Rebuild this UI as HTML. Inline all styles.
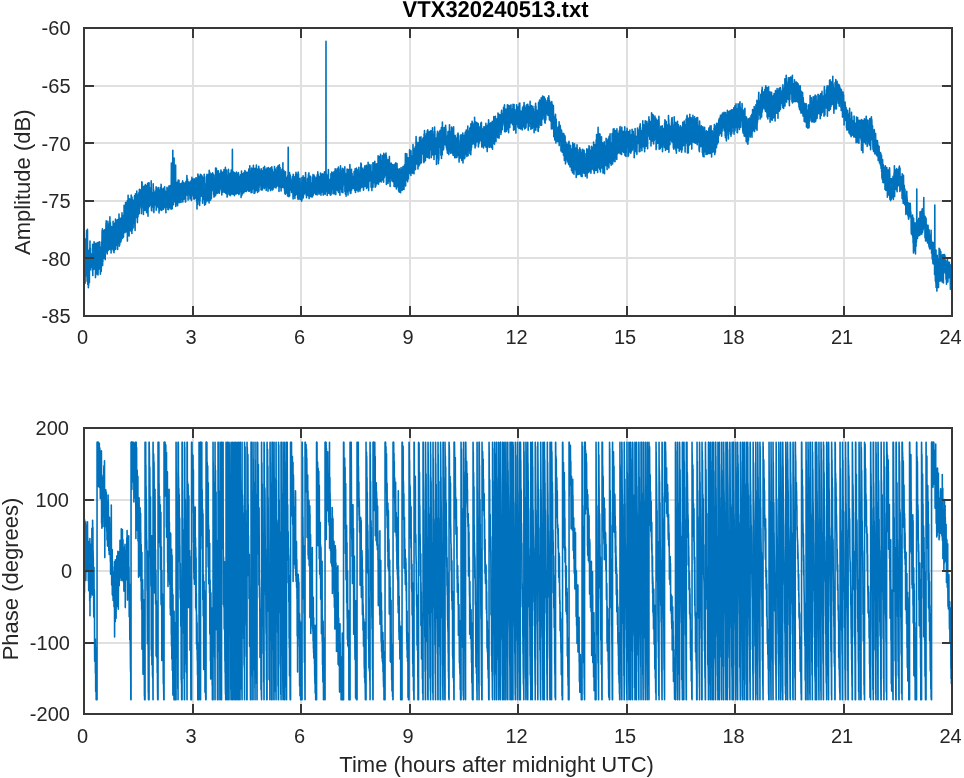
<!DOCTYPE html>
<html><head><meta charset="utf-8"><title>VTX320240513</title>
<style>html,body{margin:0;padding:0;background:#fff;}svg{display:block;}</style>
</head><body>
<svg width="964" height="778" viewBox="0 0 964 778" style="will-change:transform">
<rect width="964" height="778" fill="#fff"/>
<rect x="192.0" y="28.0" width="2" height="288.0" fill="#e0e0e0"/>
<rect x="300.0" y="28.0" width="2" height="288.0" fill="#e0e0e0"/>
<rect x="409.0" y="28.0" width="2" height="288.0" fill="#e0e0e0"/>
<rect x="517.0" y="28.0" width="2" height="288.0" fill="#e0e0e0"/>
<rect x="626.0" y="28.0" width="2" height="288.0" fill="#e0e0e0"/>
<rect x="734.0" y="28.0" width="2" height="288.0" fill="#e0e0e0"/>
<rect x="843.0" y="28.0" width="2" height="288.0" fill="#e0e0e0"/>
<rect x="84.0" y="85.0" width="868.0" height="2" fill="#e0e0e0"/>
<rect x="84.0" y="142.0" width="868.0" height="2" fill="#e0e0e0"/>
<rect x="84.0" y="200.0" width="868.0" height="2" fill="#e0e0e0"/>
<rect x="84.0" y="257.0" width="868.0" height="2" fill="#e0e0e0"/>
<rect x="192.0" y="428.0" width="2" height="286.0" fill="#e0e0e0"/>
<rect x="300.0" y="428.0" width="2" height="286.0" fill="#e0e0e0"/>
<rect x="409.0" y="428.0" width="2" height="286.0" fill="#e0e0e0"/>
<rect x="517.0" y="428.0" width="2" height="286.0" fill="#e0e0e0"/>
<rect x="626.0" y="428.0" width="2" height="286.0" fill="#e0e0e0"/>
<rect x="734.0" y="428.0" width="2" height="286.0" fill="#e0e0e0"/>
<rect x="843.0" y="428.0" width="2" height="286.0" fill="#e0e0e0"/>
<rect x="84.0" y="499.0" width="868.0" height="2" fill="#e0e0e0"/>
<rect x="84.0" y="570.0" width="868.0" height="2" fill="#e0e0e0"/>
<rect x="84.0" y="642.0" width="868.0" height="2" fill="#e0e0e0"/>
<polyline points="84.0,241.3 84.1,246.6 84.2,278.6 84.4,269.5 84.5,251.2 84.6,241.7 84.8,259.9 84.9,238.7 85.0,269.9 85.1,283.2 85.2,245.1 85.4,277.1 85.5,270.4 85.6,246.4 85.8,246.2 85.9,273.7 86.0,268.2 86.1,250.8 86.2,271.6 86.4,239.6 86.5,238.6 86.6,230.6 86.8,236.8 86.9,247.4 87.0,247.6 87.1,281.3 87.2,238.0 87.4,229.4 87.5,230.5 87.6,266.5 87.8,284.5 87.9,262.3 88.0,280.5 88.1,268.4 88.2,277.9 88.4,287.8 88.5,264.1 88.6,286.1 88.8,261.2 88.9,250.3 89.0,253.3 89.1,265.2 89.2,254.9 89.4,282.6 89.5,255.0 89.6,254.6 89.8,248.4 89.9,255.6 90.0,241.0 90.1,270.1 90.2,253.8 90.4,248.1 90.5,269.7 90.6,253.4 90.8,258.6 90.9,259.1 91.0,255.1 91.1,258.7 91.2,265.0 91.4,267.1 91.5,255.7 91.6,254.1 91.8,256.4 91.9,253.7 92.0,261.0 92.1,256.4 92.2,258.7 92.4,255.6 92.5,271.1 92.6,244.2 92.8,275.4 92.9,249.1 93.0,269.4 93.1,264.3 93.2,252.3 93.4,269.5 93.5,249.5 93.6,244.2 93.8,264.6 93.9,258.8 94.0,265.0 94.1,241.7 94.2,249.9 94.4,265.4 94.5,246.6 94.6,268.9 94.8,256.0 94.9,264.4 95.0,260.7 95.1,248.5 95.2,243.9 95.4,247.5 95.5,277.6 95.6,274.3 95.8,256.2 95.9,255.2 96.0,247.6 96.1,271.6 96.2,243.0 96.4,253.4 96.5,250.4 96.6,248.7 96.8,274.0 96.9,249.6 97.0,258.3 97.1,254.6 97.2,260.6 97.4,253.0 97.5,252.4 97.6,250.5 97.8,242.5 97.9,257.1 98.0,274.9 98.1,271.1 98.2,242.2 98.4,266.9 98.5,243.4 98.6,266.1 98.8,268.9 98.9,249.4 99.0,254.1 99.1,251.7 99.2,251.5 99.4,258.8 99.5,241.8 99.6,253.1 99.8,263.4 99.9,246.7 100.0,255.6 100.1,255.8 100.2,262.9 100.4,274.2 100.5,261.8 100.6,248.9 100.8,255.5 100.9,249.3 101.0,263.4 101.1,261.5 101.2,271.4 101.4,265.1 101.5,242.0 101.6,246.1 101.8,263.3 101.9,254.9 102.0,241.9 102.1,230.7 102.2,263.1 102.4,228.9 102.5,234.2 102.6,265.5 102.8,254.6 102.9,261.8 103.0,240.4 103.1,235.4 103.2,247.9 103.4,248.0 103.5,237.0 103.6,230.6 103.8,237.4 103.9,258.1 104.0,255.3 104.1,247.8 104.2,252.5 104.4,249.1 104.5,240.1 104.6,229.8 104.8,250.7 104.9,249.8 105.0,249.3 105.1,256.7 105.2,259.6 105.4,237.1 105.5,246.3 105.6,245.7 105.8,228.6 105.9,234.1 106.0,223.2 106.1,251.9 106.2,220.9 106.4,245.2 106.5,231.3 106.6,225.7 106.8,232.0 106.9,248.8 107.0,240.6 107.1,234.4 107.2,254.0 107.4,243.9 107.5,228.0 107.6,233.5 107.8,243.8 107.9,221.3 108.0,242.4 108.1,250.6 108.2,237.7 108.4,233.1 108.5,227.6 108.6,236.2 108.8,247.8 108.9,233.8 109.0,240.7 109.1,224.0 109.2,226.5 109.4,225.2 109.5,249.4 109.6,223.6 109.8,231.1 109.9,216.8 110.0,240.7 110.1,243.9 110.2,235.8 110.4,222.4 110.5,232.6 110.6,228.0 110.8,240.7 110.9,233.8 111.0,229.6 111.1,252.9 111.2,239.3 111.4,238.1 111.5,237.6 111.6,226.5 111.8,240.8 111.9,236.0 112.0,249.0 112.1,249.0 112.2,245.9 112.4,245.9 112.5,236.3 112.6,231.8 112.8,234.3 112.9,236.5 113.0,247.6 113.1,221.2 113.2,241.7 113.4,250.9 113.5,228.5 113.6,228.2 113.8,247.6 113.9,242.0 114.0,252.7 114.1,240.1 114.2,250.7 114.4,245.8 114.5,240.9 114.6,223.2 114.8,223.8 114.9,245.4 115.0,233.7 115.1,240.0 115.2,232.9 115.4,231.2 115.5,219.0 115.6,249.3 115.8,226.7 115.9,229.9 116.0,220.2 116.1,241.2 116.2,243.8 116.4,234.7 116.5,233.1 116.6,238.2 116.8,223.5 116.9,239.7 117.0,239.9 117.1,231.6 117.2,245.8 117.4,235.8 117.5,219.6 117.6,249.4 117.8,234.9 117.9,242.2 118.0,220.0 118.1,242.0 118.2,220.1 118.4,221.0 118.5,222.9 118.6,233.7 118.8,232.7 118.9,229.1 119.0,214.0 119.1,236.7 119.2,241.4 119.4,246.1 119.5,234.5 119.6,245.2 119.8,243.5 119.9,221.6 120.0,218.2 120.1,223.6 120.2,235.5 120.4,219.6 120.5,219.1 120.6,241.9 120.8,234.1 120.9,241.9 121.0,221.8 121.1,218.7 121.2,218.1 121.4,240.0 121.5,220.5 121.6,237.4 121.8,220.7 121.9,236.8 122.0,212.9 122.1,222.4 122.2,220.1 122.4,238.0 122.5,238.1 122.6,223.0 122.8,220.1 122.9,233.9 123.0,222.6 123.1,237.5 123.2,229.3 123.4,223.0 123.5,236.9 123.6,215.3 123.8,223.3 123.9,214.9 124.0,219.7 124.1,205.2 124.2,213.6 124.4,213.7 124.5,207.4 124.6,215.2 124.8,229.8 124.9,215.8 125.0,232.7 125.1,222.1 125.2,222.3 125.4,208.5 125.5,229.7 125.6,202.5 125.8,207.4 125.9,210.5 126.0,208.7 126.1,231.8 126.2,213.2 126.4,203.5 126.5,222.2 126.6,221.8 126.8,216.5 126.9,225.7 127.0,202.4 127.1,218.5 127.2,200.9 127.4,241.1 127.5,223.4 127.6,209.3 127.8,235.1 127.9,216.2 128.0,216.7 128.1,195.3 128.2,214.7 128.4,220.1 128.5,207.4 128.6,226.7 128.8,208.3 128.9,225.4 129.0,203.9 129.1,236.1 129.2,225.5 129.4,201.3 129.5,213.8 129.6,198.9 129.8,220.2 129.9,209.9 130.0,225.4 130.1,229.9 130.2,201.3 130.4,226.6 130.5,210.0 130.6,211.8 130.8,219.2 130.9,231.1 131.0,219.2 131.1,202.4 131.2,195.1 131.4,196.9 131.5,210.5 131.6,201.2 131.8,198.9 131.9,233.5 132.0,197.1 132.1,205.7 132.2,230.2 132.4,215.7 132.5,223.5 132.6,207.9 132.8,215.3 132.9,200.0 133.0,210.7 133.1,228.1 133.2,223.4 133.4,206.1 133.5,211.2 133.6,221.3 133.8,202.2 133.9,212.2 134.0,219.3 134.1,217.1 134.2,209.4 134.4,215.7 134.5,195.7 134.6,223.2 134.8,199.6 134.9,227.8 135.0,213.8 135.1,230.4 135.2,206.6 135.4,214.0 135.5,193.8 135.6,199.7 135.8,194.3 135.9,217.5 136.0,197.0 136.1,206.2 136.2,196.6 136.4,195.3 136.5,216.7 136.6,200.1 136.8,191.0 136.9,199.1 137.0,193.6 137.1,214.8 137.2,215.7 137.4,222.6 137.5,213.5 137.6,195.5 137.8,217.4 137.9,195.2 138.0,216.4 138.1,196.9 138.2,215.0 138.4,202.4 138.5,201.0 138.6,199.1 138.8,198.5 138.9,192.5 139.0,205.7 139.1,199.1 139.2,213.8 139.4,189.2 139.5,194.7 139.6,200.4 139.8,206.0 139.9,206.0 140.0,195.1 140.1,203.7 140.2,203.3 140.4,198.8 140.5,192.0 140.6,193.7 140.8,206.2 140.9,189.7 141.0,208.3 141.1,198.8 141.2,195.0 141.4,213.6 141.5,210.0 141.6,207.1 141.8,181.7 141.9,196.6 142.0,207.1 142.1,182.2 142.2,193.4 142.4,196.0 142.5,195.3 142.6,198.5 142.8,194.8 142.9,207.4 143.0,191.1 143.1,200.9 143.2,197.5 143.4,214.4 143.5,207.7 143.6,186.6 143.8,189.9 143.9,190.5 144.0,192.1 144.1,207.0 144.2,195.2 144.4,186.1 144.5,204.4 144.6,190.8 144.8,193.2 144.9,196.3 145.0,210.4 145.1,190.0 145.2,197.6 145.4,184.6 145.5,186.1 145.6,192.5 145.8,199.5 145.9,191.5 146.0,201.5 146.1,189.5 146.2,190.6 146.4,206.3 146.5,200.6 146.6,212.6 146.8,187.6 146.9,185.6 147.0,206.2 147.1,188.6 147.2,210.5 147.4,198.9 147.5,194.3 147.6,183.6 147.8,197.3 147.9,207.7 148.0,216.2 148.1,194.7 148.2,182.9 148.4,208.2 148.5,192.3 148.6,198.5 148.8,188.9 148.9,200.4 149.0,185.1 149.1,182.9 149.2,206.5 149.4,205.9 149.5,190.4 149.6,201.1 149.8,204.0 149.9,192.0 150.0,194.3 150.1,191.9 150.2,188.0 150.4,199.8 150.5,200.6 150.6,202.9 150.8,194.7 150.9,205.2 151.0,196.8 151.1,199.7 151.2,180.9 151.4,208.4 151.5,210.7 151.6,192.4 151.8,197.3 151.9,197.9 152.0,194.8 152.1,192.5 152.2,201.4 152.4,202.0 152.5,197.7 152.6,207.0 152.8,202.6 152.9,197.5 153.0,195.6 153.1,206.8 153.2,183.7 153.4,201.8 153.5,211.5 153.6,189.2 153.8,200.1 153.9,212.6 154.0,191.3 154.1,208.3 154.2,199.4 154.4,202.4 154.5,201.5 154.6,202.3 154.8,192.5 154.9,203.5 155.0,201.2 155.1,197.7 155.2,204.9 155.4,205.0 155.5,195.2 155.6,192.7 155.8,193.4 155.9,190.4 156.0,199.9 156.1,186.7 156.2,210.2 156.4,204.8 156.5,199.7 156.6,188.4 156.8,187.8 156.9,205.0 157.0,201.0 157.1,200.2 157.2,194.7 157.4,189.2 157.5,206.8 157.6,194.4 157.8,193.3 157.9,195.1 158.0,198.7 158.1,196.6 158.2,190.1 158.4,207.9 158.5,189.3 158.6,187.5 158.8,205.7 158.9,199.1 159.0,210.4 159.1,212.9 159.2,196.5 159.4,190.1 159.5,191.7 159.6,202.9 159.8,196.2 159.9,200.0 160.0,192.9 160.1,200.5 160.2,210.0 160.4,202.3 160.5,190.7 160.6,187.5 160.8,202.1 160.9,203.0 161.0,204.1 161.1,184.4 161.2,186.9 161.4,199.5 161.5,201.3 161.6,204.9 161.8,210.5 161.9,205.9 162.0,204.6 162.1,208.5 162.2,195.1 162.4,194.1 162.5,192.8 162.6,203.7 162.8,189.2 162.9,196.3 163.0,195.8 163.1,188.4 163.2,207.8 163.4,209.3 163.5,190.8 163.6,190.5 163.8,205.2 163.9,195.5 164.0,201.0 164.1,199.2 164.2,204.7 164.4,191.9 164.5,200.2 164.6,186.8 164.8,194.2 164.9,207.4 165.0,190.1 165.1,204.4 165.2,196.3 165.4,201.0 165.5,208.1 165.6,209.3 165.8,198.5 165.9,212.7 166.0,193.8 166.1,191.9 166.2,201.5 166.4,199.5 166.5,200.9 166.6,194.7 166.8,200.0 166.9,201.2 167.0,187.2 167.1,190.7 167.2,187.7 167.4,207.3 167.5,203.0 167.6,195.1 167.8,199.3 167.9,209.5 168.0,190.0 168.1,191.5 168.2,194.3 168.4,198.2 168.5,192.2 168.6,209.6 168.8,194.7 168.9,186.1 169.0,190.6 169.1,199.2 169.2,204.5 169.4,201.9 169.5,207.7 169.6,196.0 169.8,202.6 169.9,204.8 170.0,196.8 170.1,185.5 170.2,189.9 170.4,196.2 170.5,188.3 170.6,194.1 170.8,207.5 170.9,208.6 171.0,199.8 171.1,209.2 171.2,196.7 171.4,163.0 171.5,201.0 171.6,197.0 171.8,203.1 171.9,190.6 172.0,204.1 172.1,196.3 172.2,208.8 172.4,188.3 172.5,196.7 172.6,205.2 172.8,150.2 172.9,202.6 173.0,204.3 173.1,202.5 173.2,199.5 173.4,189.3 173.5,204.8 173.6,188.4 173.8,194.1 173.9,187.3 174.0,198.5 174.1,158.0 174.2,194.8 174.4,186.1 174.5,200.8 174.6,201.7 174.8,190.6 174.9,193.4 175.0,187.3 175.1,191.8 175.2,184.6 175.4,191.8 175.5,182.5 175.6,165.0 175.8,206.4 175.9,184.6 176.0,187.0 176.1,191.1 176.2,202.1 176.4,184.4 176.5,203.7 176.6,201.0 176.8,201.1 176.9,202.9 177.0,198.3 177.1,182.4 177.2,204.0 177.4,194.1 177.5,185.7 177.6,205.8 177.8,185.2 177.9,186.3 178.0,197.0 178.1,199.7 178.2,180.1 178.4,188.1 178.5,191.5 178.6,196.3 178.8,194.6 178.9,191.6 179.0,180.3 179.1,202.8 179.2,195.8 179.4,197.2 179.5,196.8 179.6,202.2 179.8,193.0 179.9,186.8 180.0,197.1 180.1,183.7 180.2,196.9 180.4,198.8 180.5,195.9 180.6,199.6 180.8,183.8 180.9,198.5 181.0,202.4 181.1,200.1 181.2,185.8 181.4,183.4 181.5,191.7 181.6,186.8 181.8,195.3 181.9,184.1 182.0,194.5 182.1,187.1 182.2,193.5 182.4,198.8 182.5,188.1 182.6,180.8 182.8,201.9 182.9,183.0 183.0,187.4 183.1,196.0 183.2,182.3 183.4,199.6 183.5,191.0 183.6,197.3 183.8,187.1 183.9,185.2 184.0,199.1 184.1,198.6 184.2,194.8 184.4,187.5 184.5,184.0 184.6,183.1 184.8,186.6 184.9,196.0 185.0,187.8 185.1,184.4 185.2,186.3 185.4,195.8 185.5,202.0 185.6,201.6 185.8,192.5 185.9,194.6 186.0,181.2 186.1,185.8 186.2,193.6 186.4,181.8 186.5,195.0 186.6,182.9 186.8,191.4 186.9,175.6 187.0,194.6 187.1,183.4 187.2,192.5 187.4,195.2 187.5,179.1 187.6,185.7 187.8,181.3 187.9,184.5 188.0,182.8 188.1,200.1 188.2,183.5 188.4,193.7 188.5,182.8 188.6,182.0 188.8,189.0 188.9,191.4 189.0,190.7 189.1,187.6 189.2,185.2 189.4,190.8 189.5,190.7 189.6,190.7 189.8,195.8 189.9,182.0 190.0,198.9 190.1,196.5 190.2,195.5 190.4,192.9 190.5,181.9 190.6,195.9 190.8,183.8 190.9,185.1 191.0,198.0 191.1,187.8 191.2,180.2 191.4,192.6 191.5,200.4 191.6,196.9 191.8,194.7 191.9,177.3 192.0,184.2 192.1,182.3 192.2,185.4 192.4,192.7 192.5,195.5 192.6,185.7 192.8,187.0 192.9,181.5 193.0,179.0 193.1,191.6 193.2,188.0 193.4,190.7 193.5,188.5 193.6,189.1 193.8,199.0 193.9,187.6 194.0,192.9 194.1,199.2 194.2,178.9 194.4,196.9 194.5,188.7 194.6,197.5 194.8,194.6 194.9,198.5 195.0,185.4 195.1,192.8 195.2,180.0 195.4,198.0 195.5,185.2 195.6,184.2 195.8,193.5 195.9,177.9 196.0,189.8 196.1,192.4 196.2,177.9 196.4,192.4 196.5,181.5 196.6,200.9 196.8,180.2 196.9,190.5 197.0,209.0 197.1,191.3 197.2,178.5 197.4,188.0 197.5,193.7 197.6,195.1 197.8,204.2 197.9,174.1 198.0,174.4 198.1,193.1 198.2,185.7 198.4,198.4 198.5,179.8 198.6,178.3 198.8,193.8 198.9,188.2 199.0,177.0 199.1,200.8 199.2,176.2 199.4,192.7 199.5,186.8 199.6,205.5 199.8,189.4 199.9,181.1 200.0,201.2 200.1,189.9 200.2,181.8 200.4,174.3 200.5,190.5 200.6,178.3 200.8,188.6 200.9,196.4 201.0,194.9 201.1,191.0 201.2,180.2 201.4,175.1 201.5,195.7 201.6,187.2 201.8,188.8 201.9,175.9 202.0,178.0 202.1,178.5 202.2,192.1 202.4,176.9 202.5,179.9 202.6,203.3 202.8,191.8 202.9,199.9 203.0,188.6 203.1,192.5 203.2,184.9 203.4,186.0 203.5,177.6 203.6,191.0 203.8,199.8 203.9,192.6 204.0,189.0 204.1,192.1 204.2,174.2 204.4,177.0 204.5,184.3 204.6,205.3 204.8,198.3 204.9,196.9 205.0,192.6 205.1,203.5 205.2,188.7 205.4,202.4 205.5,204.2 205.6,194.7 205.8,186.7 205.9,198.3 206.0,202.3 206.1,183.6 206.2,195.6 206.4,176.7 206.5,191.8 206.6,179.7 206.8,197.9 206.9,174.4 207.0,195.5 207.1,189.4 207.2,198.5 207.4,194.0 207.5,181.4 207.6,200.9 207.8,194.0 207.9,176.9 208.0,194.6 208.1,199.8 208.2,182.4 208.4,190.0 208.5,174.4 208.6,184.3 208.8,187.8 208.9,182.9 209.0,180.4 209.1,203.0 209.2,170.4 209.4,182.1 209.5,182.6 209.6,183.1 209.8,172.2 209.9,183.0 210.0,179.7 210.1,180.7 210.2,174.9 210.4,194.1 210.5,200.3 210.6,173.8 210.8,176.3 210.9,195.9 211.0,179.9 211.1,187.3 211.2,180.4 211.4,198.6 211.5,174.0 211.6,182.1 211.8,191.1 211.9,190.9 212.0,187.1 212.1,187.0 212.2,174.0 212.4,176.3 212.5,189.7 212.6,172.8 212.8,183.8 212.9,177.0 213.0,175.7 213.1,180.7 213.2,174.0 213.4,175.5 213.5,182.7 213.6,194.7 213.8,192.8 213.9,192.9 214.0,197.1 214.1,188.2 214.2,178.9 214.4,182.9 214.5,178.6 214.6,194.8 214.8,185.5 214.9,187.9 215.0,196.1 215.1,174.8 215.2,175.7 215.4,191.4 215.5,193.6 215.6,168.0 215.8,195.0 215.9,176.3 216.0,177.4 216.1,189.0 216.2,193.4 216.4,168.2 216.5,183.2 216.6,192.6 216.8,186.6 216.9,183.6 217.0,188.5 217.1,189.7 217.2,170.7 217.4,193.2 217.5,174.3 217.6,183.0 217.8,192.9 217.9,177.1 218.0,180.4 218.1,185.2 218.2,181.0 218.4,170.8 218.5,182.2 218.6,176.7 218.8,175.9 218.9,174.0 219.0,174.0 219.1,192.7 219.2,190.3 219.4,193.2 219.5,180.4 219.6,174.1 219.8,190.9 219.9,175.6 220.0,180.6 220.1,188.0 220.2,173.1 220.4,181.1 220.5,188.6 220.6,187.2 220.8,179.9 220.9,170.0 221.0,175.3 221.1,185.0 221.2,171.1 221.4,174.4 221.5,176.8 221.6,174.9 221.8,194.9 221.9,188.7 222.0,185.6 222.1,174.0 222.2,185.2 222.4,176.5 222.5,176.9 222.6,176.6 222.8,182.1 222.9,172.0 223.0,187.7 223.1,192.3 223.2,185.7 223.4,189.8 223.5,190.7 223.6,187.5 223.8,180.7 223.9,173.9 224.0,169.5 224.1,177.2 224.2,175.9 224.4,170.7 224.5,174.8 224.6,178.6 224.8,192.5 224.9,173.1 225.0,185.3 225.1,171.6 225.2,188.9 225.4,167.3 225.5,181.5 225.6,181.3 225.8,193.5 225.9,183.0 226.0,175.1 226.1,190.6 226.2,171.7 226.4,192.2 226.5,186.1 226.6,170.0 226.8,190.6 226.9,193.4 227.0,175.7 227.1,197.1 227.2,177.2 227.4,196.1 227.5,181.5 227.6,179.0 227.8,181.4 227.9,189.0 228.0,190.8 228.1,192.8 228.2,192.0 228.4,171.6 228.5,169.2 228.6,178.4 228.8,179.6 228.9,178.5 229.0,185.5 229.1,175.3 229.2,194.6 229.4,179.7 229.5,176.3 229.6,182.0 229.8,181.2 229.9,184.8 230.0,173.7 230.1,183.5 230.2,195.7 230.4,172.9 230.5,194.9 230.6,176.8 230.8,178.6 230.9,192.5 231.0,183.3 231.1,194.6 231.2,170.0 231.4,185.9 231.5,175.0 231.6,186.7 231.8,191.2 231.9,174.1 232.0,175.2 232.1,193.4 232.2,192.6 232.4,149.4 232.5,185.4 232.6,174.0 232.8,182.2 232.9,194.4 233.0,183.4 233.1,171.6 233.2,192.4 233.4,186.9 233.5,174.6 233.6,178.6 233.8,176.1 233.9,192.8 234.0,183.5 234.1,191.9 234.2,184.8 234.4,195.7 234.5,172.6 234.6,179.3 234.8,191.0 234.9,185.9 235.0,194.1 235.1,180.5 235.2,173.4 235.4,181.6 235.5,176.8 235.6,178.1 235.8,175.5 235.9,177.1 236.0,179.3 236.1,185.2 236.2,193.9 236.4,173.8 236.5,172.0 236.6,180.8 236.8,182.6 236.9,173.9 237.0,190.4 237.1,181.4 237.2,190.2 237.4,186.1 237.5,174.7 237.6,193.2 237.8,183.0 237.9,191.5 238.0,188.5 238.1,178.4 238.2,181.8 238.4,172.5 238.5,173.7 238.6,181.4 238.8,194.6 238.9,188.6 239.0,189.0 239.1,178.1 239.2,194.0 239.4,183.0 239.5,184.4 239.6,192.1 239.8,176.8 239.9,176.6 240.0,184.3 240.1,182.0 240.2,185.4 240.4,174.7 240.5,177.5 240.6,177.9 240.8,182.8 240.9,188.1 241.0,184.5 241.1,197.5 241.2,180.1 241.4,185.4 241.5,171.1 241.6,184.3 241.8,194.8 241.9,191.7 242.0,173.8 242.1,195.0 242.2,181.2 242.4,193.5 242.5,176.4 242.6,173.7 242.8,191.0 242.9,181.0 243.0,174.5 243.1,174.7 243.2,181.2 243.4,176.9 243.5,173.2 243.6,185.2 243.8,193.0 243.9,184.6 244.0,183.9 244.1,172.6 244.2,172.2 244.4,190.5 244.5,191.4 244.6,184.6 244.8,173.3 244.9,170.5 245.0,180.3 245.1,180.5 245.2,180.5 245.4,189.0 245.5,188.9 245.6,181.1 245.8,191.5 245.9,172.0 246.0,174.7 246.1,173.0 246.2,175.2 246.4,191.5 246.5,174.1 246.6,189.4 246.8,172.6 246.9,177.3 247.0,180.0 247.1,181.0 247.2,190.0 247.4,183.1 247.5,177.0 247.6,172.4 247.8,183.4 247.9,187.2 248.0,181.5 248.1,175.1 248.2,174.2 248.4,185.9 248.5,191.1 248.6,190.5 248.8,169.1 248.9,170.8 249.0,174.7 249.1,172.3 249.2,182.8 249.4,191.3 249.5,184.2 249.6,178.1 249.8,165.8 249.9,185.7 250.0,187.2 250.1,184.6 250.2,189.4 250.4,190.1 250.5,180.4 250.6,173.4 250.8,173.2 250.9,187.8 251.0,183.9 251.1,192.8 251.2,187.9 251.4,172.2 251.5,170.3 251.6,168.0 251.8,169.8 251.9,174.7 252.0,192.4 252.1,178.4 252.2,168.6 252.4,189.4 252.5,176.7 252.6,181.7 252.8,182.2 252.9,168.6 253.0,182.5 253.1,175.3 253.2,173.0 253.4,165.2 253.5,179.9 253.6,172.2 253.8,170.6 253.9,183.1 254.0,185.8 254.1,193.5 254.2,191.7 254.4,182.1 254.5,188.6 254.6,173.1 254.8,182.0 254.9,193.0 255.0,168.2 255.1,187.9 255.2,172.2 255.4,168.5 255.5,179.7 255.6,191.0 255.8,175.1 255.9,170.1 256.0,176.8 256.1,170.3 256.2,182.0 256.4,165.1 256.5,172.0 256.6,190.5 256.8,172.6 256.9,186.5 257.0,177.8 257.1,168.7 257.2,175.9 257.4,174.8 257.5,189.1 257.6,192.5 257.8,186.2 257.9,179.6 258.0,187.3 258.1,170.7 258.2,172.5 258.4,169.4 258.5,180.3 258.6,186.5 258.8,166.4 258.9,191.1 259.0,178.8 259.1,187.4 259.2,184.2 259.4,169.1 259.5,185.6 259.6,171.5 259.8,184.1 259.9,180.7 260.0,175.1 260.1,172.7 260.2,176.6 260.4,183.5 260.5,184.2 260.6,179.1 260.8,186.0 260.9,170.7 261.0,189.7 261.1,174.9 261.2,168.8 261.4,182.7 261.5,180.7 261.6,174.9 261.8,176.8 261.9,185.5 262.0,190.2 262.1,170.8 262.2,180.1 262.4,189.4 262.5,178.4 262.6,187.5 262.8,177.5 262.9,185.5 263.0,172.1 263.1,181.5 263.2,182.2 263.4,167.9 263.5,167.7 263.6,179.5 263.8,168.8 263.9,185.5 264.0,180.5 264.1,168.5 264.2,188.6 264.4,187.6 264.5,188.4 264.6,166.4 264.8,168.9 264.9,171.7 265.0,171.4 265.1,182.1 265.2,187.2 265.4,184.7 265.5,169.6 265.6,187.2 265.8,177.3 265.9,176.9 266.0,183.8 266.1,181.5 266.2,190.5 266.4,169.1 266.5,173.2 266.6,171.5 266.8,172.5 266.9,180.9 267.0,168.1 267.1,185.1 267.2,183.3 267.4,183.3 267.5,187.0 267.6,180.8 267.8,182.9 267.9,170.4 268.0,191.2 268.1,187.0 268.2,178.4 268.4,167.5 268.5,180.3 268.6,177.7 268.8,170.6 268.9,179.6 269.0,184.4 269.1,188.4 269.2,174.8 269.4,168.5 269.5,172.3 269.6,182.4 269.8,181.1 269.9,172.3 270.0,185.2 270.1,175.9 270.2,181.6 270.4,183.9 270.5,190.6 270.6,177.8 270.8,167.8 270.9,181.7 271.0,170.9 271.1,180.3 271.2,188.4 271.4,179.0 271.5,186.7 271.6,173.1 271.8,166.9 271.9,180.7 272.0,184.6 272.1,170.7 272.2,190.1 272.4,169.3 272.5,187.4 272.6,184.8 272.8,173.1 272.9,182.9 273.0,189.5 273.1,173.9 273.2,177.6 273.4,172.0 273.5,178.8 273.6,188.0 273.8,171.7 273.9,187.2 274.0,182.5 274.1,176.0 274.2,182.4 274.4,182.7 274.5,166.6 274.6,175.2 274.8,174.1 274.9,187.1 275.0,179.9 275.1,176.2 275.2,168.9 275.4,184.4 275.5,170.4 275.6,176.7 275.8,184.3 275.9,181.5 276.0,188.0 276.1,184.6 276.2,185.5 276.4,178.5 276.5,178.7 276.6,186.5 276.8,171.9 276.9,170.6 277.0,167.6 277.1,167.2 277.2,182.3 277.4,172.6 277.5,185.4 277.6,169.8 277.8,175.3 277.9,184.0 278.0,182.6 278.1,165.9 278.2,180.4 278.4,186.3 278.5,172.2 278.6,186.8 278.8,180.9 278.9,173.4 279.0,191.5 279.1,186.0 279.2,186.3 279.4,164.8 279.5,184.4 279.6,178.1 279.8,170.3 279.9,186.6 280.0,171.9 280.1,167.5 280.2,180.4 280.4,182.1 280.5,187.2 280.6,171.7 280.8,183.9 280.9,180.8 281.0,186.3 281.1,191.0 281.2,184.5 281.4,171.3 281.5,179.0 281.6,173.0 281.8,175.1 281.9,169.2 282.0,177.1 282.1,169.8 282.2,185.5 282.4,175.4 282.5,177.6 282.6,187.5 282.8,184.5 282.9,162.8 283.0,185.7 283.1,178.2 283.2,185.4 283.4,180.5 283.5,182.7 283.6,187.5 283.8,184.9 283.9,170.5 284.0,188.0 284.1,173.5 284.2,176.0 284.4,180.9 284.5,180.6 284.6,191.2 284.8,190.1 284.9,193.8 285.0,175.1 285.1,188.2 285.2,177.4 285.4,194.2 285.5,171.8 285.6,182.1 285.8,180.2 285.9,186.9 286.0,181.0 286.1,191.5 286.2,177.1 286.4,184.9 286.5,193.0 286.6,186.7 286.8,191.9 286.9,191.3 287.0,180.1 287.1,182.4 287.2,186.4 287.4,183.5 287.5,180.2 287.6,196.0 287.8,175.5 287.9,181.3 288.0,178.0 288.1,186.6 288.2,147.3 288.4,185.5 288.5,191.8 288.6,174.9 288.8,196.6 288.9,194.6 289.0,191.0 289.1,180.9 289.2,174.9 289.4,189.5 289.5,172.5 289.6,196.0 289.8,177.8 289.9,183.8 290.0,188.3 290.1,177.7 290.2,174.9 290.4,182.9 290.5,177.9 290.6,190.0 290.8,186.1 290.9,189.7 291.0,189.1 291.1,183.3 291.2,184.9 291.4,188.9 291.5,181.2 291.6,192.5 291.8,186.3 291.9,185.2 292.0,180.3 292.1,179.7 292.2,188.0 292.4,176.5 292.5,181.8 292.6,181.2 292.8,177.3 292.9,186.7 293.0,195.6 293.1,198.9 293.2,174.3 293.4,187.0 293.5,180.8 293.6,196.0 293.8,186.4 293.9,190.1 294.0,176.5 294.1,191.2 294.2,180.2 294.4,183.8 294.5,183.7 294.6,189.1 294.8,185.7 294.9,198.4 295.0,183.4 295.1,180.1 295.2,187.3 295.4,194.9 295.5,195.2 295.6,174.5 295.8,176.8 295.9,174.5 296.0,172.2 296.1,191.2 296.2,192.3 296.4,194.3 296.5,193.5 296.6,180.9 296.8,181.8 296.9,181.7 297.0,186.7 297.1,174.4 297.2,188.3 297.4,182.7 297.5,182.5 297.6,197.1 297.8,198.0 297.9,183.0 298.0,177.8 298.1,199.5 298.2,172.1 298.4,196.4 298.5,173.8 298.6,185.7 298.8,181.0 298.9,181.5 299.0,185.4 299.1,184.9 299.2,193.1 299.4,191.5 299.5,197.9 299.6,187.7 299.8,186.7 299.9,193.5 300.0,199.4 300.1,178.4 300.2,195.6 300.4,195.8 300.5,186.5 300.6,187.5 300.8,182.5 300.9,190.4 301.0,188.5 301.1,184.4 301.2,192.8 301.4,193.9 301.5,201.2 301.6,185.4 301.8,191.1 301.9,177.5 302.0,199.9 302.1,184.6 302.2,179.8 302.4,193.2 302.5,182.5 302.6,188.7 302.8,182.9 302.9,191.6 303.0,181.7 303.1,175.8 303.2,198.0 303.4,196.0 303.5,184.7 303.6,188.7 303.8,191.1 303.9,190.9 304.0,190.0 304.1,177.5 304.2,180.6 304.4,189.8 304.5,193.9 304.6,190.9 304.8,178.6 304.9,179.4 305.0,191.1 305.1,191.4 305.2,189.3 305.4,182.4 305.5,179.5 305.6,172.5 305.8,179.5 305.9,191.6 306.0,178.2 306.1,182.9 306.2,195.4 306.4,194.9 306.5,197.7 306.6,185.9 306.8,189.9 306.9,184.4 307.0,182.7 307.1,188.5 307.2,184.8 307.4,182.6 307.5,187.1 307.6,195.2 307.8,178.2 307.9,184.8 308.0,191.5 308.1,195.6 308.2,182.7 308.4,177.1 308.5,174.4 308.6,180.3 308.8,181.4 308.9,172.9 309.0,180.6 309.1,198.6 309.2,180.2 309.4,180.6 309.5,179.2 309.6,185.5 309.8,190.0 309.9,176.4 310.0,187.6 310.1,196.5 310.2,182.5 310.4,176.2 310.5,184.4 310.6,194.8 310.8,185.3 310.9,196.4 311.0,193.4 311.1,185.9 311.2,190.5 311.4,186.1 311.5,183.3 311.6,185.3 311.8,183.6 311.9,187.5 312.0,197.2 312.1,188.9 312.2,195.1 312.4,177.1 312.5,179.7 312.6,196.2 312.8,182.3 312.9,187.3 313.0,174.5 313.1,195.2 313.2,195.2 313.4,189.6 313.5,178.6 313.6,180.5 313.8,182.3 313.9,193.0 314.0,175.1 314.1,176.1 314.2,189.4 314.4,190.8 314.5,185.2 314.6,184.7 314.8,180.2 314.9,176.9 315.0,178.6 315.1,180.9 315.2,193.3 315.4,187.1 315.5,185.9 315.6,194.4 315.8,181.6 315.9,185.1 316.0,191.3 316.1,189.8 316.2,180.2 316.4,178.0 316.5,181.4 316.6,182.7 316.8,177.4 316.9,181.3 317.0,176.7 317.1,195.0 317.2,174.7 317.4,185.6 317.5,188.2 317.6,177.3 317.8,171.9 317.9,187.3 318.0,182.9 318.1,183.5 318.2,174.6 318.4,192.4 318.5,178.1 318.6,189.5 318.8,191.9 318.9,179.3 319.0,194.2 319.1,178.8 319.2,185.6 319.4,181.3 319.5,184.2 319.6,181.2 319.8,176.2 319.9,193.5 320.0,181.1 320.1,184.0 320.2,182.0 320.4,185.4 320.5,173.0 320.6,191.4 320.8,176.2 320.9,185.9 321.0,195.3 321.1,180.2 321.2,176.6 321.4,189.9 321.5,188.3 321.6,174.3 321.8,177.4 321.9,192.1 322.0,188.6 322.1,185.1 322.2,190.9 322.4,176.7 322.5,173.8 322.6,177.8 322.8,176.9 322.9,186.8 323.0,174.1 323.1,184.5 323.2,195.1 323.4,178.2 323.5,186.5 323.6,185.8 323.8,192.2 323.9,191.8 324.0,193.3 324.1,182.8 324.2,193.9 324.4,174.9 324.5,171.9 324.6,188.5 324.8,186.1 324.9,179.5 325.0,184.3 325.1,192.5 325.2,194.3 325.4,186.3 325.5,190.1 325.6,184.7 325.8,180.7 325.9,180.5 326.0,41.2 326.1,185.5 326.2,178.0 326.4,174.2 326.5,191.4 326.6,186.9 326.8,183.8 326.9,187.7 327.0,177.2 327.1,178.1 327.2,195.4 327.4,175.3 327.5,178.2 327.6,193.6 327.8,175.1 327.9,175.0 328.0,176.6 328.1,176.2 328.2,178.4 328.4,169.6 328.5,173.5 328.6,185.3 328.8,184.3 328.9,187.2 329.0,185.9 329.1,179.5 329.2,193.5 329.4,182.7 329.5,190.3 329.6,192.7 329.8,182.6 329.9,188.6 330.0,184.7 330.1,191.8 330.2,186.2 330.4,195.2 330.5,183.1 330.6,178.5 330.8,186.6 330.9,173.8 331.0,194.8 331.1,194.2 331.2,190.8 331.4,183.3 331.5,178.4 331.6,188.9 331.8,172.0 331.9,184.2 332.0,174.3 332.1,175.1 332.2,189.1 332.4,172.6 332.5,175.9 332.6,182.5 332.8,172.9 332.9,187.7 333.0,193.6 333.1,174.2 333.2,189.6 333.4,176.1 333.5,183.0 333.6,182.2 333.8,181.7 333.9,179.9 334.0,188.6 334.1,171.5 334.2,194.0 334.4,188.7 334.5,171.4 334.6,171.4 334.8,179.4 334.9,173.4 335.0,172.2 335.1,183.5 335.2,168.7 335.4,179.8 335.5,173.6 335.6,186.4 335.8,194.6 335.9,176.5 336.0,177.1 336.1,178.4 336.2,180.8 336.4,174.6 336.5,184.5 336.6,170.2 336.8,189.0 336.9,190.0 337.0,174.7 337.1,168.8 337.2,189.6 337.4,172.6 337.5,177.7 337.6,177.1 337.8,182.9 337.9,191.1 338.0,174.2 338.1,189.1 338.2,179.5 338.4,167.0 338.5,188.5 338.6,192.4 338.8,179.5 338.9,177.0 339.0,190.9 339.1,183.4 339.2,174.7 339.4,189.8 339.5,192.8 339.6,189.1 339.8,173.4 339.9,195.2 340.0,189.0 340.1,169.1 340.2,189.6 340.4,181.2 340.5,165.8 340.6,172.0 340.8,173.8 340.9,186.6 341.0,170.9 341.1,173.2 341.2,171.4 341.4,183.7 341.5,174.2 341.6,174.1 341.8,190.4 341.9,192.2 342.0,174.7 342.1,189.8 342.2,177.7 342.4,168.3 342.5,184.6 342.6,185.4 342.8,181.4 342.9,192.7 343.0,178.3 343.1,186.4 343.2,171.6 343.4,184.1 343.5,184.2 343.6,174.9 343.8,169.1 343.9,178.6 344.0,172.5 344.1,182.0 344.2,171.1 344.4,172.0 344.5,177.6 344.6,183.4 344.8,166.8 344.9,191.4 345.0,172.4 345.1,180.2 345.2,177.5 345.4,194.1 345.5,191.0 345.6,173.7 345.8,187.2 345.9,185.3 346.0,175.9 346.1,196.3 346.2,189.4 346.4,175.9 346.5,192.3 346.6,191.1 346.8,186.5 346.9,180.9 347.0,177.1 347.1,169.0 347.2,183.3 347.4,186.7 347.5,187.9 347.6,178.1 347.8,191.0 347.9,173.1 348.0,195.1 348.1,187.2 348.2,178.5 348.4,182.4 348.5,169.6 348.6,184.1 348.8,190.7 348.9,184.9 349.0,187.4 349.1,184.1 349.2,175.6 349.4,173.6 349.5,184.9 349.6,174.6 349.8,173.1 349.9,164.5 350.0,173.2 350.1,185.2 350.2,191.7 350.4,193.4 350.5,187.5 350.6,187.9 350.8,189.6 350.9,193.2 351.0,185.3 351.1,179.4 351.2,184.4 351.4,186.9 351.5,169.3 351.6,190.2 351.8,181.2 351.9,179.9 352.0,179.7 352.1,173.6 352.2,187.9 352.4,181.7 352.5,176.3 352.6,178.6 352.8,182.6 352.9,177.1 353.0,183.2 353.1,177.9 353.2,188.5 353.4,187.1 353.5,187.6 353.6,182.3 353.8,182.7 353.9,177.2 354.0,176.7 354.1,171.6 354.2,188.7 354.4,181.0 354.5,177.3 354.6,179.5 354.8,190.4 354.9,185.0 355.0,188.1 355.1,168.8 355.2,176.3 355.4,172.2 355.5,192.4 355.6,184.3 355.8,181.8 355.9,182.9 356.0,185.8 356.1,190.5 356.2,178.6 356.4,188.9 356.5,168.1 356.6,170.6 356.8,190.0 356.9,189.6 357.0,175.0 357.1,178.4 357.2,169.9 357.4,172.1 357.5,175.0 357.6,171.3 357.8,186.6 357.9,180.0 358.0,179.2 358.1,191.7 358.2,170.6 358.4,169.9 358.5,175.2 358.6,189.7 358.8,169.6 358.9,167.2 359.0,181.7 359.1,185.1 359.2,175.5 359.4,177.1 359.5,175.2 359.6,185.5 359.8,179.4 359.9,190.7 360.0,191.1 360.1,173.1 360.2,180.6 360.4,184.7 360.5,188.8 360.6,170.3 360.8,168.6 360.9,163.0 361.0,187.6 361.1,186.2 361.2,163.6 361.4,168.2 361.5,180.5 361.6,179.0 361.8,173.0 361.9,179.1 362.0,173.6 362.1,186.3 362.2,187.0 362.4,168.4 362.5,180.5 362.6,184.0 362.8,176.1 362.9,180.9 363.0,173.2 363.1,173.1 363.2,179.1 363.4,185.0 363.5,190.2 363.6,188.9 363.8,169.3 363.9,182.1 364.0,180.0 364.1,186.3 364.2,184.1 364.4,167.2 364.5,180.3 364.6,170.7 364.8,175.4 364.9,165.7 365.0,186.5 365.1,178.2 365.2,182.9 365.4,174.5 365.5,175.2 365.6,169.5 365.8,169.5 365.9,176.6 366.0,184.0 366.1,170.6 366.2,183.4 366.4,165.4 366.5,188.5 366.6,184.3 366.8,185.6 366.9,180.2 367.0,187.6 367.1,186.8 367.2,173.4 367.4,184.7 367.5,166.2 367.6,170.1 367.8,186.5 367.9,180.2 368.0,179.6 368.1,162.3 368.2,178.8 368.4,168.5 368.5,178.2 368.6,190.6 368.8,178.9 368.9,179.3 369.0,170.6 369.1,181.8 369.2,164.5 369.4,166.3 369.5,171.9 369.6,180.9 369.8,169.6 369.9,169.2 370.0,180.0 370.1,172.9 370.2,180.5 370.4,167.8 370.5,169.9 370.6,178.6 370.8,167.5 370.9,170.9 371.0,164.7 371.1,187.3 371.2,176.2 371.4,182.2 371.5,186.3 371.6,185.9 371.8,178.4 371.9,190.6 372.0,175.0 372.1,172.2 372.2,172.4 372.4,173.8 372.5,179.2 372.6,171.4 372.8,186.5 372.9,162.9 373.0,187.2 373.1,177.3 373.2,169.4 373.4,167.6 373.5,168.7 373.6,165.3 373.8,162.9 373.9,166.9 374.0,182.6 374.1,165.7 374.2,164.0 374.4,174.6 374.5,171.8 374.6,168.8 374.8,161.3 374.9,173.0 375.0,173.3 375.1,185.1 375.2,187.3 375.4,168.8 375.5,186.6 375.6,178.2 375.8,164.2 375.9,186.1 376.0,172.1 376.1,171.4 376.2,177.2 376.4,164.9 376.5,173.3 376.6,167.7 376.8,163.9 376.9,166.8 377.0,183.8 377.1,174.3 377.2,168.4 377.4,169.1 377.5,169.2 377.6,164.4 377.8,180.7 377.9,167.3 378.0,168.8 378.1,155.8 378.2,179.8 378.4,166.7 378.5,184.2 378.6,161.7 378.8,164.7 378.9,174.8 379.0,171.5 379.1,173.3 379.2,171.2 379.4,179.9 379.5,175.7 379.6,156.5 379.8,181.8 379.9,160.6 380.0,161.5 380.1,172.1 380.2,175.8 380.4,163.4 380.5,157.2 380.6,154.4 380.8,178.9 380.9,161.5 381.0,172.8 381.1,174.0 381.2,178.8 381.4,181.9 381.5,161.9 381.6,171.5 381.8,161.9 381.9,161.9 382.0,160.6 382.1,160.5 382.2,180.0 382.4,155.6 382.5,172.4 382.6,172.7 382.8,168.6 382.9,159.9 383.0,162.4 383.1,179.1 383.2,176.3 383.4,157.3 383.5,163.5 383.6,182.2 383.8,153.4 383.9,165.8 384.0,174.3 384.1,156.2 384.2,166.1 384.4,177.5 384.5,169.4 384.6,176.1 384.8,172.9 384.9,157.0 385.0,155.5 385.1,170.5 385.2,160.2 385.4,154.6 385.5,154.2 385.6,174.8 385.8,171.7 385.9,175.0 386.0,153.0 386.1,167.5 386.2,155.5 386.4,184.4 386.5,171.3 386.6,157.7 386.8,178.8 386.9,163.3 387.0,180.8 387.1,166.4 387.2,176.7 387.4,169.7 387.5,165.8 387.6,166.1 387.8,181.9 387.9,179.3 388.0,183.4 388.1,159.7 388.2,172.7 388.4,172.7 388.5,163.1 388.6,169.1 388.8,181.5 388.9,172.2 389.0,174.1 389.1,170.0 389.2,176.2 389.4,156.5 389.5,165.9 389.6,172.3 389.8,175.8 389.9,165.0 390.0,166.6 390.1,186.5 390.2,165.4 390.4,168.9 390.5,171.0 390.6,167.1 390.8,175.5 390.9,163.6 391.0,178.1 391.1,168.8 391.2,163.1 391.4,172.4 391.5,178.3 391.6,169.8 391.8,165.5 391.9,181.0 392.0,173.8 392.1,167.7 392.2,180.4 392.4,172.3 392.5,175.4 392.6,164.5 392.8,171.8 392.9,167.0 393.0,181.8 393.1,169.0 393.2,174.0 393.4,169.0 393.5,182.1 393.6,165.3 393.8,175.0 393.9,171.4 394.0,177.7 394.1,186.4 394.2,186.4 394.4,177.0 394.5,164.4 394.6,182.5 394.8,180.7 394.9,183.9 395.0,182.4 395.1,167.7 395.2,186.5 395.4,172.0 395.5,185.0 395.6,167.4 395.8,162.8 395.9,168.7 396.0,166.2 396.1,174.5 396.2,169.5 396.4,189.0 396.5,184.3 396.6,186.6 396.8,178.4 396.9,173.2 397.0,163.6 397.1,168.3 397.2,171.6 397.4,171.1 397.5,174.4 397.6,186.8 397.8,183.8 397.9,178.9 398.0,173.3 398.1,169.2 398.2,175.3 398.4,169.9 398.5,186.1 398.6,190.9 398.8,177.2 398.9,170.0 399.0,186.6 399.1,176.4 399.2,192.1 399.4,168.7 399.5,182.8 399.6,185.5 399.8,170.1 399.9,188.0 400.0,173.2 400.1,187.6 400.2,185.4 400.4,182.3 400.5,178.1 400.6,192.7 400.8,174.4 400.9,184.9 401.0,175.1 401.1,167.6 401.2,168.7 401.4,173.6 401.5,184.1 401.6,190.2 401.8,175.7 401.9,185.5 402.0,179.1 402.1,188.4 402.2,190.3 402.4,175.3 402.5,189.8 402.6,180.7 402.8,171.1 402.9,167.4 403.0,166.6 403.1,185.4 403.2,176.1 403.4,167.3 403.5,179.4 403.6,178.6 403.8,182.7 403.9,175.3 404.0,189.5 404.1,177.7 404.2,172.0 404.4,181.2 404.5,164.8 404.6,165.6 404.8,181.4 404.9,181.6 405.0,174.9 405.1,165.1 405.2,173.7 405.4,153.5 405.5,178.8 405.6,185.9 405.8,155.8 405.9,165.5 406.0,180.4 406.1,176.0 406.2,161.8 406.4,160.5 406.5,170.7 406.6,168.7 406.8,153.7 406.9,169.1 407.0,167.8 407.1,162.5 407.2,157.4 407.4,170.3 407.5,161.0 407.6,181.7 407.8,172.6 407.9,172.2 408.0,172.3 408.1,157.7 408.2,173.2 408.4,178.9 408.5,167.0 408.6,174.8 408.8,164.7 408.9,159.3 409.0,161.7 409.1,173.6 409.2,165.3 409.4,165.3 409.5,173.3 409.6,149.7 409.8,150.8 409.9,169.3 410.0,167.8 410.1,172.5 410.2,161.6 410.4,170.2 410.5,155.4 410.6,154.9 410.8,173.1 410.9,175.5 411.0,150.9 411.1,165.8 411.2,171.6 411.4,168.7 411.5,160.0 411.6,159.6 411.8,156.1 411.9,158.5 412.0,163.9 412.1,157.2 412.2,166.4 412.4,164.5 412.5,173.3 412.6,161.1 412.8,157.4 412.9,165.6 413.0,144.5 413.1,151.2 413.2,162.2 413.4,162.1 413.5,151.8 413.6,168.6 413.8,153.9 413.9,172.8 414.0,173.8 414.1,158.6 414.2,149.0 414.4,160.8 414.5,169.4 414.6,159.0 414.8,165.5 414.9,152.3 415.0,158.5 415.1,155.8 415.2,146.9 415.4,146.8 415.5,169.6 415.6,156.2 415.8,161.7 415.9,164.3 416.0,142.3 416.1,136.5 416.2,150.2 416.4,141.3 416.5,149.5 416.6,157.1 416.8,150.1 416.9,143.6 417.0,159.1 417.1,148.4 417.2,164.2 417.4,143.4 417.5,146.0 417.6,144.8 417.8,144.4 417.9,146.3 418.0,168.9 418.1,142.5 418.2,165.9 418.4,150.8 418.5,144.4 418.6,147.1 418.8,153.3 418.9,156.9 419.0,165.9 419.1,151.2 419.2,160.2 419.4,159.3 419.5,137.4 419.6,152.8 419.8,164.3 419.9,142.6 420.0,141.6 420.1,156.9 420.2,155.6 420.4,141.6 420.5,147.4 420.6,138.2 420.8,144.1 420.9,151.5 421.0,136.9 421.1,146.3 421.2,163.0 421.4,157.8 421.5,140.2 421.6,147.0 421.8,141.9 421.9,145.2 422.0,140.0 422.1,147.9 422.2,143.0 422.4,154.0 422.5,147.5 422.6,142.8 422.8,138.8 422.9,138.6 423.0,153.5 423.1,140.2 423.2,137.9 423.4,148.3 423.5,149.9 423.6,162.1 423.8,140.9 423.9,162.7 424.0,146.6 424.1,134.1 424.2,153.6 424.4,137.5 424.5,130.5 424.6,138.7 424.8,161.2 424.9,137.2 425.0,135.8 425.1,144.2 425.2,160.0 425.4,160.6 425.5,157.1 425.6,141.2 425.8,152.0 425.9,157.0 426.0,150.5 426.1,157.0 426.2,143.3 426.4,133.6 426.5,148.4 426.6,156.9 426.8,134.1 426.9,138.3 427.0,140.9 427.1,136.9 427.2,130.7 427.4,152.0 427.5,150.6 427.6,157.4 427.8,129.9 427.9,132.6 428.0,143.9 428.1,151.2 428.2,137.4 428.4,131.9 428.5,133.9 428.6,138.4 428.8,136.8 428.9,156.8 429.0,143.7 429.1,141.4 429.2,158.5 429.4,143.9 429.5,132.9 429.6,131.6 429.8,141.3 429.9,136.1 430.0,150.0 430.1,146.2 430.2,132.9 430.4,131.8 430.5,132.7 430.6,145.9 430.8,145.6 430.9,130.6 431.0,134.1 431.1,145.9 431.2,157.8 431.4,154.9 431.5,152.6 431.6,133.3 431.8,146.2 431.9,136.7 432.0,155.1 432.1,141.0 432.2,141.1 432.4,148.3 432.5,127.8 432.6,137.2 432.8,131.6 432.9,147.9 433.0,137.0 433.1,143.9 433.2,154.7 433.4,146.5 433.5,149.5 433.6,152.0 433.8,135.0 433.9,149.4 434.0,159.4 434.1,151.6 434.2,150.2 434.4,133.9 434.5,140.8 434.6,127.0 434.8,148.8 434.9,131.6 435.0,154.4 435.1,143.4 435.2,139.9 435.4,150.5 435.5,143.9 435.6,137.9 435.8,148.1 435.9,146.8 436.0,144.4 436.1,151.1 436.2,150.4 436.4,142.4 436.5,164.5 436.6,148.4 436.8,150.7 436.9,141.5 437.0,143.8 437.1,140.3 437.2,133.8 437.4,150.4 437.5,131.2 437.6,157.9 437.8,151.3 437.9,131.9 438.0,132.0 438.1,138.6 438.2,138.2 438.4,163.7 438.5,151.4 438.6,145.6 438.8,160.2 438.9,151.7 439.0,154.3 439.1,133.5 439.2,146.2 439.4,136.9 439.5,133.6 439.6,147.2 439.8,131.0 439.9,143.4 440.0,133.5 440.1,133.5 440.2,130.3 440.4,138.0 440.5,141.4 440.6,139.4 440.8,146.2 440.9,155.2 441.0,148.7 441.1,144.4 441.2,150.9 441.4,127.6 441.5,158.5 441.6,130.9 441.8,139.0 441.9,151.4 442.0,155.1 442.1,128.7 442.2,154.9 442.4,122.1 442.5,151.0 442.6,137.3 442.8,133.1 442.9,142.7 443.0,149.4 443.1,140.8 443.2,136.0 443.4,130.8 443.5,149.6 443.6,148.6 443.8,143.9 443.9,136.0 444.0,141.1 444.1,127.6 444.2,134.6 444.4,144.3 444.5,134.9 444.6,133.7 444.8,128.9 444.9,135.2 445.0,136.4 445.1,129.1 445.2,129.9 445.4,144.9 445.5,142.6 445.6,125.3 445.8,128.5 445.9,129.3 446.0,138.7 446.1,139.5 446.2,144.0 446.4,147.8 446.5,138.8 446.6,145.1 446.8,137.6 446.9,149.9 447.0,139.5 447.1,140.3 447.2,137.4 447.4,153.1 447.5,150.7 447.6,135.6 447.8,143.8 447.9,134.5 448.0,131.5 448.1,133.4 448.2,137.2 448.4,150.3 448.5,133.6 448.6,136.3 448.8,154.6 448.9,135.1 449.0,146.1 449.1,145.8 449.2,130.7 449.4,130.9 449.5,124.7 449.6,150.8 449.8,150.3 449.9,134.5 450.0,141.7 450.1,134.2 450.2,143.4 450.4,134.2 450.5,144.3 450.6,153.2 450.8,141.2 450.9,151.1 451.0,131.3 451.1,138.4 451.2,152.5 451.4,131.9 451.5,127.0 451.6,134.4 451.8,139.3 451.9,149.5 452.0,127.7 452.1,139.7 452.2,146.4 452.4,139.4 452.5,153.8 452.6,131.2 452.8,132.9 452.9,137.1 453.0,151.8 453.1,143.6 453.2,155.4 453.4,133.5 453.5,148.8 453.6,126.9 453.8,143.3 453.9,153.5 454.0,134.9 454.1,135.3 454.2,139.8 454.4,155.5 454.5,153.2 454.6,153.4 454.8,157.8 454.9,136.9 455.0,150.2 455.1,146.6 455.2,135.5 455.4,136.8 455.5,148.9 455.6,142.8 455.8,146.0 455.9,140.3 456.0,140.4 456.1,157.7 456.2,147.6 456.4,138.2 456.5,144.4 456.6,141.7 456.8,145.8 456.9,153.1 457.0,157.2 457.1,148.0 457.2,139.3 457.4,147.8 457.5,134.2 457.6,152.2 457.8,143.2 457.9,143.8 458.0,133.1 458.1,138.6 458.2,134.0 458.4,155.5 458.5,140.4 458.6,155.6 458.8,153.0 458.9,155.6 459.0,155.0 459.1,162.1 459.2,153.5 459.4,144.1 459.5,145.6 459.6,150.4 459.8,145.4 459.9,144.1 460.0,144.8 460.1,155.0 460.2,136.8 460.4,135.2 460.5,158.0 460.6,151.5 460.8,148.8 460.9,146.0 461.0,144.0 461.1,140.3 461.2,134.9 461.4,145.5 461.5,140.0 461.6,158.3 461.8,160.5 461.9,150.0 462.0,142.0 462.1,150.6 462.2,137.6 462.4,154.1 462.5,150.7 462.6,157.2 462.8,133.1 462.9,148.5 463.0,163.0 463.1,151.4 463.2,152.8 463.4,142.5 463.5,156.0 463.6,154.8 463.8,145.3 463.9,140.3 464.0,147.5 464.1,141.2 464.2,135.2 464.4,138.4 464.5,158.7 464.6,148.0 464.8,140.9 464.9,157.8 465.0,154.0 465.1,146.4 465.2,132.3 465.4,152.4 465.5,153.7 465.6,141.1 465.8,132.8 465.9,154.2 466.0,140.2 466.1,142.9 466.2,130.0 466.4,153.0 466.5,133.9 466.6,142.3 466.8,134.1 466.9,156.5 467.0,148.1 467.1,139.8 467.2,133.2 467.4,152.0 467.5,151.1 467.6,130.4 467.8,126.1 467.9,145.2 468.0,149.8 468.1,155.6 468.2,135.6 468.4,135.0 468.5,144.0 468.6,150.7 468.8,142.5 468.9,132.5 469.0,131.1 469.1,135.4 469.2,143.3 469.4,143.8 469.5,145.1 469.6,139.4 469.8,128.1 469.9,153.6 470.0,128.7 470.1,135.0 470.2,145.2 470.4,127.2 470.5,136.8 470.6,136.5 470.8,154.7 470.9,123.9 471.0,136.2 471.1,150.7 471.2,134.9 471.4,138.6 471.5,148.0 471.6,144.4 471.8,128.4 471.9,129.1 472.0,136.0 472.1,121.3 472.2,144.1 472.4,133.4 472.5,144.1 472.6,122.9 472.8,142.0 472.9,134.8 473.0,124.6 473.1,137.1 473.2,137.2 473.4,138.9 473.5,128.9 473.6,131.0 473.8,143.7 473.9,136.3 474.0,128.7 474.1,136.5 474.2,136.8 474.4,122.6 474.5,134.2 474.6,117.3 474.8,145.2 474.9,138.9 475.0,138.4 475.1,147.9 475.2,122.5 475.4,142.1 475.5,127.6 475.6,135.2 475.8,146.0 475.9,122.0 476.0,122.5 476.1,131.3 476.2,139.8 476.4,133.7 476.5,137.8 476.6,129.5 476.8,141.9 476.9,126.6 477.0,129.2 477.1,122.9 477.2,133.5 477.4,138.6 477.5,125.7 477.6,126.1 477.8,123.8 477.9,138.8 478.0,138.3 478.1,127.5 478.2,123.6 478.4,146.9 478.5,134.3 478.6,145.1 478.8,139.2 478.9,141.9 479.0,127.8 479.1,143.1 479.2,141.3 479.4,134.5 479.5,140.9 479.6,137.4 479.8,132.6 479.9,138.0 480.0,126.3 480.1,139.1 480.2,132.8 480.4,134.3 480.5,132.1 480.6,129.0 480.8,123.0 480.9,135.2 481.0,136.2 481.1,138.9 481.2,141.5 481.4,122.2 481.5,130.2 481.6,127.0 481.8,147.0 481.9,129.6 482.0,134.5 482.1,134.9 482.2,132.5 482.4,138.8 482.5,143.7 482.6,129.1 482.8,132.6 482.9,146.4 483.0,131.1 483.1,132.9 483.2,132.2 483.4,132.4 483.5,148.0 483.6,141.9 483.8,131.0 483.9,126.7 484.0,145.5 484.1,126.7 484.2,137.6 484.4,144.9 484.5,133.8 484.6,139.6 484.8,145.7 484.9,144.0 485.0,131.2 485.1,145.0 485.2,131.5 485.4,127.0 485.5,137.2 485.6,141.5 485.8,126.9 485.9,123.4 486.0,147.3 486.1,144.2 486.2,144.9 486.4,145.4 486.5,132.2 486.6,142.1 486.8,129.5 486.9,126.0 487.0,128.0 487.1,140.7 487.2,151.6 487.4,143.9 487.5,135.1 487.6,125.2 487.8,135.6 487.9,131.6 488.0,131.1 488.1,145.6 488.2,123.6 488.4,131.1 488.5,126.5 488.6,119.8 488.8,128.3 488.9,145.5 489.0,138.4 489.1,133.2 489.2,147.5 489.4,145.8 489.5,123.6 489.6,125.1 489.8,146.0 489.9,140.5 490.0,146.9 490.1,142.3 490.2,139.1 490.4,129.8 490.5,123.7 490.6,128.9 490.8,122.9 490.9,129.9 491.0,126.7 491.1,143.1 491.2,125.1 491.4,142.7 491.5,147.5 491.6,142.6 491.8,140.9 491.9,134.6 492.0,138.4 492.1,127.8 492.2,121.4 492.4,128.7 492.5,149.2 492.6,130.6 492.8,129.1 492.9,134.4 493.0,139.7 493.1,125.4 493.2,126.4 493.4,127.9 493.5,143.4 493.6,131.4 493.8,116.5 493.9,136.6 494.0,126.4 494.1,124.1 494.2,140.8 494.4,121.3 494.5,144.2 494.6,134.2 494.8,139.3 494.9,134.5 495.0,119.5 495.1,139.9 495.2,128.7 495.4,116.4 495.5,119.4 495.6,119.4 495.8,121.8 495.9,134.4 496.0,141.6 496.1,127.8 496.2,121.7 496.4,119.3 496.5,136.6 496.6,123.4 496.8,133.2 496.9,131.0 497.0,127.7 497.1,118.8 497.2,119.5 497.4,130.4 497.5,127.4 497.6,126.6 497.8,137.7 497.9,127.4 498.0,113.1 498.1,122.0 498.2,125.2 498.4,137.0 498.5,132.4 498.6,126.1 498.8,125.2 498.9,114.3 499.0,117.3 499.1,138.1 499.2,123.9 499.4,117.8 499.5,131.8 499.6,123.3 499.8,120.7 499.9,131.1 500.0,114.9 500.1,129.0 500.2,115.2 500.4,127.8 500.5,127.0 500.6,117.6 500.8,124.1 500.9,134.4 501.0,120.0 501.1,124.7 501.2,132.7 501.4,111.7 501.5,115.2 501.6,110.4 501.8,128.5 501.9,113.5 502.0,126.3 502.1,128.6 502.2,129.8 502.4,122.3 502.5,121.9 502.6,115.0 502.8,118.7 502.9,113.9 503.0,119.4 503.1,119.1 503.2,118.2 503.4,120.7 503.5,109.5 503.6,107.3 503.8,122.0 503.9,115.4 504.0,123.5 504.1,123.7 504.2,125.6 504.4,119.1 504.5,104.7 504.6,131.5 504.8,125.0 504.9,109.4 505.0,111.1 505.1,131.9 505.2,122.9 505.4,124.3 505.5,113.8 505.6,113.0 505.8,119.4 505.9,109.1 506.0,131.2 506.1,129.1 506.2,117.6 506.4,120.6 506.5,116.5 506.6,131.1 506.8,112.0 506.9,118.3 507.0,117.7 507.1,115.4 507.2,123.5 507.4,104.8 507.5,128.3 507.6,108.4 507.8,118.2 507.9,129.1 508.0,120.1 508.1,123.9 508.2,109.4 508.4,105.3 508.5,128.4 508.6,132.8 508.8,120.3 508.9,126.3 509.0,126.6 509.1,123.3 509.2,122.7 509.4,112.3 509.5,112.8 509.6,125.8 509.8,127.5 509.9,105.9 510.0,110.5 510.1,114.0 510.2,116.6 510.4,106.7 510.5,111.4 510.6,117.6 510.8,114.4 510.9,112.0 511.0,104.9 511.1,123.0 511.2,121.3 511.4,116.4 511.5,114.5 511.6,123.0 511.8,109.1 511.9,118.1 512.0,117.8 512.1,114.0 512.2,112.2 512.4,121.8 512.5,123.9 512.6,124.6 512.8,108.2 512.9,114.0 513.0,104.4 513.1,106.2 513.2,109.0 513.4,118.9 513.5,108.1 513.6,130.2 513.8,105.4 513.9,128.0 514.0,119.1 514.1,104.5 514.2,124.2 514.4,109.5 514.5,124.5 514.6,119.5 514.8,115.2 514.9,119.4 515.0,129.4 515.1,120.6 515.2,118.4 515.4,126.7 515.5,129.7 515.6,111.9 515.8,116.0 515.9,133.1 516.0,118.8 516.1,109.4 516.2,117.7 516.4,123.3 516.5,124.2 516.6,104.7 516.8,106.5 516.9,108.9 517.0,113.6 517.1,115.0 517.2,122.4 517.4,109.4 517.5,117.0 517.6,122.2 517.8,117.8 517.9,127.1 518.0,116.5 518.1,115.2 518.2,125.8 518.4,106.6 518.5,108.8 518.6,113.7 518.8,109.0 518.9,116.0 519.0,128.4 519.1,103.7 519.2,111.9 519.4,108.0 519.5,121.9 519.6,118.7 519.8,103.0 519.9,128.1 520.0,112.1 520.1,112.3 520.2,118.3 520.4,115.4 520.5,111.3 520.6,128.9 520.8,122.9 520.9,123.8 521.0,111.0 521.1,124.5 521.2,113.9 521.4,124.2 521.5,123.9 521.6,123.4 521.8,111.4 521.9,120.5 522.0,113.4 522.1,127.2 522.2,129.9 522.4,111.6 522.5,107.8 522.6,108.0 522.8,113.5 522.9,113.2 523.0,107.2 523.1,118.5 523.2,106.4 523.4,112.8 523.5,122.9 523.6,125.9 523.8,121.1 523.9,127.2 524.0,106.5 524.1,102.6 524.2,112.2 524.4,124.5 524.5,110.6 524.6,128.9 524.8,113.0 524.9,119.9 525.0,123.8 525.1,107.6 525.2,116.7 525.4,122.4 525.5,128.3 525.6,123.0 525.8,125.7 525.9,117.4 526.0,127.4 526.1,124.3 526.2,105.2 526.4,115.4 526.5,113.8 526.6,113.4 526.8,113.1 526.9,122.5 527.0,119.6 527.1,104.6 527.2,105.7 527.4,110.7 527.5,110.0 527.6,122.9 527.8,104.4 527.9,105.4 528.0,118.1 528.1,107.5 528.2,130.2 528.4,111.5 528.5,124.9 528.6,106.3 528.8,108.2 528.9,112.4 529.0,107.5 529.1,126.6 529.2,119.6 529.4,110.4 529.5,115.5 529.6,122.1 529.8,122.9 529.9,107.4 530.0,117.1 530.1,101.4 530.2,123.1 530.4,115.6 530.5,105.2 530.6,107.7 530.8,116.7 530.9,129.2 531.0,106.2 531.1,120.2 531.2,124.5 531.4,123.1 531.5,105.7 531.6,125.4 531.8,120.6 531.9,112.3 532.0,120.8 532.1,110.4 532.2,128.5 532.4,116.7 532.5,126.9 532.6,115.9 532.8,121.6 532.9,106.4 533.0,116.1 533.1,117.6 533.2,119.0 533.4,108.8 533.5,127.0 533.6,119.5 533.8,115.9 533.9,112.6 534.0,111.8 534.1,132.7 534.2,127.8 534.4,128.3 534.5,114.4 534.6,127.5 534.8,117.2 534.9,126.0 535.0,126.6 535.1,129.7 535.2,106.3 535.4,106.0 535.5,124.6 535.6,103.3 535.8,130.2 535.9,121.2 536.0,106.4 536.1,126.2 536.2,113.9 536.4,118.4 536.5,117.3 536.6,127.0 536.8,123.2 536.9,122.2 537.0,113.3 537.1,114.7 537.2,110.3 537.4,117.5 537.5,120.2 537.6,124.2 537.8,122.1 537.9,117.4 538.0,131.1 538.1,120.3 538.2,131.5 538.4,117.5 538.5,102.6 538.6,108.9 538.8,120.9 538.9,127.8 539.0,121.9 539.1,115.6 539.2,120.5 539.4,109.9 539.5,100.8 539.6,100.1 539.8,118.1 539.9,113.4 540.0,119.6 540.1,122.2 540.2,101.9 540.4,109.1 540.5,105.1 540.6,125.2 540.8,107.3 540.9,103.9 541.0,109.4 541.1,116.6 541.2,97.8 541.4,109.9 541.5,121.9 541.6,125.2 541.8,111.7 541.9,113.8 542.0,99.0 542.1,99.4 542.2,109.3 542.4,102.4 542.5,119.0 542.6,96.1 542.8,118.9 542.9,110.2 543.0,110.2 543.1,102.5 543.2,114.1 543.4,98.0 543.5,103.3 543.6,114.9 543.8,96.6 543.9,110.5 544.0,96.7 544.1,109.7 544.2,107.2 544.4,97.2 544.5,120.5 544.6,112.5 544.8,122.5 544.9,118.5 545.0,105.1 545.1,123.3 545.2,98.8 545.4,102.5 545.5,102.0 545.6,104.7 545.8,119.9 545.9,116.0 546.0,104.4 546.1,109.3 546.2,104.6 546.4,112.0 546.5,107.8 546.6,110.6 546.8,109.5 546.9,101.9 547.0,101.4 547.1,100.6 547.2,102.0 547.4,112.8 547.5,114.2 547.6,110.9 547.8,102.5 547.9,97.9 548.0,115.4 548.1,108.6 548.2,112.4 548.4,111.9 548.5,103.9 548.6,108.6 548.8,95.7 548.9,104.0 549.0,98.0 549.1,107.1 549.2,103.4 549.4,119.9 549.5,100.6 549.6,102.4 549.8,104.4 549.9,114.8 550.0,115.8 550.1,115.0 550.2,112.5 550.4,119.3 550.5,103.5 550.6,121.2 550.8,120.8 550.9,109.1 551.0,103.9 551.1,102.3 551.2,105.5 551.4,128.9 551.5,117.1 551.6,108.6 551.8,101.5 551.9,109.8 552.0,105.5 552.1,114.7 552.2,111.8 552.4,111.7 552.5,104.3 552.6,114.2 552.8,117.9 552.9,118.5 553.0,128.9 553.1,125.4 553.2,113.2 553.4,105.8 553.5,116.2 553.6,115.3 553.8,136.7 553.9,117.3 554.0,128.2 554.1,132.4 554.2,132.8 554.4,120.4 554.5,123.2 554.6,128.4 554.8,139.9 554.9,116.5 555.0,123.5 555.1,125.9 555.2,121.6 555.4,117.5 555.5,114.3 555.6,123.7 555.8,129.5 555.9,142.9 556.0,121.5 556.1,130.7 556.2,119.1 556.4,129.6 556.5,135.0 556.6,132.9 556.8,130.7 556.9,137.3 557.0,136.6 557.1,136.7 557.2,136.3 557.4,130.3 557.5,141.6 557.6,134.6 557.8,134.7 557.9,133.3 558.0,127.4 558.1,137.6 558.2,131.3 558.4,141.7 558.5,126.6 558.6,133.6 558.8,134.6 558.9,135.7 559.0,129.0 559.1,121.7 559.2,145.6 559.4,124.4 559.5,127.3 559.6,139.3 559.8,127.0 559.9,129.3 560.0,134.9 560.1,138.9 560.2,125.5 560.4,128.2 560.5,130.7 560.6,130.0 560.8,137.1 560.9,145.6 561.0,150.9 561.1,135.3 561.2,143.9 561.4,130.0 561.5,147.5 561.6,130.5 561.8,146.1 561.9,143.9 562.0,136.5 562.1,135.9 562.2,152.3 562.4,143.7 562.5,147.3 562.6,135.2 562.8,146.9 562.9,144.0 563.0,133.3 563.1,144.4 563.2,148.3 563.4,144.2 563.5,155.3 563.6,151.5 563.8,151.0 563.9,133.8 564.0,147.5 564.1,148.8 564.2,149.6 564.4,160.4 564.5,147.2 564.6,144.5 564.8,142.5 564.9,135.7 565.0,152.5 565.1,136.7 565.2,150.1 565.4,142.5 565.5,163.9 565.6,155.5 565.8,162.4 565.9,142.1 566.0,157.2 566.1,154.0 566.2,156.4 566.4,159.7 566.5,148.5 566.6,159.5 566.8,149.8 566.9,147.9 567.0,144.4 567.1,155.9 567.2,147.0 567.4,159.1 567.5,155.1 567.6,154.9 567.8,161.8 567.9,155.2 568.0,145.2 568.1,155.6 568.2,163.1 568.4,142.6 568.5,161.2 568.6,145.8 568.8,164.6 568.9,144.4 569.0,141.4 569.1,149.0 569.2,158.4 569.4,145.3 569.5,149.6 569.6,152.3 569.8,163.2 569.9,164.0 570.0,166.9 570.1,163.1 570.2,157.8 570.4,151.4 570.5,151.8 570.6,145.3 570.8,166.4 570.9,152.2 571.0,159.3 571.1,151.3 571.2,165.0 571.4,158.3 571.5,170.4 571.6,163.0 571.8,158.9 571.9,165.5 572.0,154.2 572.1,148.9 572.2,150.8 572.4,156.3 572.5,172.7 572.6,156.4 572.8,142.9 572.9,151.5 573.0,173.0 573.1,156.0 573.2,160.0 573.4,146.7 573.5,152.0 573.6,170.1 573.8,144.8 573.9,165.2 574.0,174.2 574.1,165.1 574.2,152.2 574.4,165.0 574.5,143.7 574.6,146.8 574.8,159.9 574.9,150.8 575.0,167.5 575.1,147.7 575.2,153.4 575.4,148.0 575.5,166.1 575.6,170.1 575.8,169.5 575.9,166.7 576.0,171.6 576.1,148.0 576.2,177.4 576.4,147.9 576.5,165.1 576.6,169.8 576.8,162.6 576.9,161.9 577.0,144.8 577.1,148.3 577.2,164.9 577.4,171.2 577.5,174.5 577.6,172.1 577.8,174.8 577.9,156.2 578.0,149.5 578.1,153.9 578.2,169.3 578.4,159.2 578.5,152.3 578.6,162.0 578.8,174.0 578.9,167.7 579.0,152.3 579.1,174.2 579.2,156.5 579.4,162.1 579.5,172.1 579.6,173.9 579.8,147.9 579.9,151.7 580.0,167.2 580.1,154.3 580.2,159.6 580.4,155.9 580.5,162.1 580.6,169.6 580.8,168.8 580.9,149.9 581.0,176.1 581.1,164.5 581.2,169.6 581.4,176.3 581.5,162.8 581.6,155.0 581.8,173.7 581.9,156.6 582.0,162.9 582.1,176.7 582.2,155.7 582.4,173.0 582.5,152.1 582.6,164.2 582.8,149.4 582.9,166.4 583.0,162.5 583.1,164.2 583.2,152.8 583.4,154.1 583.5,159.8 583.6,169.3 583.8,171.6 583.9,172.6 584.0,173.3 584.1,150.4 584.2,161.9 584.4,154.6 584.5,172.6 584.6,155.9 584.8,171.8 584.9,168.2 585.0,153.5 585.1,164.0 585.2,158.6 585.4,176.2 585.5,170.4 585.6,165.4 585.8,160.9 585.9,161.7 586.0,163.1 586.1,163.7 586.2,168.5 586.4,167.5 586.5,170.4 586.6,163.5 586.8,148.8 586.9,169.7 587.0,159.1 587.1,177.9 587.2,160.7 587.4,156.7 587.5,171.1 587.6,157.2 587.8,152.9 587.9,170.8 588.0,157.0 588.1,172.8 588.2,149.4 588.4,149.1 588.5,170.1 588.6,172.2 588.8,155.6 588.9,170.4 589.0,145.8 589.1,160.3 589.2,169.0 589.4,151.1 589.5,146.8 589.6,171.5 589.8,171.5 589.9,156.1 590.0,150.0 590.1,154.4 590.2,162.3 590.4,155.9 590.5,162.8 590.6,170.7 590.8,158.0 590.9,173.2 591.0,170.9 591.1,164.3 591.2,152.9 591.4,163.3 591.5,169.4 591.6,146.4 591.8,161.1 591.9,152.3 592.0,169.1 592.1,148.6 592.2,162.2 592.4,167.6 592.5,152.2 592.6,149.8 592.8,157.1 592.9,167.1 593.0,164.9 593.1,166.2 593.2,147.1 593.4,154.2 593.5,170.5 593.6,142.0 593.8,150.6 593.9,169.9 594.0,148.2 594.1,167.9 594.2,173.4 594.4,144.5 594.5,145.9 594.6,161.3 594.8,168.1 594.9,150.3 595.0,150.9 595.1,144.7 595.2,169.4 595.4,170.4 595.5,146.5 595.6,149.1 595.8,147.4 595.9,147.5 596.0,154.7 596.1,163.2 596.2,139.8 596.4,170.2 596.5,163.3 596.6,134.6 596.8,135.9 596.9,163.0 597.0,156.5 597.1,149.5 597.2,159.5 597.4,159.6 597.5,162.3 597.6,172.5 597.8,152.9 597.9,153.5 598.0,139.2 598.1,127.4 598.2,168.1 598.4,144.5 598.5,151.4 598.6,163.4 598.8,143.2 598.9,145.6 599.0,159.0 599.1,158.7 599.2,154.3 599.4,150.9 599.5,156.5 599.6,133.9 599.8,169.4 599.9,145.2 600.0,134.0 600.1,148.0 600.2,146.1 600.4,139.9 600.5,171.9 600.6,157.3 600.8,153.5 600.9,157.4 601.0,155.8 601.1,147.9 601.2,161.9 601.4,141.6 601.5,136.8 601.6,167.9 601.8,158.7 601.9,144.3 602.0,153.3 602.1,162.6 602.2,147.7 602.4,151.9 602.5,142.7 602.6,148.3 602.8,156.5 602.9,165.5 603.0,172.9 603.1,151.9 603.2,146.3 603.4,149.3 603.5,143.2 603.6,159.3 603.8,166.1 603.9,154.6 604.0,159.7 604.1,155.0 604.2,141.7 604.4,168.0 604.5,173.8 604.6,148.4 604.8,153.7 604.9,160.2 605.0,146.3 605.1,163.5 605.2,153.1 605.4,149.4 605.5,145.6 605.6,148.1 605.8,157.9 605.9,165.4 606.0,148.1 606.1,138.3 606.2,143.3 606.4,158.1 606.5,150.9 606.6,148.2 606.8,146.2 606.9,142.8 607.0,141.2 607.1,169.6 607.2,140.1 607.4,166.4 607.5,160.1 607.6,144.1 607.8,159.0 607.9,149.6 608.0,146.1 608.1,147.5 608.2,157.5 608.4,138.2 608.5,161.9 608.6,143.0 608.8,158.4 608.9,168.0 609.0,153.2 609.1,136.4 609.2,143.7 609.4,155.2 609.5,139.2 609.6,160.3 609.8,160.6 609.9,162.5 610.0,158.1 610.1,133.9 610.2,149.3 610.4,152.5 610.5,159.5 610.6,142.9 610.8,163.7 610.9,152.9 611.0,160.5 611.1,151.7 611.2,165.2 611.4,151.3 611.5,151.5 611.6,158.4 611.8,145.2 611.9,149.1 612.0,158.1 612.1,133.6 612.2,147.2 612.4,136.0 612.5,146.6 612.6,163.9 612.8,161.2 612.9,152.5 613.0,134.5 613.1,141.4 613.2,129.1 613.4,160.7 613.5,150.7 613.6,156.3 613.8,139.9 613.9,160.9 614.0,131.6 614.1,128.8 614.2,146.0 614.4,146.2 614.5,157.1 614.6,147.8 614.8,137.2 614.9,156.2 615.0,161.8 615.1,139.6 615.2,159.0 615.4,152.2 615.5,130.6 615.6,136.6 615.8,148.5 615.9,134.2 616.0,148.7 616.1,141.5 616.2,149.2 616.4,152.9 616.5,150.3 616.6,138.5 616.8,159.5 616.9,128.7 617.0,133.0 617.1,132.6 617.2,152.4 617.4,132.7 617.5,153.2 617.6,153.6 617.8,152.2 617.9,140.1 618.0,138.7 618.1,150.1 618.2,134.1 618.4,139.7 618.5,135.4 618.6,140.3 618.8,152.8 618.9,139.8 619.0,141.0 619.1,149.3 619.2,130.8 619.4,134.5 619.5,150.0 619.6,141.1 619.8,136.2 619.9,127.4 620.0,140.5 620.1,126.6 620.2,153.8 620.4,138.6 620.5,141.9 620.6,153.7 620.8,131.1 620.9,150.8 621.0,139.4 621.1,130.4 621.2,149.0 621.4,139.0 621.5,154.2 621.6,154.5 621.8,127.2 621.9,130.5 622.0,142.7 622.1,147.3 622.2,142.2 622.4,151.3 622.5,143.7 622.6,142.5 622.8,138.5 622.9,148.8 623.0,143.1 623.1,131.4 623.2,134.4 623.4,144.0 623.5,150.9 623.6,152.4 623.8,138.8 623.9,145.6 624.0,140.9 624.1,131.2 624.2,136.4 624.4,151.7 624.5,139.9 624.6,147.4 624.8,126.8 624.9,149.9 625.0,155.4 625.1,154.9 625.2,149.0 625.4,153.7 625.5,140.8 625.6,146.2 625.8,151.7 625.9,147.3 626.0,156.4 626.1,145.1 626.2,152.7 626.4,131.6 626.5,143.9 626.6,139.4 626.8,130.6 626.9,135.7 627.0,146.1 627.1,128.4 627.2,146.9 627.4,138.2 627.5,140.2 627.6,138.3 627.8,131.5 627.9,136.9 628.0,156.6 628.1,133.7 628.2,141.7 628.4,136.4 628.5,149.0 628.6,155.2 628.8,133.8 628.9,138.6 629.0,132.2 629.1,143.0 629.2,131.4 629.4,151.9 629.5,152.0 629.6,143.7 629.8,142.3 629.9,130.0 630.0,139.4 630.1,148.8 630.2,146.0 630.4,136.1 630.5,144.5 630.6,142.4 630.8,153.3 630.9,147.3 631.0,137.6 631.1,136.4 631.2,134.8 631.4,150.1 631.5,151.4 631.6,135.6 631.8,140.4 631.9,137.7 632.0,146.8 632.1,129.2 632.2,144.3 632.4,139.9 632.5,149.9 632.6,134.2 632.8,142.2 632.9,146.0 633.0,138.5 633.1,138.5 633.2,131.3 633.4,136.9 633.5,135.0 633.6,135.7 633.8,146.9 633.9,143.5 634.0,138.9 634.1,138.0 634.2,157.8 634.4,144.6 634.5,153.4 634.6,141.9 634.8,145.5 634.9,146.9 635.0,142.1 635.1,128.5 635.2,151.7 635.4,142.2 635.5,146.5 635.6,142.9 635.8,147.0 635.9,136.2 636.0,137.8 636.1,148.5 636.2,145.6 636.4,149.2 636.5,140.1 636.6,145.3 636.8,152.5 636.9,154.4 637.0,147.0 637.1,136.0 637.2,142.9 637.4,136.5 637.5,128.0 637.6,130.7 637.8,143.5 637.9,140.4 638.0,136.4 638.1,139.0 638.2,139.8 638.4,139.1 638.5,141.6 638.6,130.4 638.8,139.2 638.9,141.3 639.0,132.8 639.1,136.0 639.2,151.7 639.4,141.6 639.5,136.9 639.6,126.8 639.8,132.8 639.9,125.7 640.0,151.4 640.1,138.9 640.2,123.9 640.4,143.7 640.5,139.7 640.6,137.1 640.8,142.1 640.9,147.6 641.0,130.6 641.1,130.8 641.2,140.1 641.4,136.8 641.5,147.9 641.6,145.2 641.8,146.1 641.9,150.8 642.0,140.5 642.1,134.7 642.2,133.4 642.4,127.5 642.5,129.1 642.6,146.6 642.8,120.8 642.9,142.8 643.0,140.5 643.1,130.5 643.2,125.2 643.4,135.1 643.5,146.4 643.6,130.0 643.8,124.8 643.9,134.6 644.0,141.7 644.1,139.1 644.2,148.0 644.4,135.0 644.5,131.9 644.6,151.7 644.8,140.3 644.9,129.3 645.0,148.5 645.1,130.8 645.2,120.7 645.4,137.5 645.5,129.4 645.6,134.2 645.8,128.1 645.9,136.6 646.0,134.4 646.1,132.9 646.2,134.1 646.4,134.3 646.5,146.3 646.6,132.5 646.8,121.3 646.9,134.5 647.0,121.8 647.1,131.5 647.2,141.2 647.4,123.8 647.5,126.1 647.6,148.7 647.8,125.7 647.9,124.2 648.0,135.6 648.1,131.6 648.2,127.7 648.4,134.2 648.5,126.8 648.6,125.9 648.8,133.1 648.9,116.9 649.0,135.2 649.1,125.7 649.2,119.6 649.4,136.8 649.5,125.0 649.6,125.7 649.8,139.5 649.9,133.7 650.0,121.2 650.1,126.0 650.2,126.2 650.4,128.8 650.5,138.4 650.6,132.9 650.8,122.0 650.9,123.4 651.0,146.0 651.1,130.4 651.2,122.0 651.4,130.3 651.5,121.2 651.6,112.8 651.8,115.4 651.9,113.8 652.0,130.9 652.1,141.3 652.2,125.7 652.4,139.6 652.5,129.3 652.6,129.0 652.8,139.5 652.9,117.7 653.0,121.4 653.1,114.8 653.2,115.5 653.4,124.5 653.5,131.5 653.6,144.0 653.8,122.0 653.9,124.6 654.0,132.2 654.1,137.5 654.2,140.6 654.4,136.8 654.5,129.5 654.6,133.1 654.8,139.3 654.9,116.1 655.0,137.2 655.1,119.6 655.2,133.2 655.4,131.4 655.5,135.7 655.6,127.0 655.8,122.6 655.9,118.4 656.0,125.5 656.1,149.6 656.2,143.8 656.4,148.1 656.5,137.3 656.6,128.7 656.8,138.4 656.9,131.5 657.0,122.4 657.1,120.0 657.2,123.2 657.4,120.3 657.5,132.6 657.6,132.2 657.8,143.2 657.9,129.1 658.0,127.1 658.1,142.6 658.2,123.0 658.4,131.2 658.5,136.9 658.6,141.3 658.8,120.0 658.9,116.3 659.0,120.6 659.1,123.0 659.2,149.3 659.4,132.9 659.5,145.0 659.6,131.9 659.8,137.0 659.9,130.0 660.0,135.7 660.1,134.1 660.2,148.8 660.4,145.3 660.5,132.8 660.6,143.7 660.8,126.4 660.9,139.9 661.0,144.9 661.1,144.1 661.2,128.0 661.4,142.3 661.5,126.6 661.6,145.3 661.8,137.4 661.9,147.1 662.0,147.3 662.1,135.9 662.2,125.7 662.4,143.5 662.5,151.8 662.6,148.1 662.8,128.5 662.9,132.7 663.0,144.7 663.1,135.8 663.2,135.7 663.4,139.3 663.5,132.8 663.6,131.5 663.8,143.2 663.9,142.9 664.0,128.0 664.1,133.9 664.2,141.1 664.4,147.4 664.5,137.4 664.6,123.4 664.8,141.9 664.9,119.7 665.0,135.5 665.1,127.7 665.2,126.8 665.4,131.0 665.5,150.4 665.6,120.8 665.8,142.9 665.9,148.6 666.0,148.2 666.1,147.9 666.2,121.5 666.4,149.3 666.5,144.7 666.6,124.6 666.8,138.8 666.9,134.9 667.0,129.4 667.1,146.7 667.2,139.8 667.4,136.0 667.5,141.3 667.6,149.3 667.8,142.3 667.9,125.2 668.0,134.6 668.1,146.2 668.2,124.4 668.4,130.1 668.5,115.5 668.6,123.0 668.8,119.7 668.9,152.2 669.0,130.4 669.1,123.9 669.2,135.2 669.4,134.3 669.5,125.9 669.6,143.6 669.8,143.9 669.9,144.8 670.0,126.8 670.1,126.2 670.2,139.9 670.4,134.8 670.5,128.5 670.6,140.3 670.8,130.0 670.9,137.3 671.0,137.8 671.1,129.8 671.2,128.9 671.4,125.3 671.5,122.0 671.6,122.3 671.8,118.4 671.9,141.9 672.0,138.2 672.1,117.5 672.2,122.5 672.4,123.7 672.5,140.9 672.6,127.4 672.8,125.3 672.9,136.7 673.0,140.6 673.1,139.6 673.2,142.8 673.4,147.9 673.5,130.7 673.6,141.8 673.8,149.3 673.9,145.4 674.0,148.6 674.1,145.4 674.2,116.9 674.4,136.6 674.5,127.5 674.6,125.3 674.8,124.0 674.9,136.2 675.0,139.1 675.1,147.6 675.2,146.8 675.4,132.8 675.5,147.1 675.6,140.0 675.8,122.2 675.9,150.2 676.0,131.3 676.1,129.7 676.2,150.3 676.4,153.1 676.5,141.5 676.6,132.2 676.8,125.0 676.9,123.4 677.0,138.5 677.1,147.4 677.2,136.0 677.4,146.1 677.5,121.2 677.6,137.2 677.8,129.8 677.9,131.0 678.0,148.0 678.1,142.8 678.2,145.5 678.4,133.7 678.5,124.9 678.6,130.4 678.8,138.1 678.9,129.5 679.0,139.5 679.1,139.6 679.2,151.3 679.4,145.4 679.5,136.8 679.6,137.2 679.8,127.0 679.9,146.4 680.0,140.7 680.1,149.4 680.2,130.0 680.4,149.6 680.5,125.7 680.6,132.2 680.8,142.6 680.9,127.3 681.0,139.1 681.1,139.1 681.2,128.1 681.4,130.3 681.5,144.0 681.6,152.2 681.8,146.9 681.9,142.8 682.0,143.5 682.1,150.0 682.2,143.2 682.4,138.6 682.5,126.2 682.6,129.0 682.8,122.4 682.9,126.9 683.0,137.7 683.1,146.0 683.2,128.9 683.4,136.4 683.5,122.3 683.6,125.9 683.8,136.3 683.9,122.3 684.0,144.9 684.1,134.3 684.2,121.0 684.4,138.7 684.5,137.1 684.6,129.6 684.8,139.0 684.9,141.5 685.0,126.6 685.1,152.1 685.2,131.2 685.4,140.2 685.5,128.9 685.6,124.6 685.8,125.8 685.9,143.1 686.0,139.4 686.1,119.1 686.2,125.9 686.4,131.0 686.5,125.2 686.6,131.6 686.8,127.6 686.9,116.2 687.0,140.7 687.1,115.3 687.2,146.1 687.4,117.3 687.5,153.0 687.6,120.9 687.8,123.4 687.9,143.6 688.0,128.5 688.1,137.3 688.2,152.9 688.4,147.5 688.5,118.6 688.6,122.5 688.8,129.2 688.9,133.0 689.0,122.3 689.1,118.1 689.2,145.3 689.4,139.2 689.5,127.8 689.6,131.3 689.8,114.4 689.9,141.1 690.0,120.0 690.1,136.1 690.2,144.1 690.4,125.3 690.5,135.3 690.6,123.1 690.8,127.9 690.9,132.7 691.0,135.5 691.1,117.6 691.2,118.2 691.4,142.3 691.5,137.3 691.6,137.0 691.8,149.1 691.9,129.6 692.0,120.6 692.1,135.9 692.2,119.0 692.4,139.2 692.5,127.1 692.6,133.3 692.8,135.2 692.9,115.3 693.0,123.8 693.1,138.1 693.2,141.1 693.4,134.3 693.5,142.3 693.6,138.5 693.8,124.9 693.9,119.6 694.0,120.1 694.1,121.9 694.2,131.9 694.4,142.6 694.5,141.8 694.6,116.8 694.8,139.0 694.9,138.3 695.0,141.8 695.1,125.3 695.2,131.2 695.4,124.6 695.5,123.9 695.6,143.2 695.8,138.8 695.9,118.9 696.0,123.4 696.1,121.8 696.2,131.1 696.4,120.3 696.5,137.6 696.6,125.8 696.8,117.8 696.9,129.4 697.0,128.9 697.1,138.3 697.2,144.8 697.4,126.5 697.5,136.2 697.6,117.6 697.8,128.4 697.9,127.7 698.0,130.7 698.1,135.5 698.2,142.3 698.4,140.7 698.5,134.6 698.6,133.2 698.8,125.9 698.9,131.9 699.0,138.5 699.1,150.2 699.2,130.2 699.4,151.8 699.5,128.3 699.6,121.1 699.8,127.6 699.9,143.4 700.0,136.1 700.1,143.0 700.2,132.0 700.4,135.2 700.5,127.4 700.6,132.1 700.8,145.2 700.9,146.6 701.0,135.4 701.1,146.3 701.2,144.6 701.4,125.9 701.5,136.6 701.6,140.1 701.8,138.3 701.9,130.2 702.0,137.2 702.1,134.9 702.2,136.6 702.4,152.7 702.5,143.7 702.6,148.9 702.8,154.5 702.9,126.7 703.0,156.3 703.1,152.9 703.2,140.0 703.4,147.5 703.5,129.0 703.6,132.3 703.8,151.8 703.9,153.2 704.0,156.9 704.1,135.6 704.2,136.1 704.4,141.8 704.5,152.0 704.6,127.3 704.8,132.6 704.9,149.9 705.0,149.4 705.1,140.5 705.2,138.8 705.4,148.6 705.5,145.3 705.6,143.8 705.8,139.6 705.9,134.0 706.0,154.5 706.1,148.0 706.2,152.4 706.4,130.9 706.5,137.8 706.6,149.5 706.8,140.6 706.9,141.6 707.0,131.3 707.1,146.9 707.2,154.3 707.4,136.2 707.5,138.9 707.6,142.4 707.8,140.4 707.9,146.1 708.0,131.6 708.1,133.6 708.2,142.8 708.4,147.5 708.5,153.5 708.6,143.4 708.8,144.6 708.9,128.1 709.0,138.1 709.1,141.7 709.2,145.9 709.4,153.4 709.5,149.6 709.6,135.6 709.8,138.4 709.9,136.0 710.0,126.0 710.1,151.4 710.2,153.4 710.4,153.0 710.5,139.9 710.6,130.0 710.8,150.9 710.9,135.9 711.0,139.5 711.1,125.7 711.2,152.4 711.4,135.9 711.5,149.6 711.6,157.0 711.8,147.1 711.9,149.6 712.0,135.9 712.1,152.4 712.2,130.7 712.4,143.7 712.5,145.8 712.6,144.3 712.8,132.3 712.9,137.6 713.0,139.8 713.1,151.9 713.2,132.2 713.4,132.8 713.5,150.6 713.6,137.3 713.8,151.6 713.9,139.7 714.0,128.3 714.1,134.5 714.2,148.5 714.4,124.6 714.5,134.4 714.6,131.7 714.8,154.6 714.9,128.1 715.0,145.9 715.1,130.6 715.2,132.7 715.4,152.3 715.5,126.0 715.6,140.4 715.8,138.5 715.9,136.7 716.0,140.4 716.1,128.6 716.2,140.4 716.4,146.6 716.5,147.6 716.6,123.4 716.8,140.1 716.9,124.1 717.0,134.6 717.1,141.4 717.2,125.0 717.4,141.0 717.5,144.0 717.6,135.6 717.8,126.9 717.9,124.9 718.0,127.5 718.1,123.3 718.2,142.5 718.4,124.6 718.5,132.1 718.6,126.1 718.8,119.8 718.9,123.5 719.0,131.3 719.1,135.6 719.2,127.6 719.4,118.2 719.5,121.3 719.6,131.2 719.8,125.4 719.9,131.4 720.0,122.4 720.1,125.6 720.2,130.3 720.4,116.5 720.5,115.2 720.6,133.6 720.8,124.9 720.9,125.9 721.0,129.4 721.1,121.6 721.2,131.7 721.4,117.0 721.5,117.7 721.6,136.3 721.8,132.3 721.9,125.8 722.0,114.5 722.1,131.5 722.2,126.6 722.4,115.5 722.5,113.0 722.6,117.6 722.8,121.3 722.9,127.6 723.0,125.4 723.1,127.7 723.2,127.5 723.4,120.2 723.5,127.4 723.6,121.2 723.8,117.6 723.9,114.9 724.0,112.2 724.1,130.2 724.2,130.6 724.4,120.1 724.5,122.5 724.6,127.3 724.8,118.7 724.9,126.1 725.0,131.5 725.1,114.1 725.2,135.9 725.4,129.1 725.5,137.8 725.6,112.5 725.8,122.6 725.9,129.0 726.0,118.2 726.1,114.5 726.2,132.6 726.4,141.0 726.5,117.1 726.6,135.9 726.8,125.9 726.9,120.1 727.0,121.9 727.1,131.1 727.2,130.7 727.4,110.3 727.5,124.8 727.6,117.8 727.8,121.0 727.9,123.2 728.0,122.7 728.1,113.5 728.2,124.7 728.4,139.0 728.5,130.8 728.6,119.8 728.8,117.0 728.9,131.5 729.0,111.6 729.1,121.7 729.2,124.5 729.4,113.0 729.5,122.7 729.6,130.4 729.8,115.5 729.9,122.1 730.0,110.9 730.1,121.0 730.2,119.3 730.4,134.3 730.5,113.0 730.6,125.5 730.8,127.5 730.9,125.6 731.0,136.3 731.1,126.5 731.2,125.6 731.4,109.9 731.5,111.6 731.6,122.4 731.8,133.8 731.9,111.3 732.0,123.1 732.1,131.4 732.2,118.9 732.4,109.7 732.5,123.6 732.6,116.2 732.8,119.2 732.9,112.9 733.0,127.2 733.1,110.3 733.2,125.1 733.4,120.4 733.5,112.3 733.6,119.6 733.8,107.7 733.9,132.6 734.0,127.3 734.1,134.2 734.2,107.8 734.4,113.7 734.5,131.5 734.6,112.4 734.8,119.1 734.9,105.9 735.0,130.6 735.1,114.3 735.2,123.0 735.4,106.1 735.5,121.0 735.6,126.7 735.8,109.4 735.9,114.5 736.0,103.9 736.1,115.1 736.2,109.9 736.4,127.6 736.5,112.6 736.6,113.7 736.8,113.2 736.9,117.0 737.0,114.3 737.1,132.6 737.2,113.9 737.4,108.6 737.5,132.8 737.6,125.6 737.8,110.6 737.9,124.0 738.0,110.2 738.1,103.7 738.2,126.4 738.4,126.9 738.5,115.3 738.6,122.5 738.8,115.9 738.9,104.7 739.0,113.9 739.1,120.6 739.2,127.0 739.4,111.1 739.5,129.5 739.6,112.9 739.8,105.1 739.9,102.3 740.0,101.9 740.1,118.8 740.2,106.8 740.4,110.7 740.5,115.9 740.6,117.1 740.8,127.2 740.9,121.2 741.0,109.1 741.1,109.9 741.2,118.0 741.4,116.6 741.5,112.1 741.6,111.3 741.8,119.3 741.9,115.5 742.0,106.1 742.1,103.5 742.2,120.6 742.4,112.2 742.5,113.1 742.6,120.1 742.8,131.2 742.9,119.3 743.0,128.2 743.1,133.1 743.2,125.9 743.4,131.7 743.5,110.7 743.6,132.7 743.8,123.1 743.9,111.0 744.0,109.7 744.1,110.1 744.2,136.1 744.4,114.1 744.5,112.1 744.6,109.6 744.8,112.9 744.9,108.2 745.0,134.4 745.1,120.0 745.2,117.5 745.4,136.5 745.5,124.2 745.6,123.4 745.8,122.0 745.9,125.0 746.0,134.2 746.1,116.8 746.2,141.6 746.4,123.4 746.5,117.2 746.6,125.0 746.8,129.1 746.9,137.3 747.0,123.0 747.1,133.8 747.2,122.0 747.4,143.2 747.5,123.9 747.6,126.6 747.8,138.6 747.9,144.3 748.0,136.6 748.1,132.9 748.2,118.7 748.4,138.2 748.5,140.5 748.6,125.4 748.8,122.7 748.9,128.5 749.0,120.7 749.1,118.9 749.2,134.5 749.4,131.9 749.5,124.4 749.6,132.2 749.8,118.1 749.9,130.1 750.0,120.3 750.1,121.1 750.2,137.1 750.4,121.7 750.5,133.6 750.6,123.0 750.8,132.6 750.9,133.3 751.0,115.8 751.1,128.2 751.2,135.0 751.4,133.0 751.5,116.6 751.6,134.4 751.8,114.4 751.9,134.6 752.0,137.3 752.1,119.9 752.2,131.5 752.4,119.5 752.5,131.9 752.6,109.5 752.8,116.7 752.9,129.9 753.0,121.5 753.1,109.7 753.2,128.7 753.4,130.5 753.5,119.5 753.6,113.8 753.8,125.4 753.9,112.2 754.0,122.6 754.1,128.6 754.2,106.5 754.4,128.4 754.5,115.7 754.6,131.6 754.8,113.4 754.9,115.1 755.0,122.1 755.1,127.1 755.2,117.9 755.4,117.7 755.5,112.9 755.6,108.0 755.8,127.7 755.9,104.7 756.0,128.7 756.1,122.7 756.2,122.0 756.4,113.9 756.5,116.4 756.6,111.4 756.8,126.2 756.9,100.2 757.0,130.3 757.1,123.8 757.2,115.5 757.4,123.1 757.5,101.2 757.6,109.9 757.8,112.7 757.9,116.8 758.0,119.8 758.1,115.9 758.2,105.6 758.4,101.0 758.5,109.6 758.6,96.5 758.8,92.2 758.9,97.3 759.0,100.7 759.1,101.7 759.2,101.5 759.4,109.3 759.5,105.3 759.6,109.5 759.8,115.4 759.9,104.0 760.0,106.6 760.1,119.1 760.2,105.4 760.4,102.4 760.5,109.9 760.6,118.0 760.8,94.2 760.9,102.1 761.0,105.0 761.1,108.7 761.2,96.5 761.4,109.3 761.5,115.5 761.6,116.9 761.8,90.0 761.9,107.9 762.0,100.4 762.1,112.3 762.2,87.4 762.4,100.5 762.5,110.1 762.6,100.4 762.8,99.6 762.9,107.0 763.0,102.5 763.1,101.5 763.2,92.3 763.4,102.2 763.5,98.5 763.6,103.1 763.8,91.9 763.9,97.8 764.0,96.6 764.1,106.1 764.2,108.8 764.4,95.3 764.5,99.7 764.6,104.3 764.8,89.5 764.9,101.9 765.0,101.2 765.1,93.0 765.2,96.7 765.4,111.2 765.5,87.6 765.6,109.2 765.8,85.8 765.9,108.0 766.0,109.2 766.1,92.9 766.2,102.1 766.4,109.4 766.5,112.3 766.6,105.9 766.8,89.1 766.9,92.2 767.0,87.5 767.1,117.0 767.2,110.7 767.4,116.1 767.5,96.7 767.6,96.4 767.8,98.0 767.9,118.9 768.0,109.9 768.1,113.2 768.2,100.2 768.4,115.5 768.5,101.7 768.6,86.9 768.8,107.4 768.9,97.7 769.0,99.1 769.1,104.5 769.2,116.3 769.4,95.4 769.5,101.9 769.6,107.4 769.8,97.5 769.9,98.7 770.0,91.7 770.1,122.3 770.2,110.1 770.4,98.2 770.5,102.3 770.6,103.9 770.8,105.9 770.9,107.7 771.0,119.7 771.1,111.4 771.2,95.0 771.4,106.6 771.5,96.2 771.6,92.4 771.8,108.5 771.9,114.3 772.0,115.1 772.1,106.3 772.2,120.2 772.4,108.8 772.5,117.1 772.6,108.7 772.8,96.0 772.9,109.3 773.0,115.5 773.1,111.9 773.2,106.7 773.4,96.6 773.5,118.0 773.6,108.9 773.8,95.4 773.9,112.5 774.0,114.6 774.1,93.6 774.2,104.3 774.4,100.6 774.5,109.0 774.6,109.6 774.8,101.9 774.9,98.1 775.0,100.3 775.1,120.9 775.2,107.7 775.4,107.9 775.5,90.5 775.6,104.4 775.8,96.3 775.9,94.4 776.0,93.6 776.1,101.0 776.2,101.0 776.4,91.6 776.5,102.3 776.6,113.3 776.8,101.0 776.9,98.0 777.0,95.4 777.1,88.5 777.2,112.1 777.4,106.7 777.5,98.4 777.6,90.3 777.8,111.8 777.9,92.4 778.0,118.3 778.1,101.5 778.2,94.5 778.4,104.4 778.5,108.2 778.6,100.0 778.8,105.5 778.9,103.6 779.0,88.6 779.1,92.6 779.2,91.9 779.4,108.0 779.5,111.1 779.6,91.6 779.8,108.3 779.9,105.3 780.0,87.9 780.1,108.0 780.2,88.6 780.4,91.3 780.5,109.3 780.6,87.9 780.8,105.7 780.9,90.7 781.0,103.1 781.1,101.1 781.2,100.4 781.4,100.6 781.5,93.9 781.6,102.9 781.8,91.8 781.9,102.8 782.0,103.1 782.1,101.8 782.2,91.5 782.4,103.2 782.5,90.7 782.6,90.3 782.8,107.4 782.9,84.7 783.0,86.6 783.1,87.2 783.2,92.7 783.4,106.2 783.5,105.0 783.6,108.4 783.8,100.6 783.9,94.0 784.0,102.4 784.1,88.5 784.2,98.0 784.4,92.1 784.5,93.4 784.6,97.8 784.8,92.3 784.9,78.8 785.0,106.0 785.1,91.6 785.2,99.7 785.4,81.6 785.5,85.0 785.6,90.3 785.8,92.8 785.9,88.8 786.0,98.8 786.1,94.6 786.2,75.4 786.4,80.6 786.5,102.1 786.6,101.9 786.8,87.0 786.9,96.0 787.0,95.1 787.1,93.4 787.2,99.3 787.4,85.9 787.5,84.6 787.6,88.1 787.8,97.8 787.9,94.8 788.0,87.5 788.1,81.7 788.2,93.7 788.4,77.8 788.5,90.2 788.6,99.6 788.8,86.9 788.9,94.5 789.0,97.6 789.1,86.4 789.2,99.5 789.4,105.7 789.5,80.1 789.6,77.8 789.8,79.5 789.9,99.6 790.0,88.2 790.1,90.9 790.2,93.3 790.4,87.2 790.5,84.9 790.6,77.1 790.8,92.5 790.9,92.0 791.0,82.5 791.1,78.7 791.2,93.8 791.4,93.3 791.5,92.0 791.6,78.1 791.8,86.5 791.9,98.4 792.0,101.8 792.1,76.8 792.2,99.5 792.4,75.3 792.5,103.0 792.6,93.3 792.8,85.8 792.9,85.7 793.0,86.9 793.1,100.1 793.2,92.7 793.4,92.2 793.5,83.9 793.6,101.8 793.8,89.6 793.9,87.3 794.0,96.0 794.1,87.4 794.2,84.1 794.4,88.3 794.5,79.8 794.6,90.3 794.8,93.5 794.9,100.7 795.0,86.2 795.1,101.7 795.2,98.8 795.4,85.8 795.5,95.8 795.6,100.2 795.8,82.3 795.9,90.3 796.0,82.6 796.1,92.3 796.2,82.1 796.4,88.8 796.5,98.5 796.6,101.4 796.8,100.3 796.9,82.5 797.0,94.1 797.1,101.4 797.2,92.2 797.4,94.6 797.5,83.2 797.6,84.6 797.8,95.9 797.9,98.0 798.0,96.3 798.1,83.8 798.2,102.8 798.4,86.9 798.5,101.5 798.6,85.2 798.8,94.1 798.9,100.3 799.0,107.3 799.1,95.0 799.2,95.2 799.4,108.0 799.5,103.7 799.6,109.4 799.8,108.4 799.9,105.3 800.0,108.9 800.1,98.8 800.2,85.8 800.4,99.2 800.5,111.0 800.6,97.3 800.8,101.4 800.9,112.6 801.0,110.7 801.1,113.2 801.2,109.6 801.4,107.0 801.5,91.3 801.6,94.1 801.8,104.2 801.9,96.0 802.0,103.1 802.1,106.8 802.2,109.5 802.4,113.0 802.5,112.7 802.6,92.6 802.8,105.5 802.9,105.8 803.0,115.9 803.1,105.2 803.2,97.6 803.4,105.8 803.5,103.8 803.6,109.0 803.8,105.9 803.9,116.8 804.0,108.9 804.1,113.6 804.2,121.4 804.4,103.3 804.5,109.8 804.6,111.3 804.8,115.1 804.9,108.1 805.0,121.5 805.1,121.9 805.2,107.9 805.4,111.6 805.5,112.5 805.6,120.0 805.8,119.4 805.9,114.9 806.0,103.6 806.1,107.7 806.2,114.9 806.4,121.0 806.5,127.1 806.6,110.3 806.8,105.1 806.9,123.0 807.0,122.7 807.1,111.8 807.2,124.8 807.4,124.8 807.5,119.4 807.6,113.4 807.8,116.5 807.9,128.2 808.0,120.1 808.1,120.9 808.2,111.3 808.4,110.3 808.5,109.6 808.6,126.0 808.8,104.8 808.9,113.8 809.0,127.8 809.1,125.1 809.2,117.6 809.4,118.7 809.5,109.6 809.6,113.3 809.8,116.2 809.9,116.2 810.0,120.9 810.1,95.6 810.2,99.9 810.4,105.6 810.5,108.3 810.6,111.2 810.8,117.6 810.9,101.8 811.0,104.1 811.1,114.5 811.2,113.3 811.4,97.7 811.5,108.6 811.6,117.9 811.8,119.9 811.9,122.0 812.0,101.2 812.1,110.4 812.2,109.5 812.4,121.8 812.5,106.7 812.6,103.8 812.8,117.4 812.9,105.0 813.0,102.9 813.1,108.2 813.2,96.8 813.4,116.8 813.5,106.6 813.6,122.0 813.8,116.8 813.9,102.6 814.0,107.2 814.1,97.0 814.2,112.9 814.4,107.9 814.5,116.8 814.6,122.1 814.8,115.7 814.9,108.8 815.0,114.1 815.1,95.0 815.2,113.8 815.4,98.1 815.5,105.5 815.6,121.4 815.8,115.7 815.9,120.1 816.0,95.8 816.1,96.0 816.2,103.6 816.4,111.7 816.5,116.8 816.6,109.3 816.8,102.1 816.9,111.7 817.0,109.0 817.1,118.3 817.2,113.8 817.4,111.6 817.5,112.6 817.6,112.5 817.8,100.4 817.9,110.4 818.0,94.2 818.1,107.8 818.2,109.4 818.4,109.1 818.5,110.4 818.6,107.4 818.8,113.8 818.9,95.3 819.0,113.2 819.1,98.3 819.2,110.6 819.4,95.9 819.5,104.0 819.6,106.8 819.8,97.1 819.9,100.3 820.0,110.0 820.1,100.0 820.2,118.7 820.4,107.1 820.5,113.1 820.6,93.9 820.8,106.3 820.9,112.0 821.0,111.1 821.1,93.9 821.2,115.6 821.4,98.0 821.5,96.5 821.6,110.6 821.8,110.7 821.9,95.9 822.0,91.4 822.1,98.9 822.2,112.7 822.4,99.9 822.5,105.2 822.6,110.2 822.8,97.8 822.9,110.9 823.0,100.5 823.1,109.4 823.2,100.6 823.4,96.0 823.5,105.8 823.6,107.0 823.8,108.4 823.9,96.2 824.0,116.2 824.1,111.5 824.2,93.1 824.4,86.6 824.5,99.7 824.6,104.5 824.8,98.6 824.9,115.0 825.0,100.0 825.1,104.4 825.2,94.2 825.4,101.9 825.5,98.5 825.6,106.7 825.8,95.3 825.9,101.1 826.0,95.2 826.1,107.9 826.2,103.8 826.4,89.9 826.5,102.6 826.6,100.2 826.8,97.3 826.9,87.3 827.0,89.5 827.1,89.3 827.2,85.9 827.4,116.3 827.5,106.7 827.6,111.0 827.8,108.3 827.9,107.6 828.0,87.9 828.1,87.4 828.2,90.7 828.4,103.4 828.5,99.2 828.6,86.1 828.8,95.1 828.9,104.9 829.0,99.8 829.1,95.0 829.2,110.7 829.4,100.0 829.5,103.7 829.6,80.3 829.8,101.7 829.9,94.7 830.0,93.7 830.1,79.8 830.2,100.9 830.4,109.3 830.5,99.8 830.6,99.6 830.8,86.0 830.9,91.7 831.0,106.5 831.1,90.1 831.2,92.9 831.4,90.2 831.5,99.8 831.6,82.1 831.8,103.4 831.9,101.8 832.0,95.9 832.1,81.2 832.2,104.6 832.4,96.0 832.5,86.5 832.6,97.5 832.8,76.3 832.9,102.1 833.0,90.2 833.1,83.8 833.2,86.7 833.4,97.6 833.5,91.3 833.6,92.5 833.8,105.9 833.9,113.2 834.0,103.4 834.1,92.3 834.2,101.9 834.4,96.3 834.5,93.6 834.6,88.0 834.8,89.2 834.9,108.9 835.0,88.3 835.1,82.5 835.2,95.7 835.4,99.5 835.5,86.7 835.6,105.8 835.8,79.6 835.9,87.0 836.0,107.6 836.1,100.8 836.2,91.6 836.4,109.0 836.5,87.4 836.6,99.7 836.8,85.4 836.9,91.1 837.0,92.4 837.1,81.2 837.2,89.6 837.4,90.5 837.5,94.9 837.6,96.5 837.8,96.0 837.9,94.3 838.0,97.5 838.1,101.1 838.2,103.1 838.4,97.5 838.5,86.1 838.6,84.4 838.8,88.1 838.9,84.6 839.0,88.4 839.1,97.2 839.2,106.2 839.4,85.6 839.5,100.5 839.6,94.9 839.8,103.2 839.9,87.4 840.0,93.9 840.1,102.7 840.2,99.3 840.4,103.0 840.5,92.7 840.6,88.7 840.8,100.2 840.9,107.4 841.0,102.2 841.1,96.8 841.2,110.5 841.4,89.5 841.5,92.9 841.6,99.7 841.8,91.5 841.9,94.1 842.0,106.3 842.1,99.4 842.2,106.6 842.4,104.9 842.5,117.1 842.6,112.8 842.8,100.2 842.9,95.4 843.0,95.1 843.1,92.0 843.2,104.8 843.4,116.1 843.5,94.6 843.6,95.0 843.8,105.8 843.9,110.0 844.0,116.6 844.1,124.9 844.2,113.3 844.4,102.1 844.5,108.6 844.6,109.5 844.8,111.6 844.9,114.0 845.0,114.8 845.1,102.1 845.2,115.6 845.4,105.2 845.5,113.7 845.6,119.6 845.8,120.5 845.9,113.1 846.0,120.7 846.1,107.5 846.2,109.2 846.4,116.4 846.5,127.7 846.6,124.5 846.8,129.9 846.9,109.8 847.0,120.7 847.1,119.5 847.2,123.5 847.4,129.9 847.5,110.6 847.6,117.0 847.8,121.2 847.9,127.1 848.0,124.3 848.1,114.1 848.2,116.5 848.4,122.4 848.5,121.3 848.6,114.6 848.8,130.0 848.9,128.6 849.0,132.9 849.1,118.8 849.2,116.8 849.4,112.7 849.5,116.2 849.6,108.4 849.8,130.7 849.9,127.9 850.0,129.7 850.1,119.7 850.2,134.8 850.4,119.5 850.5,128.0 850.6,120.6 850.8,132.9 850.9,118.9 851.0,127.3 851.1,136.7 851.2,135.5 851.4,122.6 851.5,112.2 851.6,134.8 851.8,119.8 851.9,116.2 852.0,135.1 852.1,126.7 852.2,120.3 852.4,123.3 852.5,121.1 852.6,130.6 852.8,120.9 852.9,124.7 853.0,122.8 853.1,120.8 853.2,135.4 853.4,122.4 853.5,128.7 853.6,120.7 853.8,136.9 853.9,122.9 854.0,125.8 854.1,116.0 854.2,122.5 854.4,125.5 854.5,133.2 854.6,126.1 854.8,125.3 854.9,133.9 855.0,126.1 855.1,137.1 855.2,127.8 855.4,136.3 855.5,123.4 855.6,124.3 855.8,130.0 855.9,137.3 856.0,122.7 856.1,142.7 856.2,136.7 856.4,139.5 856.5,117.0 856.6,136.3 856.8,133.4 856.9,122.1 857.0,127.1 857.1,142.0 857.2,120.3 857.4,132.3 857.5,138.6 857.6,117.6 857.8,121.5 857.9,131.7 858.0,142.8 858.1,140.9 858.2,123.3 858.4,122.8 858.5,136.4 858.6,138.6 858.8,141.8 858.9,143.2 859.0,134.0 859.1,120.2 859.2,127.2 859.4,122.1 859.5,136.6 859.6,137.3 859.8,128.9 859.9,123.1 860.0,120.5 860.1,137.6 860.2,127.8 860.4,136.0 860.5,131.0 860.6,135.3 860.8,126.8 860.9,131.1 861.0,136.1 861.1,140.2 861.2,130.3 861.4,119.5 861.5,150.2 861.6,133.1 861.8,140.6 861.9,131.2 862.0,125.8 862.1,137.7 862.2,131.2 862.4,132.8 862.5,143.0 862.6,130.8 862.8,120.4 862.9,152.7 863.0,132.6 863.1,121.5 863.2,131.5 863.4,136.9 863.5,123.9 863.6,125.8 863.8,126.7 863.9,123.7 864.0,141.0 864.1,127.7 864.2,142.2 864.4,118.9 864.5,138.4 864.6,122.2 864.8,119.2 864.9,139.6 865.0,119.3 865.1,138.1 865.2,133.6 865.4,140.2 865.5,143.9 865.6,136.0 865.8,134.8 865.9,128.6 866.0,131.5 866.1,139.4 866.2,116.3 866.4,137.2 866.5,127.2 866.6,119.8 866.8,122.8 866.9,125.0 867.0,121.6 867.1,120.9 867.2,146.4 867.4,132.6 867.5,145.6 867.6,143.2 867.8,120.0 867.9,129.4 868.0,127.2 868.1,120.2 868.2,141.6 868.4,128.5 868.5,138.4 868.6,142.9 868.8,141.5 868.9,135.5 869.0,125.7 869.1,129.2 869.2,140.2 869.4,131.3 869.5,136.1 869.6,145.1 869.8,118.6 869.9,119.8 870.0,126.4 870.1,145.8 870.2,122.7 870.4,144.8 870.5,127.0 870.6,149.7 870.8,143.5 870.9,132.9 871.0,139.6 871.1,125.4 871.2,123.1 871.4,116.7 871.5,126.3 871.6,134.9 871.8,119.5 871.9,123.1 872.0,135.6 872.1,137.9 872.2,127.2 872.4,139.9 872.5,125.6 872.6,139.9 872.8,130.6 872.9,145.9 873.0,148.2 873.1,149.6 873.2,138.2 873.4,148.6 873.5,143.7 873.6,151.6 873.8,141.1 873.9,147.8 874.0,131.5 874.1,132.3 874.2,129.5 874.4,131.1 874.5,134.6 874.6,144.7 874.8,145.5 874.9,154.0 875.0,133.2 875.1,147.9 875.2,146.7 875.4,145.6 875.5,135.2 875.6,133.5 875.8,146.1 875.9,150.5 876.0,144.2 876.1,146.6 876.2,147.4 876.4,140.4 876.5,155.1 876.6,141.2 876.8,144.3 876.9,141.4 877.0,153.6 877.1,156.0 877.2,150.0 877.4,140.5 877.5,142.2 877.6,142.1 877.8,151.9 877.9,152.0 878.0,145.1 878.1,145.2 878.2,160.5 878.4,159.4 878.5,146.8 878.6,154.7 878.8,159.2 878.9,154.3 879.0,157.8 879.1,146.3 879.2,154.5 879.4,152.1 879.5,162.9 879.6,157.2 879.8,159.1 879.9,157.0 880.0,159.8 880.1,162.1 880.2,162.3 880.4,152.6 880.5,165.3 880.6,153.3 880.8,153.2 880.9,158.8 881.0,166.4 881.1,168.5 881.2,165.5 881.4,158.2 881.5,155.2 881.6,171.7 881.8,161.0 881.9,178.0 882.0,168.8 882.1,167.1 882.2,173.3 882.4,179.7 882.5,168.9 882.6,159.6 882.8,170.2 882.9,182.5 883.0,181.4 883.1,181.7 883.2,164.6 883.4,165.6 883.5,182.7 883.6,166.8 883.8,180.5 883.9,176.1 884.0,167.0 884.1,182.7 884.2,176.2 884.4,170.2 884.5,174.8 884.6,178.9 884.8,172.9 884.9,170.1 885.0,189.5 885.1,177.5 885.2,171.0 885.4,165.7 885.5,183.7 885.6,184.0 885.8,186.0 885.9,190.4 886.0,183.5 886.1,171.5 886.2,175.9 886.4,182.8 886.5,175.6 886.6,177.2 886.8,167.6 886.9,176.3 887.0,184.7 887.1,187.3 887.2,169.7 887.4,197.2 887.5,170.0 887.6,189.9 887.8,179.8 887.9,182.4 888.0,173.3 888.1,183.5 888.2,188.6 888.4,191.9 888.5,170.0 888.6,195.0 888.8,189.0 888.9,187.0 889.0,186.4 889.1,189.3 889.2,192.6 889.4,188.5 889.5,167.8 889.6,169.2 889.8,175.7 889.9,199.2 890.0,184.8 890.1,191.5 890.2,183.4 890.4,186.6 890.5,194.2 890.6,200.6 890.8,193.7 890.9,195.7 891.0,178.9 891.1,195.8 891.2,199.6 891.4,185.3 891.5,180.3 891.6,178.9 891.8,178.6 891.9,184.9 892.0,197.0 892.1,192.7 892.2,192.9 892.4,182.3 892.5,184.5 892.6,197.8 892.8,183.9 892.9,185.1 893.0,177.3 893.1,176.3 893.2,195.5 893.4,199.5 893.5,176.8 893.6,181.9 893.8,184.0 893.9,187.2 894.0,191.4 894.1,172.9 894.2,191.4 894.4,165.7 894.5,180.3 894.6,196.4 894.8,184.3 894.9,187.7 895.0,181.8 895.1,175.0 895.2,180.9 895.4,184.5 895.5,170.0 895.6,179.9 895.8,188.7 895.9,178.3 896.0,182.8 896.1,184.2 896.2,189.6 896.4,185.4 896.5,185.0 896.6,168.6 896.8,189.2 896.9,179.6 897.0,170.8 897.1,191.8 897.2,182.5 897.4,178.1 897.5,184.1 897.6,174.7 897.8,175.5 897.9,177.6 898.0,186.1 898.1,171.7 898.2,169.5 898.4,175.5 898.5,173.8 898.6,169.7 898.8,178.1 898.9,185.1 899.0,167.6 899.1,170.2 899.2,176.7 899.4,166.0 899.5,175.2 899.6,179.2 899.8,173.4 899.9,191.5 900.0,168.0 900.1,189.9 900.2,182.6 900.4,190.0 900.5,182.1 900.6,188.7 900.8,184.0 900.9,189.0 901.0,176.7 901.1,180.1 901.2,181.4 901.4,183.7 901.5,188.5 901.6,176.9 901.8,185.0 901.9,184.0 902.0,190.5 902.1,198.6 902.2,173.8 902.4,174.9 902.5,194.4 902.6,184.6 902.8,188.5 902.9,194.4 903.0,194.1 903.1,200.5 903.2,203.2 903.4,179.0 903.5,175.4 903.6,185.4 903.8,187.5 903.9,198.6 904.0,195.5 904.1,197.0 904.2,185.3 904.4,198.7 904.5,189.9 904.6,204.4 904.8,198.3 904.9,197.1 905.0,189.1 905.1,200.4 905.2,204.6 905.4,205.4 905.5,205.5 905.6,195.7 905.8,208.4 905.9,214.4 906.0,206.4 906.1,200.5 906.2,195.6 906.4,203.3 906.5,198.2 906.6,198.8 906.8,191.4 906.9,213.4 907.0,196.8 907.1,212.9 907.2,199.4 907.4,208.6 907.5,203.3 907.6,211.7 907.8,203.8 907.9,215.7 908.0,202.5 908.1,207.4 908.2,212.5 908.4,215.9 908.5,218.9 908.6,215.8 908.8,219.1 908.9,203.6 909.0,207.8 909.1,213.2 909.2,206.9 909.4,209.3 909.5,216.7 909.6,212.4 909.8,203.2 909.9,215.2 910.0,205.6 910.1,205.5 910.2,203.4 910.4,206.7 910.5,214.4 910.6,211.1 910.8,212.3 910.9,214.8 911.0,218.3 911.1,217.1 911.2,229.6 911.4,234.0 911.5,226.8 911.6,219.3 911.8,234.2 911.9,217.8 912.0,231.2 912.1,219.5 912.2,235.1 912.4,217.0 912.5,219.3 912.6,215.1 912.8,230.1 912.9,237.7 913.0,227.3 913.1,242.9 913.2,227.4 913.4,245.2 913.5,253.0 913.6,218.2 913.8,229.8 913.9,225.2 914.0,242.2 914.1,249.0 914.2,246.2 914.4,244.1 914.5,234.0 914.6,242.6 914.8,223.9 914.9,251.1 915.0,222.7 915.1,245.9 915.2,242.3 915.4,243.4 915.5,253.9 915.6,234.7 915.8,227.3 915.9,229.4 916.0,226.5 916.1,246.2 916.2,225.3 916.4,242.4 916.5,238.0 916.6,236.8 916.8,189.0 916.9,238.2 917.0,220.1 917.1,236.1 917.2,235.0 917.4,235.2 917.5,238.5 917.6,220.7 917.8,234.8 917.9,220.2 918.0,236.4 918.1,235.9 918.2,234.3 918.4,234.9 918.5,225.9 918.6,225.0 918.8,218.4 918.9,234.5 919.0,223.5 919.1,230.7 919.2,224.7 919.4,231.0 919.5,234.8 919.6,235.5 919.8,234.3 919.9,235.0 920.0,211.8 920.1,219.3 920.2,226.5 920.4,228.2 920.5,220.0 920.6,220.9 920.8,227.6 920.9,221.5 921.0,222.5 921.1,234.0 921.2,224.9 921.4,211.0 921.5,228.3 921.6,227.5 921.8,234.3 921.9,219.3 922.0,230.5 922.1,212.9 922.2,208.9 922.4,214.1 922.5,231.4 922.6,232.3 922.8,216.3 922.9,224.1 923.0,230.0 923.1,229.6 923.2,225.3 923.4,224.4 923.5,214.4 923.6,214.6 923.8,197.5 923.9,217.1 924.0,213.6 924.1,228.5 924.2,220.8 924.4,223.4 924.5,220.4 924.6,218.2 924.8,223.1 924.9,221.5 925.0,237.8 925.1,216.2 925.2,231.0 925.4,234.2 925.5,220.3 925.6,241.0 925.8,222.1 925.9,238.1 926.0,218.1 926.1,220.1 926.2,233.5 926.4,238.2 926.5,230.1 926.6,231.5 926.8,235.3 926.9,239.2 927.0,225.4 927.1,240.4 927.2,241.4 927.4,234.7 927.5,243.0 927.6,225.4 927.8,234.1 927.9,225.8 928.0,225.3 928.1,226.9 928.2,232.1 928.4,236.1 928.5,230.2 928.6,234.9 928.8,241.9 928.9,246.3 929.0,238.3 929.1,229.8 929.2,233.8 929.4,247.9 929.5,242.2 929.6,246.3 929.8,235.0 929.9,249.1 930.0,245.3 930.1,243.0 930.2,247.8 930.4,239.8 930.5,244.3 930.6,247.4 930.8,248.3 930.9,234.3 931.0,236.9 931.1,230.4 931.2,246.9 931.4,247.2 931.5,240.9 931.6,253.3 931.8,250.7 931.9,247.9 932.0,242.9 932.1,242.0 932.2,259.1 932.4,256.4 932.5,251.5 932.6,246.4 932.8,261.0 932.9,261.7 933.0,263.7 933.1,250.1 933.2,254.4 933.4,242.5 933.5,249.1 933.6,262.9 933.8,258.0 933.9,259.8 934.0,264.3 934.1,258.0 934.2,255.8 934.4,246.2 934.5,256.2 934.6,274.5 934.8,205.0 934.9,259.7 935.0,270.4 935.1,257.7 935.2,269.9 935.4,281.1 935.5,274.7 935.6,274.2 935.8,264.6 935.9,283.3 936.0,250.1 936.1,287.5 936.2,286.4 936.4,272.0 936.5,265.3 936.6,261.5 936.8,281.4 936.9,291.1 937.0,281.6 937.1,288.1 937.2,255.2 937.4,268.0 937.5,260.2 937.6,279.0 937.8,268.7 937.9,264.3 938.0,262.4 938.1,272.8 938.2,282.1 938.4,259.0 938.5,287.5 938.6,270.2 938.8,258.6 938.9,274.4 939.0,274.2 939.1,248.3 939.2,264.7 939.4,251.8 939.5,271.3 939.6,279.3 939.8,264.6 939.9,249.4 940.0,281.2 940.1,280.0 940.2,277.0 940.4,259.2 940.5,265.0 940.6,272.7 940.8,251.6 940.9,268.9 941.0,280.5 941.1,263.2 941.2,274.1 941.4,267.4 941.5,264.3 941.6,269.4 941.8,261.9 941.9,274.4 942.0,266.1 942.1,281.9 942.2,280.1 942.4,254.8 942.5,267.7 942.6,267.4 942.8,263.8 942.9,262.9 943.0,273.8 943.1,255.0 943.2,267.4 943.4,282.9 943.5,254.5 943.6,256.0 943.8,263.1 943.9,254.7 944.0,270.9 944.1,255.3 944.2,256.3 944.4,262.5 944.5,254.6 944.6,260.7 944.8,266.3 944.9,258.0 945.0,255.8 945.1,272.9 945.2,266.8 945.4,267.5 945.5,263.2 945.6,260.6 945.8,266.6 945.9,271.8 946.0,279.3 946.1,278.9 946.2,266.9 946.4,280.0 946.5,284.2 946.6,276.1 946.8,274.0 946.9,265.1 947.0,262.3 947.1,275.3 947.2,266.1 947.4,258.6 947.5,270.7 947.6,267.7 947.8,269.5 947.9,282.0 948.0,269.3 948.1,278.2 948.2,270.1 948.4,277.0 948.5,268.1 948.6,271.2 948.8,263.5 948.9,262.1 949.0,269.5 949.1,267.3 949.2,277.8 949.4,262.6 949.5,268.2 949.6,264.3 949.8,277.4 949.9,272.7 950.0,265.8 950.1,274.6 950.2,269.7 950.4,289.2 950.5,267.5 950.6,265.0 950.8,274.3 950.9,281.4 951.0,275.0 951.1,265.2 951.2,287.5 951.4,265.1 951.5,266.0 951.6,287.0 951.8,269.9 951.9,277.0 952.0,266.3" fill="none" stroke="#0072bd" stroke-width="1.6" stroke-linejoin="round"/>
<polyline points="84.00,552.5 84.10,592.7 84.20,558.1 84.30,600.1 84.40,522.2 84.50,592.6 84.60,519.8 84.70,538.3 84.80,534.9 84.90,539.6 85.00,563.8 85.10,554.8 85.20,524.3 85.30,578.0 85.40,561.1 85.50,537.5 85.60,570.1 85.70,522.0 85.80,580.5 85.90,571.9 86.00,555.6 86.10,572.5 86.20,562.6 86.30,557.6 86.40,561.2 86.50,550.9 86.60,550.1 86.70,551.1 86.80,553.6 86.90,556.4 87.00,551.0 87.10,550.1 87.20,541.8 87.30,524.8 87.40,570.4 87.50,521.8 87.60,540.2 87.70,537.5 87.80,568.0 87.90,552.2 88.00,551.1 88.10,563.0 88.20,543.3 88.30,581.1 88.40,574.9 88.50,541.3 88.60,549.9 88.70,590.7 88.80,549.8 88.90,555.7 89.00,541.7 89.10,560.3 89.20,559.3 89.30,579.7 89.40,562.4 89.50,568.2 89.60,549.6 89.70,601.0 89.80,561.1 89.90,538.6 90.00,615.8 90.10,547.3 90.20,552.3 90.30,558.4 90.40,554.2 90.50,575.1 90.60,544.1 90.70,556.0 90.80,597.2 90.90,548.2 91.00,584.5 91.10,581.7 91.20,554.3 91.30,570.2 91.40,558.7 91.50,556.8 91.60,564.6 91.70,554.0 91.80,593.1 91.90,528.2 92.00,544.6 92.10,574.9 92.20,566.1 92.30,532.6 92.40,579.8 92.50,594.9 92.60,520.2 92.70,535.0 92.80,553.7 92.90,527.6 93.00,551.8 93.10,550.6 93.20,556.9 93.30,557.4 93.40,595.4 93.50,578.8 93.60,576.9 93.70,608.9 93.80,617.0 93.90,596.9 94.00,567.4 94.10,605.1 94.20,589.3 94.30,590.2 94.40,592.5 94.50,607.8 94.60,650.7 94.70,661.3 94.80,648.2 94.90,638.5 95.00,639.6 95.10,649.4 95.20,651.1 95.30,639.3 95.40,672.9 95.50,647.2 95.60,650.6 95.70,691.6 95.80,663.0 95.90,668.9 96.00,662.8 96.10,666.6 96.20,699.7 96.30,648.5 96.40,680.8 96.50,669.7 96.60,673.6 96.70,699.7 96.80,695.1 96.90,699.7 97.00,663.9 97.05,699.7 97.05,442.3 97.10,465.3 97.20,442.3 97.30,442.3 97.40,446.9 97.50,463.1 97.60,449.9 97.70,442.3 97.80,463.6 97.90,445.2 98.00,442.3 98.10,442.3 98.20,456.7 98.30,442.3 98.40,442.3 98.50,486.4 98.60,473.3 98.70,478.0 98.80,467.7 98.90,443.5 99.00,448.5 99.10,451.6 99.20,467.7 99.30,443.3 99.40,487.4 99.50,485.6 99.60,451.8 99.70,469.0 99.80,447.9 99.90,452.4 100.00,451.9 100.10,481.9 100.20,479.0 100.30,498.5 100.40,471.9 100.50,473.4 100.60,483.7 100.70,479.7 100.80,473.2 100.90,462.3 101.00,488.1 101.10,489.5 101.20,481.8 101.30,471.6 101.40,450.9 101.50,466.8 101.60,523.3 101.70,512.4 101.80,498.2 101.90,528.3 102.00,475.2 102.10,502.6 102.20,510.2 102.30,492.6 102.40,485.3 102.50,497.3 102.60,492.4 102.70,477.4 102.80,511.2 102.90,494.7 103.00,526.6 103.10,516.5 103.20,480.1 103.30,510.3 103.40,515.4 103.50,486.1 103.60,508.1 103.70,485.8 103.80,470.0 103.90,465.9 104.00,507.1 104.10,498.7 104.20,514.6 104.30,477.2 104.40,497.3 104.50,460.7 104.60,516.0 104.70,509.9 104.80,557.6 104.90,522.4 105.00,522.1 105.10,504.2 105.20,496.3 105.30,526.3 105.40,515.7 105.50,504.2 105.60,515.9 105.70,504.0 105.80,489.7 105.90,526.4 106.00,511.5 106.10,497.9 106.20,516.1 106.30,492.2 106.40,523.7 106.50,500.4 106.60,515.1 106.70,509.8 106.80,531.2 106.90,502.6 107.00,540.0 107.10,504.0 107.20,521.7 107.30,518.1 107.40,501.2 107.50,546.1 107.60,511.0 107.70,518.1 107.80,533.0 107.90,511.7 108.00,525.9 108.10,495.1 108.20,534.6 108.30,501.0 108.40,504.3 108.50,521.8 108.60,539.4 108.70,529.2 108.80,550.6 108.90,541.3 109.00,540.3 109.10,525.0 109.20,554.5 109.30,524.6 109.40,539.9 109.50,517.2 109.60,523.7 109.70,543.9 109.80,530.4 109.90,531.4 110.00,544.2 110.10,541.4 110.20,540.9 110.30,556.6 110.40,561.9 110.50,540.0 110.60,574.1 110.70,538.7 110.80,534.5 110.90,556.5 111.00,544.0 111.10,565.2 111.20,543.5 111.30,505.0 111.40,549.2 111.50,559.8 111.60,561.0 111.70,584.9 111.80,575.5 111.90,569.9 112.00,576.8 112.10,566.9 112.20,549.5 112.30,594.5 112.40,583.7 112.50,572.5 112.60,595.7 112.70,593.1 112.80,571.7 112.90,571.8 113.00,577.6 113.10,600.5 113.20,576.3 113.30,572.7 113.40,594.7 113.50,587.5 113.60,594.0 113.70,594.5 113.80,600.2 113.90,585.9 114.00,606.8 114.10,566.8 114.20,585.3 114.30,600.9 114.40,561.7 114.50,596.4 114.60,636.9 114.70,583.0 114.80,590.6 114.90,603.6 115.00,603.0 115.10,612.9 115.20,621.6 115.30,619.1 115.40,559.8 115.50,609.8 115.60,596.3 115.70,568.4 115.80,608.3 115.90,597.3 116.00,602.4 116.10,618.3 116.20,585.1 116.30,582.4 116.40,595.2 116.50,594.0 116.60,579.5 116.70,577.4 116.80,556.0 116.90,575.3 117.00,572.8 117.10,595.5 117.20,606.4 117.30,562.8 117.40,596.4 117.50,571.1 117.60,579.9 117.70,593.9 117.80,575.9 117.90,551.2 118.00,556.1 118.10,585.2 118.20,581.2 118.30,609.3 118.40,595.1 118.50,583.9 118.60,574.1 118.70,566.2 118.80,579.8 118.90,552.0 119.00,585.7 119.10,558.9 119.20,585.8 119.30,574.5 119.40,565.0 119.50,554.7 119.60,577.9 119.70,572.3 119.80,568.8 119.90,560.0 120.00,540.2 120.10,552.3 120.20,568.6 120.30,568.3 120.40,543.3 120.50,541.4 120.60,546.7 120.70,563.3 120.80,577.9 120.90,575.5 121.00,561.4 121.10,580.4 121.20,566.2 121.30,528.7 121.40,557.5 121.50,549.7 121.60,579.2 121.70,540.5 121.80,569.1 121.90,561.8 122.00,559.7 122.10,561.9 122.20,571.5 122.30,552.9 122.40,529.6 122.50,568.3 122.60,549.2 122.70,580.3 122.80,557.6 122.90,572.7 123.00,539.7 123.10,569.5 123.20,552.3 123.30,561.0 123.40,581.7 123.50,561.6 123.60,562.5 123.70,549.6 123.80,565.4 123.90,591.1 124.00,578.7 124.10,570.8 124.20,551.6 124.30,568.5 124.40,547.9 124.50,567.1 124.60,556.5 124.70,546.7 124.80,560.1 124.90,589.8 125.00,544.4 125.10,566.3 125.20,550.0 125.30,607.6 125.40,563.6 125.50,564.3 125.60,571.0 125.70,565.7 125.80,580.1 125.90,578.9 126.00,556.6 126.10,567.9 126.20,552.6 126.30,558.2 126.40,576.0 126.50,564.4 126.60,570.0 126.70,556.4 126.80,538.1 126.90,564.2 127.00,573.1 127.10,530.6 127.20,569.6 127.30,576.9 127.40,571.4 127.50,600.1 127.60,541.2 127.70,548.0 127.80,548.4 127.90,557.0 128.00,568.9 128.10,574.5 128.20,578.6 128.30,554.4 128.40,551.5 128.50,553.9 128.60,583.3 128.70,535.7 128.80,579.1 128.90,566.7 129.00,567.6 129.10,581.3 129.20,616.7 129.30,606.7 129.40,602.7 129.50,584.1 129.60,613.7 129.70,608.1 129.80,639.7 129.90,632.8 130.00,613.9 130.10,610.5 130.20,640.8 130.30,644.0 130.40,657.6 130.50,668.7 130.60,671.7 130.70,663.7 130.80,697.4 130.90,699.7 131.00,690.2 131.05,699.7 131.05,442.3 131.10,452.9 131.20,442.3 131.30,462.1 131.40,442.3 131.50,453.9 131.60,456.7 131.70,442.3 131.80,459.8 131.90,489.5 132.00,471.5 132.10,456.4 132.20,442.3 132.30,460.4 132.40,474.3 132.50,465.2 132.60,442.3 132.70,451.9 132.80,450.7 132.90,450.6 133.00,442.3 133.10,481.7 133.20,442.3 133.30,452.9 133.40,478.8 133.50,452.8 133.60,442.9 133.70,469.7 133.80,450.4 133.90,501.9 134.00,492.6 134.10,461.4 134.20,468.9 134.30,460.3 134.40,463.8 134.50,458.8 134.60,497.0 134.70,497.7 134.80,456.7 134.90,470.4 135.00,475.9 135.10,481.4 135.20,442.3 135.30,497.7 135.40,469.3 135.50,442.3 135.60,497.3 135.70,498.6 135.80,492.7 135.90,538.4 136.00,456.7 136.10,461.4 136.20,442.3 136.30,489.8 136.40,478.5 136.50,472.6 136.60,447.6 136.70,483.7 136.80,480.8 136.90,512.5 137.00,486.6 137.10,497.0 137.20,470.2 137.30,479.4 137.40,530.6 137.50,530.0 137.60,493.4 137.70,514.9 137.80,497.3 137.90,476.4 138.00,541.0 138.10,498.4 138.20,535.9 138.30,512.6 138.40,516.2 138.50,543.0 138.60,577.2 138.70,527.6 138.80,550.7 138.90,515.5 139.00,518.6 139.10,497.8 139.20,509.5 139.30,576.0 139.40,572.3 139.50,551.3 139.60,532.2 139.70,523.5 139.80,549.2 139.90,523.5 140.00,558.1 140.10,507.8 140.20,551.6 140.30,556.7 140.40,559.0 140.50,548.7 140.60,513.3 140.70,550.2 140.80,533.1 140.90,581.3 141.00,547.5 141.10,547.8 141.20,544.6 141.30,599.4 141.40,601.2 141.50,579.8 141.60,568.4 141.70,609.5 141.80,585.8 141.90,552.3 142.00,649.2 142.10,634.2 142.20,609.5 142.30,594.8 142.40,611.3 142.50,600.1 142.60,579.5 142.70,632.6 142.80,645.6 142.90,589.6 143.00,674.2 143.10,610.0 143.20,601.2 143.30,631.4 143.40,657.3 143.50,641.3 143.60,663.6 143.70,599.6 143.80,639.1 143.90,657.0 144.00,650.7 144.10,651.7 144.20,641.0 144.30,663.3 144.40,695.9 144.50,685.8 144.60,699.7 144.70,699.7 144.80,681.8 144.90,699.7 145.00,699.5 145.05,699.7 145.05,442.3 145.10,442.3 145.20,442.3 145.30,454.0 145.40,477.5 145.50,452.0 145.60,497.4 145.70,442.3 145.80,500.8 145.90,465.0 146.00,528.9 146.10,486.5 146.20,502.8 146.30,524.8 146.40,499.4 146.50,519.9 146.60,537.7 146.70,549.1 146.80,540.2 146.90,555.6 147.00,586.8 147.10,591.1 147.20,583.3 147.30,616.8 147.40,643.7 147.50,576.5 147.60,620.1 147.70,551.3 147.80,612.3 147.90,603.0 148.00,610.5 148.10,636.0 148.20,653.3 148.30,692.4 148.40,685.7 148.50,699.1 148.60,699.7 148.70,699.7 148.80,677.6 148.90,699.7 149.00,653.6 149.05,699.7 149.05,442.3 149.10,466.9 149.20,442.3 149.30,450.2 149.40,453.2 149.50,473.4 149.60,482.5 149.70,480.6 149.80,467.0 149.90,478.0 150.00,498.1 150.10,548.5 150.20,539.3 150.30,520.3 150.40,497.7 150.50,496.8 150.60,557.3 150.70,539.4 150.80,569.8 150.90,586.3 151.00,565.6 151.10,559.0 151.20,574.4 151.30,649.4 151.40,563.1 151.50,655.9 151.60,578.6 151.70,575.4 151.80,535.9 151.90,664.7 152.00,646.1 152.10,635.6 152.20,633.3 152.30,664.1 152.40,628.3 152.50,675.7 152.60,670.2 152.70,678.2 152.80,663.8 152.90,677.1 153.00,699.7 153.05,699.7 153.05,442.3 153.10,442.3 153.20,476.4 153.30,479.3 153.40,479.1 153.50,470.9 153.60,453.7 153.70,459.0 153.80,519.6 153.90,487.5 154.00,462.0 154.10,470.8 154.20,495.5 154.30,525.2 154.40,494.9 154.50,522.6 154.60,557.9 154.70,593.1 154.80,518.2 154.90,504.9 155.00,489.3 155.10,511.6 155.20,539.8 155.30,560.3 155.40,557.2 155.50,549.8 155.60,604.0 155.70,574.4 155.80,593.2 155.90,570.0 156.00,577.2 156.10,656.1 156.20,646.8 156.30,610.4 156.40,600.8 156.50,642.8 156.60,622.6 156.70,631.4 156.80,650.4 156.90,657.9 157.00,637.4 157.10,620.6 157.20,672.7 157.30,647.4 157.40,661.2 157.50,687.0 157.60,692.6 157.70,699.7 157.80,683.9 157.90,677.6 158.00,699.7 158.05,699.7 158.05,442.3 158.10,493.1 158.20,447.9 158.30,457.8 158.40,469.4 158.50,442.3 158.60,489.4 158.70,480.3 158.80,472.4 158.90,442.3 159.00,513.3 159.10,483.5 159.20,542.4 159.30,515.9 159.40,509.8 159.50,541.4 159.60,496.3 159.70,508.6 159.80,540.1 159.90,520.9 160.00,547.3 160.10,540.1 160.20,543.0 160.30,504.8 160.40,569.2 160.50,534.8 160.60,523.2 160.70,555.5 160.80,545.7 160.90,512.3 161.00,599.2 161.10,604.4 161.20,563.0 161.30,581.9 161.40,546.8 161.50,606.1 161.60,593.2 161.70,582.6 161.80,660.4 161.90,570.3 162.00,610.6 162.10,640.2 162.20,636.9 162.30,638.4 162.40,593.7 162.50,656.9 162.60,602.6 162.70,657.5 162.80,634.5 162.90,660.5 163.00,655.8 163.10,633.5 163.20,665.9 163.30,683.6 163.40,646.1 163.50,622.5 163.60,685.9 163.70,691.7 163.80,699.7 163.90,699.7 164.00,699.7 164.05,699.7 164.05,442.3 164.10,442.3 164.20,461.6 164.30,442.3 164.40,444.6 164.50,442.3 164.60,442.3 164.70,457.9 164.80,494.8 164.90,454.7 165.00,447.9 165.10,442.3 165.20,465.9 165.30,487.3 165.40,495.9 165.50,458.2 165.60,482.2 165.70,451.6 165.80,444.9 165.90,482.2 166.00,469.2 166.10,485.5 166.20,472.8 166.30,527.2 166.40,516.2 166.50,452.5 166.60,537.3 166.70,527.5 166.80,487.3 166.90,529.8 167.00,518.1 167.10,532.6 167.20,471.5 167.30,516.1 167.40,472.3 167.50,511.1 167.60,562.4 167.70,517.8 167.80,572.4 167.90,500.5 168.00,586.5 168.10,502.2 168.20,517.8 168.30,494.8 168.40,524.7 168.50,531.3 168.60,550.8 168.70,559.6 168.80,564.6 168.90,556.1 169.00,555.5 169.10,489.2 169.20,542.5 169.30,579.8 169.40,522.3 169.50,557.7 169.60,581.2 169.70,561.5 169.80,584.6 169.90,554.7 170.00,579.6 170.10,545.1 170.20,608.2 170.30,571.7 170.40,614.8 170.50,533.0 170.60,615.3 170.70,533.5 170.80,595.0 170.90,562.9 171.00,614.4 171.10,603.1 171.20,559.5 171.30,634.6 171.40,585.4 171.50,646.3 171.60,549.3 171.70,579.1 171.80,658.9 171.90,621.6 172.00,585.5 172.10,555.4 172.20,620.2 172.30,670.4 172.40,588.9 172.50,646.2 172.60,627.6 172.70,642.5 172.80,670.1 172.90,695.1 173.00,594.7 173.10,635.3 173.20,640.6 173.30,659.7 173.40,635.9 173.50,677.6 173.60,681.9 173.70,690.6 173.80,694.7 173.90,650.0 174.00,699.7 174.10,611.4 174.20,667.8 174.30,679.4 174.40,675.8 174.50,628.7 174.60,699.7 174.70,675.0 174.80,629.6 174.90,650.3 175.00,672.8 175.10,694.5 175.20,622.7 175.30,699.7 175.40,638.2 175.50,699.7 175.60,699.7 175.70,696.1 175.80,699.7 175.90,699.7 176.00,699.7 176.05,699.7 176.05,442.3 176.10,442.3 176.20,475.4 176.30,472.5 176.40,497.7 176.50,510.4 176.60,516.2 176.70,531.4 176.80,548.2 176.90,551.4 177.00,562.7 177.10,582.7 177.20,640.3 177.30,635.9 177.40,657.1 177.50,645.6 177.60,610.5 177.70,657.0 177.80,688.8 177.90,636.2 178.00,681.1 178.05,699.7 178.05,442.3 178.10,469.8 178.20,445.3 178.30,442.3 178.40,445.0 178.50,492.9 178.60,477.1 178.70,507.3 178.80,531.8 178.90,488.6 179.00,561.5 179.10,519.5 179.20,494.6 179.30,511.7 179.40,535.4 179.50,530.3 179.60,542.7 179.70,518.1 179.80,545.1 179.90,546.0 180.00,589.8 180.10,581.8 180.20,598.0 180.30,563.4 180.40,574.5 180.50,599.9 180.60,586.7 180.70,613.1 180.80,626.1 180.90,612.9 181.00,626.8 181.10,579.9 181.20,680.0 181.30,627.4 181.40,683.3 181.50,644.9 181.60,697.7 181.70,699.7 181.80,644.0 181.90,695.7 182.00,655.0 182.05,699.7 182.05,442.3 182.10,469.1 182.20,482.0 182.30,442.3 182.40,497.4 182.50,490.4 182.60,525.2 182.70,518.6 182.80,579.6 182.90,543.3 183.00,547.3 183.10,529.9 183.20,539.0 183.30,577.1 183.40,582.5 183.50,596.4 183.60,549.8 183.70,633.7 183.80,604.2 183.90,632.8 184.00,678.8 184.10,641.8 184.20,636.3 184.30,668.5 184.40,699.7 184.50,681.9 184.55,699.7 184.55,442.3 184.60,442.3 184.70,471.3 184.80,447.3 184.90,522.3 185.00,522.5 185.10,510.6 185.20,512.0 185.30,499.2 185.40,508.2 185.50,562.1 185.60,526.8 185.70,523.2 185.80,552.0 185.90,586.8 186.00,600.6 186.10,625.4 186.20,664.4 186.30,645.2 186.40,672.1 186.50,641.2 186.60,653.4 186.70,657.2 186.80,668.7 186.90,674.9 187.00,699.7 187.05,699.7 187.05,442.3 187.10,454.9 187.20,442.3 187.30,442.3 187.40,508.4 187.50,497.2 187.60,482.1 187.70,507.2 187.80,501.3 187.90,492.7 188.00,519.0 188.10,484.2 188.20,492.7 188.30,497.1 188.40,509.9 188.50,507.8 188.60,607.6 188.70,518.2 188.80,567.7 188.90,495.7 189.00,572.9 189.10,552.7 189.20,604.0 189.30,602.0 189.40,572.8 189.50,573.8 189.60,550.5 189.70,573.6 189.80,568.6 189.90,556.6 190.00,650.3 190.10,580.2 190.20,643.4 190.30,620.8 190.40,637.1 190.50,617.5 190.60,624.5 190.70,637.1 190.80,668.4 190.90,699.7 191.00,666.9 191.10,675.0 191.20,678.7 191.30,671.2 191.40,642.3 191.50,668.8 191.55,699.7 191.55,442.3 191.60,442.3 191.70,459.8 191.80,481.1 191.90,442.3 192.00,442.3 192.10,458.8 192.20,502.6 192.30,475.6 192.40,454.1 192.50,462.7 192.60,488.2 192.70,475.5 192.80,490.0 192.90,497.3 193.00,455.5 193.10,475.5 193.20,489.5 193.30,512.7 193.40,469.8 193.50,542.4 193.60,505.1 193.70,542.7 193.80,572.4 193.90,534.4 194.00,578.9 194.10,537.8 194.20,569.5 194.30,537.6 194.40,553.8 194.50,584.3 194.60,559.5 194.70,572.0 194.80,517.6 194.90,522.6 195.00,542.2 195.10,542.7 195.20,507.1 195.30,564.9 195.40,570.4 195.50,537.7 195.60,565.5 195.70,608.0 195.80,547.7 195.90,586.5 196.00,558.1 196.10,557.9 196.20,611.1 196.30,603.7 196.40,593.4 196.50,644.2 196.60,640.1 196.70,615.0 196.80,622.5 196.90,649.4 197.00,631.5 197.10,622.9 197.20,654.3 197.30,660.5 197.40,647.7 197.50,675.0 197.60,673.2 197.70,664.6 197.80,699.7 197.90,676.8 198.00,659.5 198.10,695.4 198.20,642.8 198.30,667.2 198.40,644.6 198.50,683.9 198.60,669.2 198.70,690.8 198.80,699.7 198.90,680.6 199.00,699.7 199.05,699.7 199.05,442.3 199.10,444.7 199.20,501.9 199.30,492.8 199.40,517.7 199.50,495.2 199.60,552.3 199.70,532.6 199.80,565.0 199.90,556.4 200.00,623.0 200.10,604.9 200.20,623.1 200.30,646.2 200.40,674.1 200.50,661.4 200.55,699.7 200.55,442.3 200.60,480.5 200.70,442.3 200.80,468.9 200.90,445.6 201.00,442.3 201.10,459.2 201.20,480.1 201.30,502.1 201.40,520.3 201.50,505.8 201.60,480.5 201.70,535.6 201.80,442.3 201.90,508.2 202.00,531.1 202.10,489.3 202.20,492.3 202.30,514.6 202.40,549.1 202.50,532.6 202.60,509.5 202.70,524.2 202.80,599.4 202.90,532.8 203.00,513.7 203.10,580.7 203.20,616.0 203.30,591.9 203.40,574.2 203.50,586.5 203.60,591.3 203.70,669.5 203.80,613.8 203.90,619.5 204.00,607.7 204.10,581.6 204.20,635.7 204.30,592.0 204.40,590.3 204.50,604.2 204.60,647.9 204.70,605.2 204.80,654.6 204.90,654.5 205.00,692.2 205.10,683.1 205.20,686.0 205.30,632.6 205.40,663.3 205.50,669.3 205.60,690.7 205.70,697.0 205.80,699.7 205.90,699.7 206.00,665.8 206.05,699.7 206.05,442.3 206.10,452.2 206.20,442.3 206.30,442.3 206.40,466.6 206.50,442.3 206.60,465.6 206.70,442.9 206.80,485.0 206.90,442.3 207.00,468.8 207.10,477.3 207.20,462.4 207.30,503.3 207.40,546.6 207.50,518.6 207.60,478.2 207.70,465.9 207.80,542.8 207.90,499.3 208.00,501.2 208.10,553.9 208.20,567.1 208.30,482.9 208.40,520.7 208.50,543.0 208.60,525.0 208.70,583.7 208.80,536.5 208.90,552.7 209.00,562.0 209.10,529.7 209.20,561.1 209.30,564.4 209.40,580.6 209.50,592.9 209.60,579.6 209.70,543.2 209.80,634.0 209.90,615.5 210.00,607.4 210.10,580.1 210.20,617.0 210.30,588.7 210.40,661.1 210.50,638.0 210.60,597.4 210.70,678.9 210.80,615.7 210.90,592.8 211.00,612.4 211.10,614.4 211.20,658.7 211.30,655.5 211.40,619.0 211.50,639.9 211.60,607.7 211.70,644.6 211.80,654.8 211.90,661.8 212.00,629.0 212.10,644.3 212.20,685.1 212.30,661.8 212.40,699.7 212.50,660.7 212.60,693.4 212.70,654.9 212.80,657.0 212.90,677.5 213.00,699.7 213.05,699.7 213.05,442.3 213.10,470.5 213.20,462.1 213.30,475.6 213.40,485.9 213.50,482.4 213.60,537.9 213.70,564.5 213.80,581.2 213.90,532.1 214.00,550.5 214.10,597.4 214.20,600.0 214.30,579.4 214.40,632.9 214.50,620.0 214.60,630.4 214.70,656.8 214.80,655.5 214.90,660.8 215.00,699.7 215.05,699.7 215.05,442.3 215.10,494.8 215.20,465.3 215.30,507.6 215.40,521.4 215.50,470.3 215.60,521.4 215.70,516.6 215.80,509.7 215.90,545.0 216.00,515.7 216.10,492.0 216.20,569.0 216.30,557.4 216.40,629.6 216.50,596.0 216.60,540.2 216.70,593.0 216.80,611.0 216.90,596.4 217.00,624.3 217.10,589.1 217.20,637.1 217.30,658.5 217.40,658.3 217.50,699.7 217.60,657.2 217.70,663.2 217.80,699.7 217.90,699.7 218.00,699.7 218.05,699.7 218.05,442.3 218.10,453.1 218.20,442.3 218.30,505.7 218.40,516.8 218.50,511.2 218.60,491.1 218.70,558.6 218.80,558.2 218.90,579.9 219.00,551.6 219.10,550.1 219.20,548.6 219.30,572.2 219.40,602.9 219.50,651.6 219.60,638.5 219.70,632.4 219.80,656.1 219.90,699.7 220.00,699.7 220.05,699.7 220.05,442.3 220.10,471.7 220.20,454.5 220.30,488.9 220.40,522.6 220.50,512.8 220.60,536.8 220.70,579.6 220.80,554.8 220.90,596.0 221.00,618.6 221.10,656.2 221.20,646.8 221.30,654.6 221.40,699.7 221.50,699.7 221.55,699.7 221.55,442.3 221.60,457.7 221.70,443.6 221.80,492.7 221.90,442.3 222.00,479.9 222.10,500.8 222.20,488.8 222.30,470.2 222.40,497.1 222.50,520.0 222.60,502.4 222.70,506.4 222.80,516.3 222.90,548.6 223.00,523.1 223.10,442.3 223.20,547.0 223.30,542.7 223.40,604.4 223.50,559.1 223.60,557.3 223.70,581.8 223.80,580.8 223.90,607.2 224.00,568.7 224.10,593.6 224.20,629.1 224.30,614.3 224.40,604.5 224.50,612.1 224.60,561.7 224.70,631.1 224.80,631.8 224.90,661.0 225.00,631.8 225.10,672.3 225.20,645.4 225.30,679.2 225.40,689.1 225.50,694.2 225.60,630.8 225.70,699.7 225.80,666.1 225.90,695.4 226.00,699.7 226.05,699.7 226.05,442.3 226.10,469.3 226.20,497.6 226.30,487.6 226.40,485.2 226.50,481.5 226.60,560.5 226.70,578.3 226.80,597.9 226.90,598.5 227.00,634.9 227.10,589.4 227.20,652.0 227.30,672.5 227.40,699.7 227.50,696.9 227.55,699.7 227.55,442.3 227.60,485.8 227.70,442.3 227.80,479.7 227.90,521.3 228.00,516.3 228.10,499.0 228.20,554.3 228.30,561.3 228.40,643.6 228.50,634.5 228.60,663.3 228.70,639.3 228.80,699.7 228.90,699.7 229.00,699.7 229.05,699.7 229.05,442.3 229.10,461.8 229.20,456.2 229.30,443.8 229.40,464.6 229.50,505.5 229.60,516.6 229.70,580.6 229.80,518.0 229.90,581.2 230.00,583.7 230.10,587.7 230.20,624.1 230.30,618.7 230.40,601.7 230.50,603.8 230.60,603.2 230.70,641.6 230.80,689.2 230.90,677.7 231.00,699.7 231.05,699.7 231.05,442.3 231.10,522.1 231.20,467.0 231.30,508.8 231.40,526.0 231.50,558.1 231.60,501.4 231.70,563.5 231.80,550.8 231.90,596.9 232.00,610.5 232.10,629.2 232.20,614.0 232.30,699.7 232.40,692.8 232.50,699.7 232.55,699.7 232.55,442.3 232.60,452.2 232.70,494.3 232.80,496.8 232.90,529.8 233.00,554.3 233.10,538.7 233.20,541.1 233.30,576.0 233.40,635.2 233.50,637.9 233.60,616.4 233.70,662.1 233.80,649.8 233.90,685.3 234.00,667.1 234.05,699.7 234.05,442.3 234.10,488.4 234.20,475.4 234.30,476.3 234.40,502.3 234.50,564.6 234.60,570.0 234.70,577.5 234.80,612.4 234.90,613.3 235.00,631.5 235.10,645.0 235.20,662.4 235.30,689.4 235.40,667.2 235.50,678.4 235.55,699.7 235.55,442.3 235.60,467.1 235.70,448.1 235.80,467.0 235.90,523.4 236.00,487.4 236.10,510.9 236.20,542.8 236.30,590.8 236.40,590.2 236.50,629.1 236.60,614.1 236.70,657.1 236.80,696.0 236.90,699.7 237.00,699.7 237.05,699.7 237.05,442.3 237.10,485.6 237.20,467.1 237.30,477.2 237.40,509.7 237.50,539.9 237.60,554.3 237.70,578.4 237.80,603.4 237.90,587.8 238.00,631.5 238.10,620.5 238.20,676.6 238.30,699.1 238.40,678.1 238.50,634.3 238.55,699.7 238.55,442.3 238.60,461.4 238.70,500.0 238.80,460.5 238.90,512.8 239.00,539.5 239.10,577.8 239.20,547.3 239.30,594.2 239.40,621.4 239.50,625.1 239.60,607.2 239.70,631.6 239.80,696.9 239.90,699.7 240.00,664.3 240.05,699.7 240.05,442.3 240.10,456.7 240.20,442.3 240.30,474.7 240.40,484.4 240.50,510.7 240.60,521.9 240.70,529.6 240.80,547.4 240.90,521.8 241.00,578.9 241.10,595.8 241.20,570.8 241.30,635.8 241.40,632.9 241.50,637.5 241.60,689.3 241.70,654.2 241.80,680.6 241.90,669.9 242.00,697.3 242.05,699.7 242.05,442.3 242.10,487.5 242.20,502.6 242.30,497.6 242.40,495.0 242.50,503.0 242.60,515.2 242.70,505.2 242.80,559.7 242.90,554.4 243.00,513.0 243.10,561.1 243.20,570.1 243.30,561.7 243.40,621.5 243.50,591.5 243.60,612.9 243.70,638.8 243.80,625.4 243.90,605.0 244.00,643.7 244.10,665.0 244.20,632.3 244.30,667.3 244.40,643.0 244.50,669.6 244.55,699.7 244.55,442.3 244.60,450.4 244.70,479.7 244.80,482.2 244.90,457.6 245.00,526.3 245.10,446.7 245.20,578.1 245.30,515.5 245.40,510.2 245.50,569.3 245.60,612.6 245.70,582.7 245.80,590.6 245.90,568.9 246.00,601.9 246.10,605.6 246.20,625.2 246.30,595.3 246.40,653.6 246.50,656.6 246.60,656.0 246.70,602.8 246.80,699.7 246.90,699.7 247.00,699.7 247.05,699.7 247.05,442.3 247.10,476.5 247.20,461.9 247.30,447.2 247.40,455.8 247.50,484.5 247.60,502.3 247.70,495.9 247.80,515.8 247.90,454.5 248.00,479.3 248.10,518.9 248.20,504.8 248.30,540.5 248.40,535.3 248.50,537.1 248.60,576.0 248.70,552.7 248.80,575.5 248.90,554.2 249.00,598.7 249.10,594.1 249.20,572.0 249.30,554.5 249.40,584.7 249.50,596.2 249.60,646.4 249.70,631.5 249.80,619.9 249.90,631.6 250.00,634.3 250.10,614.8 250.20,615.6 250.30,668.4 250.40,682.2 250.50,699.7 250.60,672.5 250.70,665.7 250.80,656.1 250.90,699.7 251.00,699.7 251.05,699.7 251.05,442.3 251.10,476.2 251.20,442.3 251.30,442.3 251.40,504.7 251.50,500.4 251.60,538.3 251.70,542.0 251.80,491.2 251.90,564.7 252.00,576.0 252.10,583.8 252.20,630.1 252.30,649.2 252.40,673.2 252.50,610.3 252.60,667.5 252.70,676.3 252.80,651.7 252.90,699.7 253.00,699.7 253.05,699.7 253.05,442.3 253.10,475.1 253.20,458.8 253.30,487.7 253.40,536.6 253.50,482.4 253.60,488.1 253.70,524.9 253.80,552.8 253.90,561.4 254.00,600.4 254.10,593.1 254.20,571.6 254.30,603.4 254.40,656.8 254.50,670.0 254.60,656.3 254.70,631.3 254.80,664.2 254.90,688.2 255.00,679.5 255.05,699.7 255.05,442.3 255.10,474.2 255.20,460.0 255.30,489.7 255.40,522.5 255.50,494.1 255.60,551.9 255.70,534.4 255.80,521.0 255.90,589.9 256.00,540.7 256.10,550.6 256.20,577.7 256.30,616.0 256.40,629.0 256.50,641.6 256.60,647.9 256.70,683.7 256.80,666.6 256.90,651.2 257.00,699.7 257.05,699.7 257.05,442.3 257.10,442.3 257.20,480.3 257.30,480.6 257.40,476.2 257.50,472.6 257.60,472.4 257.70,442.5 257.80,474.7 257.90,463.9 258.00,510.9 258.10,493.3 258.20,553.7 258.30,545.0 258.40,464.6 258.50,530.8 258.60,518.7 258.70,519.0 258.80,528.7 258.90,585.0 259.00,552.9 259.10,507.8 259.20,543.3 259.30,584.4 259.40,579.4 259.50,597.8 259.60,587.2 259.70,594.9 259.80,603.2 259.90,626.9 260.00,657.4 260.10,609.0 260.20,620.9 260.30,618.8 260.40,609.8 260.50,648.4 260.60,619.5 260.70,657.8 260.80,635.6 260.90,648.9 261.00,689.7 261.10,652.3 261.20,669.9 261.30,684.6 261.40,695.5 261.50,697.5 261.55,699.7 261.55,442.3 261.60,469.6 261.70,491.8 261.80,473.4 261.90,462.8 262.00,496.5 262.10,485.3 262.20,550.2 262.30,484.0 262.40,528.1 262.50,550.9 262.60,553.5 262.70,556.5 262.80,573.5 262.90,576.7 263.00,626.6 263.10,592.0 263.20,620.7 263.30,653.5 263.40,617.3 263.50,647.2 263.60,620.1 263.70,682.3 263.80,645.8 263.90,674.6 264.00,699.7 264.05,699.7 264.05,442.3 264.10,442.3 264.20,445.1 264.30,443.6 264.40,488.9 264.50,542.1 264.60,503.1 264.70,498.4 264.80,487.9 264.90,490.0 265.00,496.6 265.10,521.1 265.20,539.9 265.30,562.8 265.40,549.0 265.50,580.2 265.60,572.0 265.70,595.1 265.80,578.1 265.90,612.6 266.00,627.6 266.10,633.8 266.20,616.0 266.30,650.5 266.40,617.2 266.50,679.4 266.60,657.3 266.70,680.6 266.80,699.7 266.90,691.8 267.00,688.3 267.05,699.7 267.05,442.3 267.10,442.3 267.20,465.3 267.30,492.7 267.40,492.9 267.50,497.5 267.60,449.3 267.70,530.8 267.80,513.0 267.90,466.3 268.00,553.8 268.10,497.2 268.20,510.6 268.30,533.2 268.40,549.3 268.50,611.2 268.60,581.4 268.70,593.0 268.80,567.0 268.90,577.1 269.00,641.3 269.10,679.8 269.20,649.3 269.30,593.2 269.40,645.1 269.50,655.6 269.60,648.0 269.70,679.7 269.80,674.0 269.90,699.7 270.00,699.7 270.05,699.7 270.05,442.3 270.10,442.3 270.20,462.3 270.30,463.2 270.40,491.2 270.50,482.8 270.60,508.6 270.70,523.3 270.80,518.5 270.90,554.5 271.00,597.3 271.10,602.8 271.20,601.6 271.30,583.9 271.40,634.9 271.50,641.1 271.60,617.4 271.70,625.0 271.80,699.7 271.90,699.7 272.00,699.7 272.05,699.7 272.05,442.3 272.10,451.6 272.20,480.4 272.30,514.7 272.40,442.3 272.50,497.0 272.60,483.9 272.70,511.9 272.80,529.5 272.90,597.1 273.00,561.1 273.10,577.9 273.20,591.3 273.30,625.4 273.40,649.5 273.50,632.2 273.60,631.0 273.70,635.2 273.80,667.6 273.90,699.7 274.00,699.7 274.05,699.7 274.05,442.3 274.10,465.4 274.20,483.3 274.30,508.0 274.40,478.3 274.50,522.0 274.60,516.4 274.70,518.4 274.80,563.0 274.90,564.4 275.00,585.5 275.10,556.1 275.20,613.4 275.30,644.9 275.40,599.4 275.50,691.4 275.60,613.6 275.70,648.7 275.80,662.9 275.90,675.0 276.00,695.7 276.05,699.7 276.05,442.3 276.10,442.3 276.20,520.0 276.30,480.2 276.40,510.7 276.50,538.7 276.60,533.4 276.70,523.4 276.80,520.0 276.90,555.0 277.00,568.6 277.10,522.9 277.20,552.0 277.30,597.9 277.40,607.8 277.50,595.5 277.60,589.2 277.70,631.9 277.80,632.5 277.90,618.6 278.00,686.2 278.10,657.9 278.20,676.8 278.30,699.7 278.40,687.3 278.50,683.8 278.55,699.7 278.55,442.3 278.60,463.0 278.70,478.4 278.80,445.3 278.90,482.0 279.00,516.6 279.10,500.0 279.20,500.3 279.30,531.1 279.40,579.8 279.50,560.9 279.60,583.6 279.70,532.0 279.80,596.0 279.90,547.6 280.00,597.9 280.10,607.2 280.20,613.2 280.30,592.1 280.40,664.3 280.50,659.6 280.60,667.4 280.70,662.3 280.80,694.4 280.90,688.1 281.00,681.5 281.05,699.7 281.05,442.3 281.10,466.2 281.20,442.3 281.30,483.2 281.40,499.1 281.50,493.4 281.60,528.4 281.70,523.3 281.80,560.6 281.90,587.2 282.00,565.2 282.10,568.8 282.20,599.8 282.30,591.4 282.40,633.8 282.50,588.2 282.60,655.9 282.70,650.8 282.80,676.6 282.90,691.8 283.00,699.7 283.05,699.7 283.05,442.3 283.10,442.3 283.20,477.9 283.30,503.4 283.40,477.8 283.50,494.8 283.60,550.2 283.70,533.4 283.80,537.1 283.90,573.9 284.00,623.9 284.10,610.6 284.20,641.7 284.30,668.7 284.40,649.1 284.50,653.8 284.60,699.7 284.70,699.7 284.75,699.7 284.75,442.3 284.80,478.0 284.90,461.8 285.00,500.0 285.10,533.7 285.20,480.0 285.30,533.0 285.40,510.2 285.50,552.1 285.60,593.7 285.70,620.7 285.80,636.3 285.90,621.9 286.00,625.6 286.10,610.6 286.20,687.1 286.30,669.9 286.40,667.5 286.50,666.6 286.55,699.7 286.55,442.3 286.60,442.3 286.70,442.3 286.80,445.3 286.90,500.3 287.00,472.3 287.10,511.5 287.20,442.3 287.30,469.5 287.40,503.8 287.50,514.3 287.60,520.2 287.70,504.8 287.80,533.3 287.90,535.6 288.00,560.4 288.10,531.2 288.20,534.8 288.30,582.7 288.40,548.2 288.50,574.2 288.60,555.1 288.70,558.7 288.80,601.9 288.90,581.1 289.00,575.4 289.10,638.6 289.20,614.6 289.30,647.7 289.40,613.2 289.50,675.9 289.60,619.5 289.70,656.1 289.80,637.8 289.90,609.8 290.00,667.4 290.10,697.1 290.20,699.7 290.30,668.3 290.40,699.7 290.50,699.7 290.55,699.7 290.55,442.3 290.60,442.3 290.70,442.3 290.80,442.3 290.90,442.3 291.00,442.3 291.10,442.3 291.20,445.9 291.30,449.8 291.40,450.6 291.50,442.3 291.60,462.5 291.70,505.1 291.80,513.4 291.90,499.4 292.00,475.2 292.10,516.1 292.20,486.2 292.30,476.3 292.40,456.6 292.50,510.1 292.60,512.9 292.70,523.6 292.80,524.3 292.90,506.6 293.00,462.4 293.10,581.4 293.20,504.1 293.30,500.0 293.40,474.8 293.50,479.3 293.60,505.4 293.70,557.9 293.80,538.7 293.90,529.4 294.00,542.3 294.10,506.8 294.20,540.2 294.30,557.8 294.40,533.3 294.50,513.8 294.60,550.4 294.70,564.4 294.80,561.0 294.90,541.3 295.00,537.8 295.10,563.8 295.20,568.4 295.30,533.0 295.40,498.6 295.50,490.8 295.60,498.9 295.70,575.6 295.80,557.1 295.90,565.6 296.00,577.5 296.10,581.4 296.20,570.2 296.30,560.1 296.40,541.2 296.50,542.9 296.60,585.4 296.70,587.7 296.80,559.6 296.90,568.0 297.00,598.8 297.10,587.7 297.20,636.0 297.30,586.4 297.40,625.4 297.50,590.6 297.60,671.9 297.70,602.5 297.80,635.7 297.90,621.1 298.00,607.5 298.10,629.0 298.20,574.2 298.30,592.4 298.40,628.5 298.50,578.5 298.60,624.4 298.70,620.4 298.80,583.6 298.90,582.4 299.00,631.0 299.10,615.0 299.20,638.5 299.30,613.3 299.40,646.7 299.50,613.9 299.60,686.1 299.70,637.9 299.80,620.1 299.90,647.1 300.00,695.8 300.10,651.2 300.20,686.1 300.30,673.2 300.40,661.5 300.50,622.1 300.60,672.6 300.70,699.7 300.80,629.4 300.90,682.8 301.00,694.1 301.10,686.7 301.20,690.0 301.30,653.4 301.40,699.7 301.50,699.7 301.60,674.3 301.70,692.1 301.80,699.7 301.90,699.7 302.00,681.2 302.05,699.7 302.05,442.3 302.10,467.7 302.20,442.3 302.30,528.6 302.40,471.6 302.50,474.8 302.60,456.9 302.70,503.3 302.80,530.4 302.90,516.9 303.00,540.4 303.10,536.8 303.20,598.8 303.30,557.4 303.40,562.1 303.50,569.3 303.60,582.4 303.70,545.7 303.80,550.3 303.90,580.6 304.00,613.2 304.10,588.7 304.20,628.3 304.30,649.6 304.40,662.4 304.50,659.9 304.60,628.9 304.70,641.5 304.80,652.4 304.90,681.8 305.00,699.7 305.05,699.7 305.05,442.3 305.10,442.3 305.20,447.5 305.30,464.3 305.40,442.3 305.50,492.1 305.60,489.5 305.70,487.1 305.80,473.7 305.90,465.1 306.00,445.3 306.10,444.6 306.20,479.5 306.30,484.7 306.40,470.5 306.50,449.0 306.60,465.9 306.70,462.6 306.80,458.0 306.90,473.1 307.00,483.9 307.10,537.4 307.20,501.8 307.30,522.8 307.40,513.0 307.50,504.0 307.60,481.6 307.70,475.1 307.80,523.2 307.90,491.4 308.00,491.1 308.10,555.3 308.20,502.2 308.30,513.7 308.40,559.0 308.50,513.0 308.60,501.0 308.70,501.2 308.80,534.2 308.90,505.5 309.00,500.3 309.10,512.7 309.20,565.8 309.30,511.1 309.40,548.7 309.50,550.8 309.60,508.3 309.70,505.7 309.80,505.9 309.90,617.6 310.00,514.0 310.10,603.3 310.20,539.0 310.30,586.1 310.40,550.6 310.50,534.2 310.60,538.9 310.70,573.0 310.80,633.4 310.90,585.6 311.00,586.5 311.10,574.5 311.20,553.9 311.30,599.0 311.40,562.5 311.50,605.3 311.60,601.1 311.70,578.6 311.80,570.9 311.90,569.0 312.00,608.5 312.10,579.8 312.20,625.5 312.30,547.5 312.40,586.0 312.50,602.8 312.60,628.7 312.70,623.7 312.80,607.4 312.90,631.3 313.00,614.1 313.10,641.1 313.20,638.4 313.30,597.4 313.40,648.2 313.50,637.5 313.60,652.7 313.70,617.8 313.80,657.9 313.90,644.5 314.00,637.6 314.10,648.6 314.20,629.1 314.30,639.1 314.40,643.6 314.50,663.5 314.60,658.2 314.70,675.3 314.80,675.1 314.90,683.6 315.00,625.2 315.10,641.7 315.20,693.1 315.30,670.5 315.40,649.2 315.50,676.4 315.60,633.7 315.70,699.7 315.80,676.1 315.90,699.7 316.00,653.4 316.10,699.7 316.20,683.4 316.30,665.8 316.40,695.5 316.50,699.7 316.55,699.7 316.55,442.3 316.60,457.5 316.70,442.3 316.80,442.3 316.90,461.6 317.00,442.3 317.10,470.5 317.20,514.9 317.30,478.9 317.40,485.7 317.50,461.9 317.60,462.9 317.70,494.8 317.80,498.2 317.90,487.0 318.00,545.8 318.10,474.9 318.20,468.4 318.30,494.2 318.40,533.5 318.50,506.1 318.60,525.5 318.70,524.3 318.80,471.2 318.90,520.9 319.00,534.5 319.10,505.4 319.20,558.8 319.30,485.4 319.40,520.6 319.50,527.0 319.60,527.6 319.70,574.2 319.80,528.5 319.90,533.3 320.00,547.3 320.10,571.5 320.20,556.8 320.30,522.6 320.40,578.6 320.50,553.5 320.60,544.9 320.70,599.3 320.80,583.8 320.90,568.0 321.00,547.6 321.10,573.8 321.20,599.5 321.30,588.6 321.40,633.7 321.50,581.9 321.60,599.1 321.70,606.3 321.80,601.7 321.90,601.9 322.00,634.3 322.10,561.2 322.20,641.6 322.30,615.7 322.40,620.9 322.50,664.8 322.60,634.7 322.70,655.6 322.80,668.1 322.90,682.0 323.00,643.1 323.10,621.1 323.20,628.5 323.30,653.4 323.40,644.0 323.50,699.7 323.60,651.9 323.70,676.6 323.80,650.5 323.90,651.5 324.00,670.8 324.10,681.2 324.20,684.3 324.30,637.9 324.40,692.9 324.50,678.3 324.60,669.0 324.70,660.0 324.80,699.7 324.90,696.1 325.00,699.7 325.05,699.7 325.05,442.3 325.10,454.8 325.20,442.3 325.30,491.5 325.40,446.4 325.50,454.6 325.60,442.3 325.70,454.2 325.80,450.6 325.90,464.0 326.00,442.3 326.10,442.7 326.20,454.1 326.30,539.4 326.40,448.2 326.50,481.1 326.60,451.6 326.70,459.6 326.80,455.5 326.90,479.4 327.00,467.4 327.10,477.7 327.20,510.8 327.30,467.1 327.40,496.6 327.50,477.9 327.60,457.6 327.70,451.9 327.80,471.5 327.90,478.3 328.00,486.7 328.10,507.3 328.20,477.6 328.30,482.2 328.40,505.2 328.50,480.7 328.60,521.7 328.70,486.5 328.80,512.7 328.90,518.2 329.00,519.3 329.10,513.1 329.20,525.2 329.30,502.7 329.40,502.3 329.50,442.3 329.60,548.3 329.70,518.4 329.80,492.0 329.90,477.5 330.00,513.1 330.10,493.0 330.20,524.9 330.30,499.2 330.40,531.5 330.50,550.8 330.60,518.6 330.70,529.0 330.80,525.0 330.90,537.4 331.00,563.0 331.10,539.0 331.20,544.9 331.30,561.0 331.40,554.0 331.50,538.0 331.60,537.1 331.70,560.0 331.80,566.1 331.90,558.0 332.00,561.8 332.10,550.4 332.20,507.5 332.30,556.2 332.40,593.4 332.50,516.0 332.60,553.2 332.70,563.9 332.80,544.0 332.90,568.1 333.00,518.8 333.10,560.5 333.20,561.4 333.30,571.5 333.40,554.2 333.50,570.7 333.60,575.8 333.70,571.5 333.80,589.1 333.90,552.0 334.00,541.2 334.10,597.3 334.20,584.6 334.30,565.4 334.40,607.3 334.50,596.4 334.60,568.5 334.70,579.4 334.80,575.9 334.90,629.1 335.00,559.0 335.10,583.9 335.20,591.0 335.30,545.9 335.40,568.2 335.50,627.3 335.60,549.2 335.70,608.7 335.80,599.8 335.90,625.2 336.00,563.0 336.10,600.1 336.20,587.9 336.30,578.2 336.40,601.4 336.50,651.5 336.60,567.3 336.70,614.0 336.80,643.1 336.90,617.7 337.00,618.0 337.10,621.8 337.20,615.0 337.30,603.5 337.40,572.0 337.50,594.9 337.60,614.7 337.70,567.0 337.80,618.9 337.90,565.7 338.00,621.8 338.10,664.2 338.20,592.6 338.30,631.5 338.40,635.7 338.50,632.9 338.60,629.2 338.70,618.0 338.80,636.2 338.90,665.8 339.00,627.7 339.10,626.2 339.20,647.5 339.30,632.9 339.40,627.3 339.50,686.2 339.60,692.1 339.70,665.9 339.80,627.0 339.90,686.5 340.00,623.8 340.10,665.7 340.20,643.1 340.30,667.5 340.40,670.7 340.50,666.8 340.60,679.0 340.70,685.9 340.80,681.6 340.90,674.1 341.00,675.3 341.10,699.7 341.20,680.9 341.30,677.2 341.40,656.9 341.50,658.9 341.60,670.9 341.70,670.6 341.80,699.7 341.90,690.3 342.00,661.5 342.10,671.6 342.20,646.7 342.30,633.0 342.40,641.2 342.50,699.7 342.60,699.7 342.70,697.2 342.80,658.9 342.90,683.7 343.00,699.7 343.10,699.7 343.20,697.9 343.30,699.7 343.40,668.8 343.50,640.8 343.55,699.7 343.55,442.3 343.60,479.9 343.70,487.6 343.80,442.3 343.90,442.3 344.00,476.5 344.10,458.2 344.20,461.3 344.30,500.2 344.40,460.7 344.50,494.7 344.60,480.6 344.70,458.1 344.80,517.3 344.90,477.0 345.00,482.9 345.10,467.4 345.20,529.1 345.30,504.2 345.40,553.6 345.50,521.8 345.60,492.0 345.70,483.5 345.80,516.8 345.90,561.2 346.00,579.7 346.10,535.3 346.20,563.9 346.30,542.2 346.40,555.3 346.50,559.9 346.60,525.2 346.70,602.7 346.80,577.0 346.90,556.5 347.00,542.7 347.10,609.6 347.20,618.5 347.30,605.2 347.40,639.3 347.50,630.1 347.60,570.7 347.70,630.2 347.80,645.7 347.90,628.0 348.00,618.2 348.10,644.9 348.20,629.4 348.30,611.5 348.40,619.9 348.50,647.6 348.60,616.3 348.70,610.5 348.80,639.9 348.90,699.7 349.00,638.3 349.10,672.7 349.20,645.9 349.30,688.1 349.40,694.1 349.50,696.6 349.60,697.3 349.70,648.5 349.80,699.7 349.90,699.7 350.00,697.7 350.05,699.7 350.05,442.3 350.10,475.4 350.20,464.9 350.30,479.6 350.40,442.3 350.50,497.8 350.60,469.6 350.70,465.4 350.80,444.1 350.90,457.6 351.00,474.0 351.10,507.7 351.20,442.3 351.30,458.1 351.40,484.2 351.50,533.9 351.60,514.9 351.70,534.4 351.80,539.6 351.90,535.0 352.00,556.5 352.10,555.2 352.20,540.3 352.30,539.1 352.40,583.4 352.50,546.4 352.60,504.8 352.70,552.1 352.80,564.1 352.90,568.3 353.00,504.8 353.10,541.7 353.20,544.7 353.30,554.7 353.40,571.1 353.50,528.6 353.60,584.2 353.70,634.3 353.80,573.1 353.90,567.4 354.00,586.7 354.10,581.4 354.20,588.1 354.30,594.0 354.40,556.2 354.50,573.3 354.60,598.3 354.70,611.6 354.80,630.3 354.90,650.8 355.00,657.9 355.10,659.6 355.20,640.9 355.30,645.3 355.40,626.0 355.50,642.4 355.60,698.1 355.70,694.9 355.80,673.6 355.90,600.9 356.00,674.8 356.10,654.7 356.20,665.6 356.30,687.2 356.40,662.0 356.50,699.7 356.60,699.7 356.70,699.7 356.80,685.1 356.90,647.8 357.00,699.7 357.05,699.7 357.05,442.3 357.10,474.7 357.20,477.1 357.30,453.6 357.40,460.7 357.50,450.4 357.60,477.5 357.70,481.8 357.80,442.3 357.90,442.3 358.00,456.6 358.10,497.3 358.20,448.4 358.30,442.3 358.40,506.6 358.50,466.6 358.60,493.1 358.70,481.5 358.80,488.1 358.90,482.3 359.00,515.1 359.10,498.6 359.20,520.4 359.30,501.6 359.40,510.1 359.50,531.6 359.60,519.7 359.70,532.7 359.80,516.2 359.90,521.2 360.00,522.5 360.10,585.3 360.20,540.1 360.30,554.3 360.40,555.0 360.50,522.3 360.60,529.0 360.70,548.0 360.80,517.9 360.90,525.1 361.00,549.6 361.10,537.1 361.20,520.9 361.30,590.2 361.40,597.4 361.50,594.5 361.60,583.4 361.70,578.4 361.80,550.5 361.90,597.9 362.00,550.5 362.10,556.2 362.20,559.0 362.30,592.6 362.40,614.7 362.50,569.2 362.60,590.8 362.70,609.7 362.80,586.2 362.90,601.6 363.00,630.3 363.10,604.2 363.20,614.6 363.30,626.1 363.40,614.5 363.50,646.1 363.60,629.0 363.70,646.1 363.80,618.9 363.90,636.4 364.00,647.1 364.10,624.4 364.20,661.6 364.30,668.6 364.40,628.2 364.50,677.8 364.60,626.3 364.70,638.8 364.80,672.6 364.90,682.9 365.00,622.2 365.10,671.1 365.20,683.5 365.30,691.0 365.40,699.7 365.50,633.5 365.60,671.4 365.70,686.2 365.80,699.7 365.90,699.7 366.00,675.7 366.05,699.7 366.05,442.3 366.10,495.9 366.20,468.0 366.30,478.3 366.40,497.8 366.50,452.1 366.60,490.5 366.70,456.1 366.80,463.3 366.90,518.6 367.00,477.4 367.10,501.5 367.20,519.6 367.30,492.5 367.40,521.6 367.50,529.5 367.60,572.7 367.70,525.0 367.80,558.1 367.90,530.9 368.00,570.8 368.10,549.5 368.20,575.0 368.30,569.6 368.40,639.0 368.50,598.0 368.60,609.9 368.70,616.9 368.80,644.0 368.90,667.9 369.00,616.3 369.10,638.6 369.20,640.8 369.30,628.3 369.40,670.9 369.50,632.9 369.60,654.9 369.70,670.1 369.80,680.4 369.90,648.4 370.00,684.9 370.05,699.7 370.05,442.3 370.10,442.3 370.20,477.6 370.30,454.3 370.40,496.7 370.50,497.1 370.60,481.2 370.70,505.3 370.80,549.5 370.90,540.7 371.00,538.6 371.10,520.9 371.20,554.8 371.30,527.2 371.40,557.2 371.50,590.8 371.60,540.1 371.70,587.9 371.80,604.4 371.90,617.4 372.00,612.6 372.10,629.3 372.20,622.6 372.30,619.2 372.40,642.1 372.50,669.5 372.60,639.2 372.70,676.4 372.80,670.2 372.90,699.7 373.00,672.0 373.05,699.7 373.05,442.3 373.10,456.0 373.20,442.3 373.30,472.1 373.40,452.3 373.50,442.3 373.60,442.3 373.70,447.4 373.80,442.3 373.90,504.7 374.00,475.6 374.10,467.3 374.20,510.4 374.30,479.9 374.40,465.2 374.50,451.9 374.60,479.3 374.70,448.6 374.80,442.3 374.90,483.0 375.00,467.8 375.10,470.4 375.20,456.5 375.30,535.8 375.40,482.9 375.50,505.6 375.60,524.2 375.70,525.4 375.80,509.6 375.90,493.5 376.00,518.6 376.10,540.7 376.20,514.8 376.30,482.8 376.40,535.4 376.50,502.5 376.60,491.9 376.70,522.9 376.80,538.8 376.90,545.2 377.00,498.8 377.10,514.6 377.20,532.4 377.30,528.6 377.40,549.7 377.50,541.3 377.60,506.1 377.70,529.3 377.80,533.1 377.90,531.3 378.00,560.0 378.10,544.2 378.20,577.2 378.30,605.6 378.40,559.8 378.50,570.3 378.60,575.5 378.70,595.1 378.80,574.1 378.90,575.5 379.00,590.9 379.10,590.3 379.20,603.2 379.30,591.6 379.40,565.6 379.50,604.7 379.60,569.7 379.70,615.2 379.80,605.1 379.90,530.8 380.00,624.3 380.10,577.0 380.20,616.4 380.30,594.7 380.40,591.8 380.50,586.1 380.60,608.7 380.70,621.3 380.80,560.5 380.90,599.3 381.00,601.5 381.10,633.9 381.20,642.1 381.30,609.1 381.40,592.9 381.50,637.3 381.60,651.4 381.70,610.7 381.80,644.1 381.90,625.0 382.00,658.3 382.10,638.9 382.20,657.1 382.30,651.0 382.40,661.4 382.50,641.7 382.60,655.9 382.70,645.9 382.80,663.6 382.90,632.6 383.00,672.0 383.10,666.6 383.20,640.5 383.30,661.4 383.40,680.9 383.50,679.6 383.60,686.9 383.70,651.6 383.80,674.5 383.90,677.6 384.00,699.7 384.10,663.6 384.20,665.2 384.30,660.3 384.40,699.7 384.50,665.6 384.60,699.7 384.70,686.2 384.80,693.2 384.90,681.2 385.00,699.7 385.05,699.7 385.05,442.3 385.10,444.9 385.20,442.3 385.30,442.3 385.40,459.9 385.50,449.1 385.60,442.3 385.70,472.7 385.80,474.2 385.90,471.2 386.00,446.8 386.10,484.3 386.20,475.6 386.30,491.8 386.40,483.3 386.50,453.7 386.60,478.7 386.70,484.5 386.80,507.9 386.90,515.9 387.00,486.8 387.10,483.4 387.20,527.6 387.30,521.2 387.40,527.8 387.50,528.8 387.60,507.6 387.70,551.5 387.80,508.9 387.90,503.0 388.00,566.6 388.10,539.0 388.20,549.1 388.30,568.8 388.40,510.3 388.50,522.7 388.60,568.5 388.70,570.7 388.80,559.2 388.90,539.4 389.00,546.5 389.10,567.6 389.20,599.9 389.30,614.1 389.40,584.1 389.50,572.5 389.60,570.1 389.70,560.0 389.80,595.8 389.90,600.6 390.00,576.3 390.10,607.3 390.20,589.9 390.30,661.5 390.40,587.6 390.50,610.7 390.60,612.7 390.70,604.1 390.80,625.2 390.90,662.5 391.00,643.0 391.10,600.4 391.20,643.3 391.30,643.5 391.40,657.7 391.50,653.5 391.60,666.5 391.70,680.2 391.80,660.0 391.90,677.4 392.00,690.9 392.10,644.6 392.20,677.3 392.30,668.4 392.40,644.2 392.50,644.5 392.60,696.4 392.70,679.2 392.80,691.9 392.90,699.7 393.00,692.3 393.05,699.7 393.05,442.3 393.10,455.5 393.20,462.3 393.30,449.7 393.40,446.4 393.50,442.3 393.60,460.4 393.70,442.3 393.80,472.8 393.90,475.5 394.00,453.2 394.10,490.8 394.20,463.5 394.30,461.6 394.40,492.3 394.50,497.3 394.60,485.0 394.70,478.0 394.80,502.7 394.90,503.8 395.00,532.0 395.10,495.0 395.20,487.2 395.30,487.4 395.40,511.7 395.50,500.5 395.60,482.2 395.70,500.5 395.80,516.6 395.90,522.0 396.00,514.7 396.10,520.6 396.20,536.3 396.30,512.5 396.40,537.5 396.50,523.9 396.60,551.3 396.70,518.2 396.80,544.2 396.90,563.0 397.00,569.1 397.10,517.2 397.20,548.3 397.30,539.7 397.40,574.5 397.50,571.7 397.60,579.3 397.70,564.4 397.80,580.5 397.90,572.2 398.00,605.1 398.10,535.9 398.20,612.8 398.30,490.8 398.40,585.3 398.50,566.0 398.60,598.1 398.70,576.6 398.80,595.0 398.90,632.1 399.00,630.7 399.10,639.4 399.20,596.2 399.30,623.2 399.40,622.6 399.50,621.1 399.60,629.5 399.70,631.1 399.80,651.1 399.90,659.1 400.00,629.5 400.10,635.6 400.20,644.7 400.30,632.9 400.40,639.5 400.50,643.8 400.60,626.2 400.70,699.7 400.80,652.2 400.90,699.7 401.00,648.9 401.10,653.6 401.20,676.5 401.30,677.1 401.40,662.9 401.50,691.1 401.60,688.3 401.70,669.1 401.80,699.7 401.90,685.8 402.00,686.4 402.05,699.7 402.05,442.3 402.10,442.3 402.20,442.3 402.30,486.6 402.40,442.3 402.50,481.4 402.60,519.2 402.70,460.9 402.80,468.1 402.90,466.0 403.00,462.7 403.10,446.0 403.20,462.8 403.30,518.5 403.40,481.1 403.50,485.5 403.60,501.6 403.70,501.5 403.80,509.0 403.90,493.8 404.00,532.3 404.10,568.3 404.20,523.9 404.30,543.8 404.40,535.3 404.50,517.3 404.60,560.2 404.70,538.2 404.80,567.3 404.90,568.7 405.00,564.8 405.10,573.8 405.20,549.5 405.30,584.4 405.40,568.9 405.50,573.0 405.60,580.1 405.70,561.7 405.80,558.2 405.90,571.0 406.00,562.7 406.10,591.0 406.20,570.8 406.30,581.2 406.40,600.7 406.50,582.0 406.60,627.1 406.70,633.4 406.80,641.9 406.90,613.7 407.00,649.9 407.10,611.1 407.20,657.4 407.30,643.3 407.40,640.0 407.50,633.0 407.60,661.4 407.70,638.2 407.80,637.6 407.90,658.8 408.00,697.4 408.10,644.9 408.20,677.0 408.30,687.0 408.40,674.0 408.50,699.7 408.60,666.8 408.70,699.7 408.80,683.3 408.90,693.8 409.00,699.7 409.05,699.7 409.05,442.3 409.10,442.3 409.20,444.6 409.30,460.3 409.40,460.1 409.50,461.5 409.60,484.8 409.70,496.4 409.80,484.1 409.90,520.8 410.00,514.0 410.10,486.2 410.20,491.2 410.30,511.9 410.40,502.7 410.50,522.5 410.60,538.8 410.70,518.5 410.80,535.1 410.90,539.5 411.00,547.6 411.10,506.8 411.20,544.1 411.30,542.4 411.40,568.7 411.50,560.3 411.60,588.2 411.70,587.0 411.80,589.1 411.90,591.9 412.00,564.3 412.10,614.9 412.20,589.3 412.30,606.3 412.40,613.9 412.50,582.8 412.60,630.1 412.70,663.6 412.80,616.2 412.90,629.9 413.00,676.4 413.10,641.2 413.20,676.1 413.30,665.1 413.40,644.7 413.50,691.0 413.60,682.4 413.70,659.6 413.80,689.8 413.90,699.7 414.00,683.4 414.05,699.7 414.05,442.3 414.10,442.3 414.20,442.3 414.30,442.3 414.40,494.7 414.50,499.8 414.60,486.3 414.70,511.4 414.80,503.5 414.90,517.5 415.00,487.5 415.10,486.6 415.20,522.1 415.30,476.2 415.40,491.4 415.50,541.1 415.60,539.4 415.70,542.9 415.80,534.4 415.90,539.6 416.00,554.7 416.10,557.4 416.20,563.7 416.30,562.0 416.40,590.7 416.50,583.2 416.60,606.1 416.70,595.6 416.80,607.2 416.90,605.6 417.00,645.3 417.10,643.7 417.20,595.1 417.30,625.0 417.40,650.3 417.50,633.2 417.60,609.7 417.70,632.4 417.80,677.1 417.90,677.1 418.00,699.7 418.10,694.1 418.20,664.7 418.30,661.2 418.40,691.4 418.50,699.7 418.55,699.7 418.55,442.3 418.60,488.6 418.70,450.0 418.80,459.8 418.90,467.0 419.00,470.6 419.10,443.0 419.20,486.9 419.30,482.6 419.40,482.4 419.50,472.2 419.60,506.7 419.70,513.3 419.80,505.4 419.90,522.0 420.00,545.1 420.10,534.3 420.20,541.9 420.30,559.1 420.40,575.7 420.50,570.3 420.60,571.2 420.70,554.9 420.80,553.9 420.90,625.6 421.00,582.5 421.10,593.7 421.20,594.7 421.30,591.9 421.40,622.3 421.50,658.9 421.60,613.4 421.70,628.1 421.80,620.1 421.90,629.3 422.00,647.7 422.10,637.3 422.20,658.2 422.30,653.1 422.40,678.9 422.50,666.4 422.60,671.7 422.70,693.4 422.80,687.5 422.90,665.9 423.00,699.7 423.05,699.7 423.05,442.3 423.10,472.7 423.20,442.3 423.30,442.3 423.40,479.4 423.50,485.7 423.60,492.0 423.70,519.2 423.80,510.0 423.90,538.7 424.00,582.9 424.10,561.6 424.20,561.0 424.30,545.4 424.40,588.6 424.50,607.9 424.60,605.9 424.70,619.3 424.80,636.9 424.90,617.9 425.00,641.2 425.10,671.6 425.20,666.5 425.30,664.7 425.40,699.7 425.50,699.7 425.55,699.7 425.55,442.3 425.60,457.0 425.70,472.1 425.80,489.7 425.90,491.7 426.00,516.7 426.10,474.0 426.20,510.5 426.30,515.0 426.40,545.4 426.50,536.9 426.60,598.5 426.70,578.0 426.80,570.7 426.90,597.1 427.00,597.5 427.10,641.6 427.20,622.4 427.30,622.5 427.40,629.1 427.50,649.8 427.60,670.1 427.70,648.5 427.80,694.4 427.90,699.5 428.00,699.7 428.05,699.7 428.05,442.3 428.10,449.7 428.20,455.1 428.30,486.3 428.40,474.8 428.50,486.2 428.60,525.1 428.70,506.9 428.80,539.3 428.90,513.5 429.00,518.8 429.10,576.4 429.20,599.7 429.30,590.5 429.40,592.1 429.50,599.0 429.60,614.1 429.70,596.4 429.80,623.6 429.90,629.3 430.00,678.2 430.10,652.5 430.20,675.5 430.30,678.2 430.40,690.8 430.50,680.8 430.55,699.7 430.55,442.3 430.60,474.5 430.70,454.6 430.80,504.4 430.90,477.4 431.00,494.4 431.10,481.6 431.20,516.3 431.30,518.2 431.40,547.6 431.50,542.3 431.60,555.0 431.70,569.0 431.80,581.0 431.90,583.4 432.00,612.6 432.10,607.5 432.20,599.6 432.30,615.0 432.40,630.8 432.50,675.9 432.60,677.6 432.70,692.5 432.80,688.4 432.90,693.5 433.00,690.1 433.05,699.7 433.05,442.3 433.10,461.1 433.20,472.5 433.30,458.4 433.40,489.7 433.50,522.2 433.60,500.1 433.70,531.2 433.80,524.1 433.90,519.4 434.00,536.7 434.10,566.9 434.20,570.1 434.30,590.2 434.40,569.4 434.50,585.8 434.60,605.3 434.70,607.6 434.80,610.1 434.90,645.1 435.00,639.2 435.10,634.4 435.20,673.7 435.30,660.0 435.40,681.2 435.50,699.7 435.55,699.7 435.55,442.3 435.60,454.8 435.70,484.8 435.80,463.5 435.90,497.6 436.00,495.7 436.10,507.9 436.20,484.6 436.30,514.2 436.40,532.8 436.50,518.1 436.60,567.4 436.70,553.3 436.80,569.0 436.90,581.7 437.00,582.7 437.10,618.9 437.20,590.3 437.30,618.9 437.40,628.1 437.50,640.8 437.60,653.8 437.70,621.2 437.80,678.0 437.90,699.7 438.00,699.7 438.05,699.7 438.05,442.3 438.10,497.5 438.20,454.4 438.30,479.8 438.40,484.7 438.50,504.1 438.60,492.9 438.70,481.5 438.80,537.8 438.90,518.1 439.00,533.9 439.10,543.3 439.20,561.4 439.30,560.5 439.40,565.9 439.50,602.0 439.60,646.7 439.70,608.7 439.80,635.0 439.90,615.2 440.00,655.4 440.10,653.5 440.20,699.7 440.30,672.8 440.40,685.6 440.50,677.3 440.55,699.7 440.55,442.3 440.60,445.1 440.70,453.5 440.80,465.8 440.90,512.3 441.00,477.3 441.10,499.4 441.20,509.1 441.30,515.4 441.40,541.8 441.50,547.1 441.60,553.5 441.70,558.1 441.80,555.4 441.90,580.1 442.00,586.9 442.10,617.9 442.20,586.6 442.30,605.5 442.40,623.3 442.50,665.3 442.60,647.7 442.70,685.9 442.80,683.5 442.90,698.3 443.00,699.7 443.05,699.7 443.05,442.3 443.10,449.7 443.20,442.3 443.30,489.6 443.40,477.5 443.50,505.6 443.60,522.2 443.70,526.9 443.80,536.4 443.90,568.4 444.00,589.3 444.10,592.9 444.20,641.2 444.30,656.4 444.40,634.4 444.50,632.5 444.60,652.3 444.70,668.7 444.80,686.2 444.90,699.7 445.00,699.7 445.05,699.7 445.05,442.3 445.10,449.6 445.20,459.6 445.30,459.9 445.40,456.3 445.50,494.4 445.60,506.3 445.70,466.9 445.80,511.0 445.90,511.2 446.00,500.0 446.10,517.2 446.20,503.1 446.30,526.2 446.40,520.7 446.50,535.3 446.60,536.8 446.70,558.0 446.80,566.9 446.90,560.8 447.00,585.9 447.10,557.7 447.20,584.8 447.30,595.0 447.40,572.2 447.50,611.5 447.60,620.2 447.70,606.7 447.80,625.1 447.90,628.3 448.00,632.0 448.10,630.4 448.20,653.1 448.30,635.4 448.40,671.6 448.50,663.8 448.60,678.5 448.70,658.8 448.80,697.7 448.90,654.2 449.00,699.7 449.05,699.7 449.05,442.3 449.10,442.3 449.20,446.9 449.30,447.0 449.40,453.7 449.50,486.5 449.60,493.4 449.70,479.5 449.80,479.5 449.90,502.2 450.00,487.9 450.10,476.5 450.20,500.2 450.30,497.9 450.40,523.8 450.50,482.9 450.60,523.3 450.70,526.1 450.80,530.8 450.90,543.4 451.00,543.1 451.10,545.1 451.20,570.3 451.30,548.0 451.40,556.0 451.50,574.9 451.60,593.1 451.70,585.4 451.80,600.8 451.90,560.7 452.00,576.0 452.10,597.0 452.20,609.6 452.30,594.6 452.40,604.9 452.50,591.4 452.60,655.4 452.70,621.8 452.80,658.4 452.90,609.1 453.00,677.5 453.10,669.0 453.20,671.7 453.30,668.0 453.40,672.5 453.50,656.8 453.60,680.0 453.70,680.9 453.80,683.1 453.90,699.7 454.00,678.9 454.05,699.7 454.05,442.3 454.10,464.1 454.20,442.3 454.30,442.3 454.40,473.5 454.50,442.3 454.60,453.6 454.70,459.8 454.80,466.4 454.90,469.4 455.00,466.9 455.10,462.3 455.20,518.6 455.30,457.5 455.40,487.0 455.50,488.0 455.60,507.5 455.70,509.3 455.80,497.3 455.90,524.6 456.00,534.3 456.10,505.8 456.20,517.3 456.30,531.6 456.40,499.5 456.50,527.8 456.60,528.6 456.70,540.1 456.80,541.5 456.90,558.8 457.00,527.0 457.10,578.7 457.20,567.2 457.30,592.2 457.40,570.7 457.50,565.4 457.60,571.4 457.70,565.5 457.80,589.2 457.90,575.9 458.00,599.3 458.10,604.8 458.20,596.1 458.30,583.8 458.40,635.2 458.50,620.3 458.60,623.6 458.70,606.7 458.80,624.1 458.90,615.9 459.00,604.6 459.10,622.9 459.20,630.7 459.30,648.4 459.40,663.0 459.50,648.8 459.60,620.5 459.70,668.2 459.80,655.0 459.90,673.9 460.00,654.3 460.10,648.0 460.20,689.6 460.30,672.3 460.40,680.2 460.50,688.0 460.60,699.7 460.70,682.0 460.80,685.9 460.90,669.6 461.00,699.7 461.05,699.7 461.05,442.3 461.10,450.6 461.20,474.1 461.30,481.1 461.40,449.0 461.50,473.5 461.60,507.3 461.70,516.5 461.80,521.2 461.90,508.3 462.00,526.1 462.10,554.6 462.20,584.3 462.30,580.6 462.40,557.6 462.50,610.1 462.60,610.4 462.70,647.5 462.80,618.4 462.90,635.0 463.00,617.7 463.10,690.3 463.20,685.4 463.30,695.8 463.40,675.7 463.50,698.5 463.55,699.7 463.55,442.3 463.60,475.8 463.70,458.1 463.80,529.8 463.90,471.8 464.00,490.7 464.10,544.4 464.20,545.9 464.30,570.3 464.40,554.5 464.50,563.3 464.60,597.8 464.70,571.4 464.80,615.0 464.90,611.2 465.00,627.2 465.10,642.3 465.20,653.5 465.30,676.9 465.40,698.9 465.50,699.7 465.55,699.7 465.55,442.3 465.60,450.1 465.70,442.3 465.80,442.3 465.90,451.1 466.00,461.8 466.10,465.6 466.20,466.0 466.30,488.8 466.40,489.1 466.50,470.4 466.60,463.5 466.70,461.2 466.80,476.8 466.90,498.4 467.00,475.0 467.10,490.2 467.20,503.3 467.30,473.6 467.40,506.9 467.50,489.6 467.60,517.5 467.70,516.4 467.80,518.7 467.90,522.5 468.00,527.0 468.10,525.7 468.20,513.5 468.30,535.2 468.40,552.5 468.50,575.9 468.60,535.4 468.70,524.1 468.80,571.6 468.90,552.2 469.00,532.4 469.10,572.9 469.20,573.9 469.30,557.0 469.40,584.7 469.50,596.5 469.60,585.3 469.70,634.2 469.80,605.0 469.90,581.6 470.00,602.0 470.10,605.0 470.20,604.2 470.30,613.7 470.40,621.8 470.50,617.4 470.60,638.4 470.70,616.0 470.80,626.4 470.90,618.8 471.00,637.8 471.10,609.7 471.20,638.6 471.30,649.0 471.40,629.6 471.50,662.8 471.60,629.7 471.70,622.9 471.80,675.0 471.90,682.9 472.00,659.8 472.10,658.1 472.20,662.5 472.30,690.5 472.40,698.8 472.50,699.7 472.60,681.4 472.70,699.7 472.80,699.7 472.90,692.4 473.00,689.4 473.05,699.7 473.05,442.3 473.10,444.8 473.20,463.9 473.30,451.9 473.40,504.6 473.50,472.4 473.60,472.8 473.70,491.9 473.80,506.6 473.90,509.1 474.00,486.9 474.10,525.0 474.20,554.1 474.30,525.0 474.40,555.9 474.50,542.8 474.60,556.5 474.70,554.1 474.80,577.9 474.90,556.6 475.00,562.7 475.10,574.4 475.20,580.0 475.30,586.1 475.40,603.9 475.50,605.2 475.60,602.0 475.70,622.1 475.80,641.6 475.90,666.9 476.00,631.1 476.10,624.1 476.20,646.7 476.30,656.6 476.40,673.5 476.50,671.9 476.60,663.3 476.70,652.2 476.80,677.6 476.90,691.1 477.00,678.7 477.05,699.7 477.05,442.3 477.10,442.3 477.20,502.8 477.30,490.9 477.40,522.7 477.50,542.1 477.60,517.7 477.70,535.5 477.80,549.6 477.90,548.4 478.00,571.9 478.10,580.2 478.20,591.6 478.30,622.5 478.40,590.0 478.50,621.6 478.60,649.6 478.70,654.6 478.80,683.4 478.90,682.2 479.00,693.8 479.05,699.7 479.05,442.3 479.10,461.6 479.20,472.1 479.30,442.3 479.40,488.9 479.50,465.4 479.60,505.2 479.70,510.0 479.80,500.4 479.90,539.7 480.00,499.6 480.10,525.3 480.20,545.2 480.30,524.6 480.40,571.4 480.50,548.6 480.60,577.4 480.70,577.8 480.80,598.4 480.90,614.0 481.00,619.3 481.10,606.9 481.20,630.9 481.30,644.9 481.40,657.7 481.50,685.7 481.60,645.9 481.70,670.5 481.80,699.7 481.90,695.4 482.00,696.3 482.05,699.7 482.05,442.3 482.10,454.8 482.20,453.1 482.30,455.6 482.40,451.1 482.50,460.3 482.60,451.4 482.70,453.9 482.80,467.8 482.90,470.7 483.00,482.3 483.10,468.6 483.20,459.3 483.30,482.4 483.40,483.0 483.50,479.1 483.60,510.7 483.70,504.7 483.80,493.0 483.90,507.1 484.00,496.5 484.10,516.3 484.20,493.7 484.30,513.8 484.40,535.1 484.50,550.1 484.60,519.5 484.70,545.4 484.80,549.3 484.90,560.6 485.00,573.6 485.10,539.6 485.20,566.0 485.30,562.2 485.40,580.0 485.50,583.5 485.60,574.0 485.70,581.4 485.80,564.6 485.90,573.5 486.00,580.2 486.10,565.7 486.20,590.9 486.30,609.6 486.40,588.3 486.50,580.1 486.60,613.5 486.70,591.7 486.80,607.9 486.90,621.6 487.00,648.1 487.10,637.6 487.20,643.6 487.30,621.0 487.40,651.8 487.50,629.3 487.60,629.6 487.70,653.2 487.80,659.9 487.90,669.5 488.00,659.8 488.10,669.0 488.20,670.8 488.30,678.2 488.40,677.5 488.50,654.6 488.60,684.2 488.70,697.9 488.80,699.7 488.90,688.2 489.00,699.7 489.05,699.7 489.05,442.3 489.10,445.8 489.20,454.9 489.30,472.8 489.40,498.7 489.50,479.4 489.60,516.6 489.70,479.9 489.80,518.2 489.90,514.9 490.00,517.4 490.10,535.7 490.20,514.5 490.30,547.8 490.40,542.0 490.50,545.6 490.60,536.7 490.70,552.3 490.80,550.7 490.90,567.9 491.00,615.0 491.10,587.4 491.20,606.5 491.30,605.9 491.40,614.5 491.50,605.9 491.60,655.7 491.70,631.8 491.80,647.8 491.90,671.5 492.00,663.8 492.10,662.6 492.20,675.5 492.30,681.7 492.40,697.4 492.50,692.3 492.55,699.7 492.55,442.3 492.60,450.3 492.70,476.8 492.80,448.4 492.90,505.6 493.00,481.0 493.10,520.4 493.20,534.7 493.30,526.9 493.40,559.4 493.50,578.3 493.60,581.9 493.70,569.5 493.80,618.2 493.90,584.2 494.00,606.8 494.10,619.1 494.20,638.1 494.30,669.6 494.40,675.4 494.50,674.8 494.60,682.0 494.65,699.7 494.65,442.3 494.70,442.3 494.80,462.5 494.90,481.6 495.00,453.7 495.10,518.3 495.20,514.6 495.30,544.9 495.40,525.0 495.50,561.9 495.60,559.4 495.70,560.3 495.80,630.8 495.90,623.4 496.00,651.3 496.10,655.5 496.20,668.9 496.30,674.6 496.40,657.5 496.50,690.0 496.55,699.7 496.55,442.3 496.60,442.3 496.70,442.3 496.80,467.0 496.90,484.4 497.00,477.9 497.10,502.9 497.20,533.9 497.30,562.4 497.40,555.7 497.50,557.7 497.60,581.5 497.70,574.8 497.80,571.7 497.90,595.8 498.00,655.4 498.10,639.3 498.20,659.7 498.30,646.0 498.40,663.3 498.50,683.7 498.60,697.8 498.65,699.7 498.65,442.3 498.70,458.6 498.80,484.2 498.90,483.5 499.00,510.8 499.10,517.8 499.20,512.4 499.30,546.1 499.40,547.2 499.50,569.1 499.60,598.4 499.70,593.4 499.80,622.5 499.90,626.3 500.00,648.2 500.10,647.3 500.20,669.8 500.30,693.2 500.35,699.7 500.35,442.3 500.40,457.3 500.50,442.3 500.60,472.6 500.70,479.3 500.80,492.4 500.90,508.7 501.00,533.2 501.10,533.3 501.20,551.6 501.30,537.0 501.40,532.4 501.50,581.6 501.60,583.2 501.70,585.6 501.80,619.7 501.90,627.4 502.00,639.7 502.10,622.8 502.20,645.5 502.30,676.1 502.40,675.4 502.50,687.1 502.55,699.7 502.55,442.3 502.60,442.3 502.70,482.8 502.80,475.0 502.90,487.5 503.00,499.2 503.10,520.6 503.20,546.0 503.30,559.7 503.40,560.3 503.50,550.3 503.60,613.5 503.70,605.7 503.80,620.8 503.90,653.7 504.00,699.7 504.10,677.5 504.15,699.7 504.15,442.3 504.20,449.2 504.30,466.8 504.40,468.0 504.50,501.3 504.60,518.3 504.70,508.6 504.80,523.7 504.90,537.8 505.00,561.0 505.10,581.3 505.20,590.1 505.30,598.6 505.40,608.3 505.50,636.1 505.60,648.1 505.70,679.7 505.80,676.1 505.85,699.7 505.85,442.3 505.90,442.3 506.00,442.3 506.10,473.0 506.20,511.0 506.30,512.8 506.40,511.8 506.50,543.2 506.60,552.0 506.70,533.2 506.80,588.5 506.90,602.2 507.00,597.6 507.10,611.6 507.20,597.0 507.30,633.3 507.40,644.8 507.50,660.9 507.60,697.8 507.70,699.7 507.75,699.7 507.75,442.3 507.80,466.7 507.90,461.1 508.00,490.9 508.10,470.5 508.20,491.7 508.30,495.7 508.40,505.5 508.50,523.5 508.60,556.8 508.70,557.4 508.80,555.7 508.90,587.7 509.00,583.5 509.10,606.8 509.20,594.7 509.30,607.5 509.40,622.7 509.50,628.5 509.60,633.0 509.70,656.2 509.80,664.0 509.90,666.8 510.00,685.8 510.05,699.7 510.05,442.3 510.10,442.3 510.20,465.3 510.30,488.8 510.40,512.4 510.50,516.7 510.60,540.7 510.70,568.6 510.80,570.5 510.90,588.8 511.00,622.2 511.10,654.3 511.20,659.3 511.30,683.6 511.35,699.7 511.35,442.3 511.40,442.3 511.50,460.7 511.60,464.5 511.70,507.0 511.80,509.3 511.90,528.5 512.00,536.3 512.10,565.1 512.20,581.5 512.30,605.3 512.40,604.1 512.50,598.3 512.60,615.2 512.70,657.0 512.80,668.0 512.90,678.9 512.95,699.7 512.95,442.3 513.00,462.3 513.10,444.9 513.20,447.5 513.30,477.2 513.40,509.2 513.50,516.1 513.60,502.3 513.70,524.6 513.80,533.0 513.90,534.7 514.00,553.3 514.10,569.1 514.20,580.3 514.30,609.8 514.40,583.2 514.50,593.5 514.60,626.4 514.70,627.2 514.80,653.3 514.90,646.0 515.00,665.3 515.10,682.3 515.20,695.0 515.30,685.3 515.35,699.7 515.35,442.3 515.40,453.0 515.50,458.5 515.60,486.5 515.70,455.5 515.80,495.6 515.90,527.7 516.00,507.5 516.10,549.6 516.20,533.1 516.30,546.8 516.40,547.8 516.50,586.2 516.60,613.5 516.70,600.4 516.80,608.2 516.90,626.6 517.00,640.8 517.10,632.7 517.20,652.3 517.30,688.0 517.40,684.7 517.45,699.7 517.45,442.3 517.50,458.9 517.60,459.7 517.70,490.7 517.80,492.4 517.90,507.8 518.00,529.0 518.10,519.9 518.20,528.6 518.30,551.0 518.40,575.0 518.50,550.0 518.60,583.2 518.70,599.4 518.80,613.0 518.90,606.7 519.00,644.8 519.10,643.4 519.20,672.4 519.30,656.1 519.40,692.1 519.50,699.7 519.55,699.7 519.55,442.3 519.60,452.6 519.70,486.5 519.80,513.9 519.90,549.2 520.00,566.2 520.10,632.6 520.20,649.1 520.30,678.3 520.35,699.7 520.35,442.3 520.40,442.3 520.50,442.3 520.60,449.5 520.70,463.7 520.80,460.4 520.90,490.3 521.00,488.3 521.10,505.6 521.20,490.5 521.30,522.7 521.40,531.0 521.50,523.3 521.60,534.9 521.70,557.1 521.80,550.3 521.90,543.2 522.00,565.0 522.10,588.9 522.20,583.4 522.30,601.9 522.40,606.9 522.50,592.6 522.60,604.5 522.70,601.6 522.80,635.3 522.90,635.5 523.00,653.8 523.10,636.6 523.20,666.5 523.30,674.6 523.40,684.2 523.50,670.4 523.60,680.9 523.70,690.6 523.80,684.1 523.85,699.7 523.85,442.3 523.90,452.5 524.00,474.5 524.10,451.5 524.20,496.9 524.30,508.0 524.40,497.2 524.50,523.9 524.60,532.8 524.70,567.1 524.80,569.0 524.90,582.7 525.00,579.0 525.10,599.1 525.20,601.9 525.30,628.6 525.40,634.6 525.50,638.8 525.60,669.8 525.70,678.6 525.80,665.4 525.90,697.2 525.95,699.7 525.95,442.3 526.00,442.3 526.10,450.6 526.20,465.9 526.30,490.3 526.40,498.2 526.50,515.9 526.60,548.5 526.70,551.9 526.80,564.5 526.90,564.4 527.00,591.7 527.10,633.3 527.20,615.1 527.30,634.9 527.40,639.4 527.50,657.3 527.60,690.5 527.70,699.7 527.75,699.7 527.75,442.3 527.80,452.8 527.90,465.1 528.00,463.3 528.10,478.2 528.20,482.2 528.30,482.1 528.40,500.9 528.50,512.2 528.60,508.3 528.70,512.1 528.80,525.4 528.90,560.1 529.00,548.3 529.10,561.8 529.20,555.7 529.30,606.9 529.40,586.1 529.50,593.5 529.60,597.3 529.70,615.9 529.80,625.1 529.90,628.0 530.00,656.2 530.10,645.4 530.20,675.1 530.30,674.8 530.40,662.9 530.50,676.9 530.60,685.6 530.70,685.4 530.75,699.7 530.75,442.3 530.80,453.1 530.90,470.7 531.00,500.8 531.10,516.1 531.20,507.4 531.30,550.3 531.40,545.8 531.50,569.2 531.60,571.0 531.70,616.1 531.80,610.4 531.90,647.4 532.00,661.3 532.10,652.1 532.20,670.0 532.25,699.7 532.25,442.3 532.30,442.9 532.40,442.3 532.50,455.7 532.60,471.7 532.70,466.9 532.80,502.9 532.90,511.3 533.00,538.3 533.10,510.0 533.20,531.7 533.30,535.2 533.40,538.1 533.50,547.4 533.60,548.0 533.70,564.2 533.80,557.3 533.90,602.1 534.00,577.6 534.10,585.1 534.20,610.5 534.30,596.3 534.40,625.7 534.50,604.3 534.60,623.0 534.70,642.8 534.80,656.0 534.90,658.4 535.00,670.1 535.10,681.6 535.20,686.0 535.25,699.7 535.25,442.3 535.30,442.3 535.40,453.7 535.50,471.9 535.60,446.6 535.70,479.2 535.80,484.0 535.90,503.2 536.00,519.3 536.10,510.1 536.20,517.2 536.30,547.7 536.40,560.7 536.50,560.4 536.60,568.2 536.70,588.1 536.80,581.0 536.90,599.8 537.00,624.1 537.10,624.7 537.20,631.9 537.30,641.5 537.40,659.6 537.50,655.3 537.60,685.1 537.70,677.9 537.80,694.9 537.85,699.7 537.85,442.3 537.90,457.7 538.00,464.0 538.10,483.3 538.20,492.8 538.30,501.9 538.40,489.3 538.50,503.0 538.60,525.1 538.70,527.8 538.80,542.5 538.90,528.0 539.00,557.6 539.10,555.6 539.20,560.8 539.30,567.6 539.40,570.8 539.50,595.9 539.60,621.5 539.70,604.8 539.80,613.1 539.90,650.2 540.00,639.8 540.10,643.9 540.20,661.3 540.30,666.3 540.40,691.4 540.50,695.1 540.60,699.7 540.65,699.7 540.65,442.3 540.70,442.3 540.80,456.7 540.90,472.5 541.00,489.9 541.10,489.6 541.20,500.5 541.30,516.0 541.40,537.9 541.50,546.7 541.60,564.4 541.70,578.8 541.80,565.6 541.90,587.8 542.00,586.8 542.10,605.2 542.20,617.8 542.30,630.0 542.40,637.5 542.50,627.1 542.60,653.1 542.70,679.7 542.80,668.7 542.90,698.7 542.95,699.7 542.95,442.3 543.00,466.4 543.10,491.5 543.20,507.4 543.30,498.0 543.40,514.4 543.50,552.3 543.60,560.9 543.70,592.1 543.80,596.1 543.90,601.9 544.00,626.2 544.10,652.8 544.20,676.5 544.30,682.4 544.35,699.7 544.35,442.3 544.40,442.3 544.50,457.2 544.60,462.8 544.70,460.0 544.80,477.4 544.90,501.9 545.00,482.8 545.10,506.3 545.20,535.1 545.30,509.7 545.40,514.6 545.50,535.8 545.60,555.5 545.70,570.0 545.80,571.7 545.90,598.1 546.00,578.2 546.10,586.9 546.20,613.3 546.30,591.2 546.40,609.4 546.50,610.7 546.60,630.3 546.70,631.2 546.80,649.8 546.90,674.5 547.00,670.6 547.10,695.1 547.20,699.7 547.30,699.3 547.35,699.7 547.35,442.3 547.40,462.9 547.50,475.2 547.60,462.3 547.70,480.7 547.80,489.9 547.90,495.5 548.00,522.4 548.10,515.1 548.20,535.9 548.30,531.0 548.40,541.4 548.50,553.8 548.60,546.6 548.70,571.6 548.80,576.8 548.90,590.2 549.00,597.6 549.10,596.7 549.20,596.8 549.30,626.8 549.40,641.7 549.50,651.5 549.60,659.4 549.70,652.7 549.80,683.4 549.90,699.7 550.00,699.7 550.05,699.7 550.05,442.3 550.10,455.7 550.20,469.9 550.30,490.8 550.40,506.2 550.50,521.1 550.60,547.4 550.70,555.4 550.80,584.3 550.90,592.8 551.00,578.2 551.10,617.6 551.20,638.4 551.30,659.0 551.40,674.0 551.50,675.6 551.55,699.7 551.55,442.3 551.60,455.4 551.70,452.2 551.80,462.1 551.90,451.7 552.00,465.2 552.10,486.7 552.20,508.3 552.30,482.8 552.40,482.4 552.50,511.7 552.60,493.4 552.70,536.0 552.80,541.5 552.90,553.5 553.00,530.1 553.10,549.3 553.20,541.9 553.30,592.8 553.40,555.8 553.50,569.2 553.60,556.2 553.70,576.4 553.80,608.1 553.90,575.0 554.00,601.2 554.10,592.8 554.20,627.6 554.30,617.0 554.40,616.0 554.50,621.2 554.60,630.9 554.70,663.8 554.80,658.7 554.90,674.6 555.00,663.3 555.10,697.5 555.20,658.6 555.30,698.3 555.40,683.5 555.50,699.7 555.55,699.7 555.55,442.3 555.60,442.3 555.70,442.3 555.80,477.2 555.90,480.3 556.00,456.1 556.10,486.9 556.20,471.1 556.30,458.7 556.40,489.4 556.50,486.9 556.60,489.6 556.70,485.7 556.80,477.8 556.90,485.6 557.00,516.5 557.10,518.2 557.20,502.1 557.30,490.9 557.40,520.3 557.50,528.3 557.60,524.2 557.70,527.3 557.80,524.8 557.90,534.0 558.00,531.6 558.10,548.3 558.20,528.5 558.30,534.6 558.40,543.6 558.50,551.7 558.60,565.5 558.70,577.4 558.80,559.9 558.90,570.6 559.00,575.6 559.10,553.1 559.20,582.6 559.30,561.4 559.40,556.2 559.50,571.2 559.60,596.8 559.70,589.5 559.80,603.7 559.90,600.4 560.00,602.7 560.10,630.8 560.20,615.9 560.30,614.2 560.40,612.3 560.50,620.7 560.60,627.4 560.70,637.0 560.80,618.7 560.90,648.1 561.00,652.7 561.10,646.9 561.20,654.8 561.30,674.8 561.40,647.6 561.50,645.1 561.60,662.8 561.70,668.9 561.80,669.5 561.90,662.2 562.00,695.5 562.10,682.2 562.20,669.3 562.30,699.7 562.40,683.8 562.50,699.7 562.55,699.7 562.55,442.3 562.60,442.3 562.70,442.3 562.80,442.3 562.90,448.6 563.00,476.2 563.10,479.8 563.20,484.8 563.30,464.1 563.40,479.7 563.50,462.6 563.60,488.7 563.70,476.5 563.80,485.6 563.90,497.4 564.00,508.7 564.10,492.0 564.20,547.9 564.30,472.5 564.40,524.8 564.50,511.9 564.60,490.7 564.70,550.3 564.80,547.9 564.90,518.4 565.00,562.3 565.10,546.2 565.20,551.8 565.30,547.1 565.40,559.6 565.50,548.2 565.60,577.1 565.70,569.1 565.80,595.8 565.90,566.6 566.00,611.5 566.10,576.8 566.20,599.1 566.30,566.0 566.40,590.4 566.50,592.8 566.60,614.3 566.70,601.5 566.80,595.8 566.90,606.1 567.00,588.3 567.10,623.0 567.20,592.2 567.30,656.0 567.40,644.0 567.50,641.4 567.60,646.8 567.70,637.8 567.80,657.4 567.90,677.2 568.00,666.2 568.10,685.5 568.20,668.3 568.30,667.9 568.40,699.7 568.50,664.1 568.60,698.7 568.70,690.1 568.80,687.9 568.90,697.3 569.00,682.0 569.05,699.7 569.05,442.3 569.10,442.3 569.20,496.6 569.30,442.3 569.40,455.8 569.50,449.3 569.60,457.9 569.70,473.2 569.80,461.9 569.90,460.0 570.00,459.9 570.10,446.4 570.20,455.6 570.30,481.3 570.40,445.3 570.50,460.0 570.60,485.3 570.70,465.6 570.80,461.3 570.90,482.3 571.00,482.3 571.10,528.7 571.20,520.9 571.30,496.1 571.40,494.3 571.50,476.3 571.60,520.2 571.70,511.8 571.80,500.7 571.90,521.3 572.00,523.8 572.10,484.5 572.20,505.9 572.30,482.1 572.40,530.2 572.50,496.3 572.60,497.7 572.70,479.2 572.80,515.0 572.90,495.2 573.00,502.0 573.10,523.6 573.20,550.6 573.30,542.7 573.40,543.1 573.50,538.0 573.60,522.0 573.70,517.7 573.80,558.7 573.90,532.0 574.00,532.4 574.10,530.6 574.20,567.8 574.30,573.2 574.40,537.7 574.50,556.2 574.60,557.6 574.70,528.3 574.80,572.4 574.90,589.0 575.00,576.4 575.10,536.6 575.20,570.8 575.30,557.5 575.40,560.3 575.50,532.6 575.60,588.2 575.70,568.4 575.80,572.4 575.90,584.3 576.00,577.4 576.10,616.4 576.20,577.4 576.30,613.0 576.40,570.7 576.50,593.7 576.60,625.6 576.70,605.2 576.80,584.5 576.90,616.4 577.00,643.5 577.10,608.9 577.20,606.7 577.30,610.2 577.40,606.1 577.50,588.5 577.60,594.5 577.70,593.7 577.80,621.8 577.90,585.0 578.00,651.9 578.10,651.1 578.20,647.8 578.30,632.6 578.40,626.4 578.50,651.8 578.60,634.3 578.70,618.9 578.80,629.9 578.90,633.3 579.00,622.1 579.10,617.4 579.20,661.9 579.30,652.1 579.40,681.6 579.50,669.0 579.60,671.7 579.70,665.5 579.80,692.3 579.90,665.6 580.00,662.7 580.10,688.2 580.20,677.8 580.30,654.6 580.40,658.0 580.50,690.6 580.60,685.1 580.70,681.0 580.80,667.8 580.90,663.2 581.00,692.1 581.10,693.0 581.20,682.4 581.30,699.7 581.40,684.3 581.50,699.7 581.60,699.7 581.70,664.1 581.80,697.1 581.90,699.7 582.00,683.1 582.05,699.7 582.05,442.3 582.10,454.0 582.20,466.1 582.30,473.4 582.40,446.2 582.50,505.0 582.60,525.2 582.70,505.3 582.80,513.5 582.90,555.6 583.00,555.4 583.10,526.2 583.20,553.9 583.30,549.7 583.40,594.1 583.50,597.6 583.60,630.9 583.70,662.9 583.80,611.7 583.90,662.7 584.00,652.1 584.10,678.3 584.20,673.2 584.30,694.3 584.40,657.7 584.50,699.7 584.55,699.7 584.55,442.3 584.60,459.5 584.70,450.5 584.80,502.0 584.90,444.0 585.00,472.3 585.10,442.3 585.20,484.5 585.30,442.3 585.40,514.0 585.50,482.8 585.60,450.2 585.70,461.1 585.80,485.1 585.90,460.0 586.00,496.7 586.10,462.6 586.20,454.3 586.30,454.0 586.40,507.7 586.50,461.7 586.60,465.3 586.70,489.2 586.80,490.7 586.90,489.8 587.00,509.5 587.10,508.5 587.20,494.6 587.30,489.7 587.40,509.3 587.50,545.9 587.60,503.0 587.70,555.3 587.80,494.5 587.90,506.8 588.00,541.4 588.10,507.8 588.20,510.9 588.30,538.5 588.40,560.8 588.50,513.0 588.60,532.7 588.70,547.6 588.80,524.2 588.90,556.4 589.00,524.2 589.10,515.7 589.20,562.4 589.30,562.8 589.40,539.4 589.50,554.9 589.60,594.1 589.70,539.3 589.80,571.8 589.90,542.4 590.00,593.4 590.10,562.8 590.20,562.8 590.30,563.5 590.40,593.2 590.50,607.5 590.60,567.4 590.70,562.6 590.80,581.9 590.90,577.3 591.00,602.6 591.10,611.4 591.20,570.0 591.30,566.2 591.40,561.3 591.50,592.2 591.60,619.4 591.70,655.5 591.80,600.2 591.90,587.1 592.00,598.1 592.10,599.8 592.20,636.3 592.30,594.5 592.40,592.0 592.50,571.9 592.60,598.1 592.70,594.7 592.80,662.6 592.90,657.3 593.00,657.7 593.10,617.8 593.20,636.2 593.30,658.1 593.40,658.3 593.50,632.5 593.60,676.9 593.70,639.6 593.80,641.5 593.90,612.7 594.00,653.2 594.10,690.7 594.20,632.4 594.30,657.1 594.40,664.6 594.50,677.7 594.60,662.9 594.70,683.0 594.80,680.3 594.90,683.7 595.00,654.6 595.10,665.1 595.20,699.7 595.30,682.6 595.40,695.1 595.50,683.6 595.60,680.2 595.70,696.7 595.80,671.3 595.90,674.0 596.00,699.7 596.05,699.7 596.05,442.3 596.10,451.7 596.20,482.0 596.30,501.3 596.40,508.8 596.50,514.9 596.60,523.5 596.70,505.7 596.80,518.8 596.90,548.0 597.00,563.2 597.10,551.8 597.20,556.8 597.30,551.7 597.40,582.7 597.50,588.5 597.60,635.2 597.70,624.0 597.80,619.4 597.90,651.3 598.00,663.2 598.10,618.1 598.20,651.3 598.30,679.8 598.40,672.1 598.50,695.0 598.55,699.7 598.55,442.3 598.60,462.1 598.70,460.2 598.80,469.0 598.90,455.0 599.00,483.9 599.10,488.6 599.20,516.7 599.30,523.1 599.40,513.3 599.50,519.5 599.60,514.1 599.70,521.9 599.80,535.0 599.90,565.1 600.00,544.6 600.10,588.1 600.20,565.0 600.30,565.7 600.40,557.0 600.50,598.4 600.60,595.0 600.70,605.2 600.80,640.2 600.90,603.6 601.00,635.6 601.10,622.0 601.20,664.3 601.30,640.2 601.40,643.8 601.50,663.3 601.60,632.1 601.70,673.4 601.80,670.4 601.90,699.7 602.00,685.7 602.05,699.7 602.05,442.3 602.10,476.0 602.20,470.3 602.30,469.5 602.40,465.8 602.50,442.3 602.60,468.1 602.70,466.0 602.80,482.4 602.90,476.7 603.00,510.2 603.10,476.1 603.20,479.6 603.30,516.5 603.40,530.6 603.50,510.1 603.60,497.4 603.70,521.3 603.80,538.9 603.90,502.5 604.00,544.2 604.10,503.3 604.20,498.1 604.30,559.7 604.40,515.8 604.50,518.7 604.60,522.2 604.70,509.4 604.80,508.2 604.90,535.8 605.00,539.1 605.10,548.9 605.20,556.1 605.30,532.0 605.40,541.4 605.50,557.5 605.60,532.8 605.70,538.3 605.80,546.5 605.90,569.7 606.00,570.4 606.10,544.4 606.20,557.3 606.30,572.6 606.40,599.4 606.50,597.9 606.60,594.0 606.70,600.4 606.80,583.4 606.90,591.3 607.00,643.3 607.10,609.3 607.20,606.3 607.30,639.9 607.40,651.0 607.50,629.4 607.60,634.4 607.70,608.6 607.80,637.5 607.90,623.6 608.00,619.1 608.10,626.3 608.20,661.3 608.30,653.5 608.40,667.6 608.50,678.9 608.60,648.2 608.70,693.5 608.80,694.9 608.90,697.4 609.00,680.9 609.10,686.9 609.20,680.0 609.30,681.9 609.40,699.7 609.50,699.7 609.55,699.7 609.55,442.3 609.60,452.9 609.70,448.3 609.80,455.8 609.90,498.5 610.00,494.9 610.10,523.3 610.20,490.5 610.30,513.4 610.40,512.0 610.50,530.5 610.60,553.8 610.70,574.6 610.80,525.2 610.90,593.0 611.00,595.4 611.10,559.3 611.20,607.9 611.30,588.8 611.40,582.8 611.50,592.0 611.60,610.5 611.70,625.5 611.80,619.2 611.90,642.0 612.00,645.8 612.10,668.3 612.20,679.7 612.30,699.7 612.40,665.7 612.50,695.7 612.55,699.7 612.55,442.3 612.60,442.3 612.70,475.9 612.80,478.7 612.90,462.5 613.00,475.2 613.10,466.9 613.20,477.5 613.30,478.2 613.40,472.9 613.50,451.8 613.60,469.4 613.70,498.0 613.80,488.7 613.90,494.3 614.00,466.4 614.10,532.1 614.20,513.8 614.30,498.2 614.40,518.8 614.50,493.6 614.60,526.8 614.70,518.2 614.80,506.8 614.90,494.7 615.00,506.8 615.10,537.4 615.20,516.0 615.30,552.5 615.40,546.5 615.50,526.1 615.60,570.5 615.70,531.2 615.80,573.4 615.90,546.3 616.00,560.0 616.10,556.4 616.20,562.9 616.30,594.8 616.40,575.8 616.50,567.4 616.60,586.3 616.70,573.4 616.80,611.8 616.90,604.4 617.00,574.5 617.10,596.6 617.20,601.5 617.30,601.8 617.40,589.8 617.50,624.7 617.60,603.7 617.70,620.3 617.80,624.8 617.90,643.1 618.00,607.1 618.10,628.0 618.20,645.2 618.30,644.5 618.40,655.7 618.50,632.7 618.60,674.7 618.70,663.7 618.80,661.4 618.90,659.8 619.00,679.1 619.10,683.2 619.20,658.9 619.30,649.5 619.40,693.5 619.50,688.7 619.60,693.7 619.70,699.7 619.80,681.3 619.90,699.7 619.95,699.7 619.95,442.3 620.00,466.6 620.10,464.6 620.20,468.6 620.30,480.5 620.40,490.6 620.50,504.8 620.60,533.0 620.70,545.9 620.80,549.9 620.90,553.3 621.00,568.2 621.10,604.0 621.20,621.0 621.30,606.1 621.40,630.3 621.50,631.7 621.60,669.3 621.70,688.6 621.80,688.9 621.85,699.7 621.85,442.3 621.90,476.7 622.00,449.8 622.10,481.1 622.20,493.0 622.30,494.7 622.40,524.9 622.50,525.5 622.60,504.4 622.70,557.2 622.80,546.5 622.90,575.3 623.00,551.6 623.10,551.5 623.20,623.3 623.30,596.2 623.40,608.2 623.50,610.4 623.60,617.3 623.70,637.5 623.80,643.5 623.90,676.0 624.00,646.7 624.10,676.3 624.20,699.7 624.25,699.7 624.25,442.3 624.30,453.7 624.40,461.0 624.50,488.2 624.60,489.1 624.70,502.6 624.80,482.9 624.90,479.3 625.00,512.0 625.10,503.4 625.20,552.9 625.30,543.7 625.40,560.6 625.50,551.9 625.60,585.4 625.70,585.6 625.80,595.2 625.90,609.8 626.00,629.8 626.10,610.3 626.20,647.5 626.30,638.2 626.40,673.2 626.50,684.2 626.60,687.2 626.70,694.3 626.80,674.2 626.90,699.7 626.95,699.7 626.95,442.3 627.00,462.2 627.10,476.1 627.20,472.4 627.30,475.8 627.40,513.3 627.50,520.4 627.60,509.1 627.70,519.0 627.80,550.8 627.90,566.6 628.00,615.3 628.10,600.3 628.20,583.3 628.30,622.4 628.40,658.6 628.50,644.8 628.60,662.2 628.70,655.1 628.80,678.8 628.90,686.9 628.95,699.7 628.95,442.3 629.00,442.3 629.10,469.4 629.20,493.6 629.30,496.2 629.40,509.6 629.50,550.3 629.60,539.2 629.70,592.2 629.80,598.8 629.90,592.3 630.00,595.5 630.10,639.0 630.20,637.2 630.30,671.7 630.40,699.7 630.45,699.7 630.45,442.3 630.50,450.9 630.60,447.7 630.70,461.9 630.80,458.9 630.90,490.7 631.00,488.8 631.10,499.8 631.20,552.9 631.30,567.2 631.40,566.1 631.50,558.0 631.60,567.7 631.70,612.4 631.80,621.5 631.90,644.0 632.00,651.1 632.10,616.2 632.20,668.1 632.30,698.9 632.40,699.7 632.45,699.7 632.45,442.3 632.50,475.6 632.60,444.3 632.70,469.2 632.80,442.7 632.90,460.9 633.00,515.0 633.10,531.3 633.20,541.5 633.30,514.6 633.40,495.1 633.50,556.5 633.60,569.6 633.70,575.7 633.80,595.7 633.90,621.1 634.00,613.6 634.10,635.2 634.20,626.0 634.30,640.2 634.40,652.1 634.50,648.3 634.60,687.7 634.70,659.4 634.80,674.9 634.90,683.1 634.95,699.7 634.95,442.3 635.00,465.9 635.10,470.9 635.20,469.2 635.30,498.2 635.40,544.9 635.50,530.2 635.60,560.0 635.70,574.1 635.80,588.4 635.90,626.9 636.00,631.9 636.10,653.8 636.20,666.3 636.30,662.2 636.40,671.6 636.45,699.7 636.45,442.3 636.50,442.3 636.60,442.7 636.70,467.5 636.80,481.4 636.90,500.8 637.00,486.5 637.10,510.2 637.20,514.2 637.30,528.1 637.40,516.0 637.50,566.7 637.60,569.5 637.70,593.1 637.80,596.6 637.90,587.6 638.00,612.0 638.10,655.2 638.20,645.3 638.30,638.9 638.40,652.5 638.50,671.5 638.60,666.4 638.70,688.6 638.80,696.9 638.85,699.7 638.85,442.3 638.90,442.3 639.00,452.9 639.10,499.2 639.20,489.9 639.30,477.2 639.40,505.0 639.50,501.7 639.60,537.2 639.70,530.8 639.80,554.1 639.90,567.8 640.00,573.5 640.10,572.1 640.20,608.7 640.30,612.0 640.40,630.7 640.50,638.0 640.60,645.9 640.70,659.4 640.80,667.1 640.90,660.9 641.00,699.7 641.05,699.7 641.05,442.3 641.10,476.9 641.20,442.3 641.30,442.3 641.40,500.3 641.50,500.6 641.60,493.0 641.70,520.5 641.80,538.6 641.90,556.8 642.00,581.3 642.10,549.0 642.20,581.6 642.30,618.4 642.40,597.0 642.50,602.2 642.60,626.9 642.70,635.6 642.80,674.7 642.90,658.3 643.00,682.1 643.10,697.7 643.15,699.7 643.15,442.3 643.20,457.3 643.30,453.9 643.40,442.3 643.50,483.4 643.60,491.0 643.70,504.7 643.80,515.8 643.90,501.4 644.00,524.4 644.10,518.9 644.20,535.1 644.30,596.2 644.40,567.0 644.50,595.9 644.60,629.3 644.70,638.1 644.80,633.1 644.90,622.8 645.00,640.9 645.10,661.8 645.20,688.3 645.30,689.9 645.35,699.7 645.35,442.3 645.40,442.3 645.50,448.7 645.60,476.5 645.70,511.7 645.80,512.0 645.90,505.1 646.00,527.6 646.10,530.6 646.20,545.2 646.30,579.5 646.40,576.6 646.50,581.1 646.60,622.7 646.70,635.0 646.80,623.4 646.90,658.1 647.00,664.7 647.10,682.4 647.20,694.6 647.25,699.7 647.25,442.3 647.30,453.0 647.40,448.9 647.50,476.6 647.60,494.1 647.70,503.4 647.80,528.3 647.90,551.3 648.00,570.7 648.10,541.7 648.20,591.2 648.30,610.9 648.40,601.4 648.50,615.4 648.60,631.2 648.70,645.6 648.80,685.4 648.90,655.6 648.95,699.7 648.95,442.3 649.00,442.3 649.10,447.4 649.20,452.3 649.30,485.4 649.40,468.4 649.50,446.4 649.60,448.5 649.70,472.0 649.80,482.8 649.90,474.2 650.00,481.9 650.10,482.9 650.20,475.0 650.30,525.1 650.40,492.8 650.50,519.5 650.60,491.8 650.70,516.7 650.80,531.3 650.90,504.6 651.00,505.0 651.10,528.8 651.20,501.4 651.30,532.9 651.40,537.1 651.50,532.9 651.60,539.9 651.70,550.3 651.80,522.3 651.90,552.5 652.00,543.8 652.10,563.1 652.20,569.2 652.30,571.6 652.40,583.7 652.50,556.1 652.60,593.3 652.70,577.9 652.80,576.8 652.90,612.2 653.00,582.0 653.10,606.5 653.20,604.4 653.30,616.3 653.40,594.3 653.50,629.1 653.60,627.4 653.70,612.1 653.80,589.0 653.90,607.9 654.00,609.2 654.10,644.3 654.20,616.0 654.30,640.3 654.40,644.5 654.50,605.1 654.60,625.2 654.70,646.7 654.80,669.0 654.90,654.3 655.00,647.5 655.10,660.8 655.20,648.7 655.30,678.2 655.40,666.7 655.50,664.0 655.60,683.7 655.70,693.1 655.80,669.1 655.90,690.7 656.00,690.2 656.05,699.7 656.05,442.3 656.10,459.2 656.20,451.7 656.30,459.3 656.40,467.6 656.50,480.5 656.60,486.8 656.70,502.2 656.80,504.2 656.90,521.6 657.00,531.6 657.10,510.8 657.20,580.7 657.30,575.8 657.40,560.5 657.50,575.6 657.60,541.5 657.70,572.8 657.80,573.7 657.90,613.3 658.00,617.8 658.10,641.7 658.20,637.6 658.30,626.6 658.40,658.0 658.50,642.3 658.60,659.4 658.70,691.8 658.80,695.7 658.90,694.8 659.00,688.3 659.05,699.7 659.05,442.3 659.10,461.1 659.20,470.3 659.30,469.8 659.40,475.2 659.50,482.1 659.60,482.1 659.70,526.7 659.80,514.4 659.90,510.5 660.00,502.9 660.10,525.4 660.20,545.1 660.30,548.9 660.40,573.2 660.50,559.8 660.60,594.7 660.70,601.2 660.80,605.7 660.90,602.3 661.00,597.2 661.10,622.3 661.20,607.0 661.30,621.3 661.40,626.2 661.50,644.0 661.60,657.6 661.70,671.5 661.80,666.2 661.90,686.3 662.00,699.7 662.05,699.7 662.05,442.3 662.10,442.3 662.20,445.8 662.30,473.5 662.40,492.5 662.50,493.1 662.60,528.9 662.70,496.7 662.80,527.0 662.90,518.0 663.00,533.2 663.10,557.2 663.20,562.9 663.30,604.5 663.40,586.2 663.50,612.6 663.60,592.9 663.70,619.1 663.80,618.7 663.90,643.2 664.00,660.9 664.10,670.2 664.20,648.3 664.30,670.8 664.40,689.0 664.50,694.9 664.55,699.7 664.55,442.3 664.60,454.9 664.70,443.5 664.80,454.5 664.90,442.3 665.00,467.4 665.10,453.5 665.20,475.5 665.30,479.4 665.40,485.8 665.50,442.5 665.60,456.9 665.70,450.9 665.80,458.8 665.90,477.6 666.00,492.3 666.10,491.1 666.20,502.0 666.30,488.3 666.40,493.6 666.50,496.0 666.60,467.8 666.70,513.4 666.80,494.3 666.90,510.2 667.00,505.7 667.10,507.3 667.20,487.3 667.30,516.7 667.40,507.6 667.50,484.5 667.60,486.8 667.70,507.6 667.80,509.2 667.90,492.5 668.00,510.9 668.10,528.1 668.20,536.0 668.30,539.5 668.40,527.9 668.50,535.2 668.60,514.4 668.70,545.6 668.80,524.2 668.90,537.5 669.00,542.3 669.10,533.0 669.20,548.7 669.30,552.9 669.40,579.2 669.50,561.1 669.60,577.9 669.70,561.0 669.80,566.2 669.90,570.6 670.00,584.5 670.10,581.0 670.20,556.5 670.30,564.6 670.40,584.3 670.50,563.4 670.60,587.8 670.70,610.7 670.80,593.8 670.90,594.5 671.00,607.5 671.10,605.9 671.20,594.8 671.30,613.8 671.40,605.3 671.50,600.4 671.60,623.1 671.70,618.0 671.80,628.6 671.90,608.1 672.00,596.3 672.10,610.9 672.20,650.0 672.30,611.8 672.40,641.0 672.50,627.9 672.60,649.7 672.70,606.8 672.80,632.3 672.90,646.9 673.00,638.6 673.10,621.3 673.20,671.8 673.30,635.7 673.40,650.8 673.50,681.4 673.60,652.8 673.70,649.5 673.80,666.6 673.90,680.8 674.00,677.7 674.10,667.5 674.20,657.7 674.30,669.9 674.40,663.1 674.50,693.8 674.60,699.2 674.70,662.5 674.80,658.6 674.90,692.5 675.00,687.6 675.10,691.2 675.20,682.7 675.30,688.0 675.40,694.2 675.45,699.7 675.45,442.3 675.50,447.1 675.60,488.9 675.70,450.7 675.80,505.3 675.90,513.9 676.00,540.2 676.10,536.9 676.20,557.1 676.30,562.5 676.40,582.6 676.50,574.2 676.60,590.4 676.70,628.8 676.80,605.4 676.90,647.9 677.00,615.7 677.10,660.0 677.20,670.3 677.30,689.8 677.40,691.8 677.45,699.7 677.45,442.3 677.50,442.3 677.60,463.1 677.70,476.6 677.80,497.9 677.90,514.1 678.00,503.0 678.10,511.6 678.20,553.1 678.30,556.8 678.40,571.8 678.50,588.3 678.60,590.6 678.70,614.9 678.80,629.7 678.90,588.0 679.00,674.6 679.10,658.1 679.20,657.7 679.30,689.0 679.40,699.7 679.50,697.9 679.55,699.7 679.55,442.3 679.60,446.1 679.70,446.9 679.80,499.0 679.90,482.4 680.00,477.8 680.10,469.7 680.20,493.0 680.30,532.4 680.40,522.3 680.50,535.5 680.60,535.9 680.70,539.5 680.80,536.2 680.90,579.3 681.00,564.8 681.10,591.5 681.20,606.3 681.30,615.3 681.40,623.0 681.50,612.7 681.60,624.3 681.70,679.8 681.80,649.6 681.90,648.2 682.00,658.9 682.10,664.0 682.20,688.8 682.30,686.5 682.35,699.7 682.35,442.3 682.40,476.8 682.50,468.2 682.60,497.8 682.70,526.1 682.80,542.9 682.90,542.2 683.00,547.9 683.10,601.5 683.20,592.3 683.30,597.8 683.40,632.9 683.50,627.2 683.60,665.1 683.70,665.9 683.80,687.6 683.85,699.7 683.85,442.3 683.90,442.3 684.00,442.3 684.10,486.6 684.20,460.9 684.30,464.6 684.40,527.7 684.50,487.3 684.60,511.5 684.70,543.5 684.80,519.5 684.90,543.2 685.00,568.9 685.10,576.2 685.20,584.3 685.30,591.0 685.40,602.0 685.50,615.3 685.60,635.1 685.70,631.9 685.80,634.4 685.90,637.7 686.00,670.3 686.10,684.5 686.20,699.7 686.30,673.1 686.35,699.7 686.35,442.3 686.40,442.3 686.50,468.4 686.60,482.7 686.70,459.4 686.80,476.6 686.90,459.9 687.00,442.3 687.10,478.4 687.20,498.9 687.30,472.4 687.40,476.0 687.50,486.3 687.60,496.9 687.70,506.6 687.80,502.9 687.90,537.6 688.00,514.5 688.10,522.3 688.20,519.6 688.30,564.9 688.40,532.5 688.50,535.6 688.60,556.3 688.70,545.9 688.80,566.9 688.90,556.6 689.00,589.8 689.10,577.0 689.20,571.8 689.30,583.2 689.40,572.4 689.50,581.6 689.60,613.9 689.70,604.3 689.80,588.2 689.90,600.0 690.00,594.3 690.10,619.3 690.20,615.8 690.30,613.9 690.40,647.7 690.50,631.3 690.60,660.1 690.70,641.3 690.80,630.4 690.90,645.3 691.00,653.3 691.10,661.2 691.20,652.9 691.30,680.9 691.40,642.9 691.50,668.4 691.60,672.8 691.70,675.4 691.80,698.4 691.90,680.3 692.00,691.0 692.05,699.7 692.05,442.3 692.10,453.4 692.20,455.3 692.30,461.8 692.40,476.0 692.50,497.4 692.60,476.5 692.70,474.0 692.80,465.1 692.90,482.6 693.00,469.3 693.10,499.9 693.20,503.8 693.30,507.2 693.40,518.6 693.50,503.6 693.60,536.6 693.70,527.1 693.80,531.5 693.90,541.8 694.00,508.7 694.10,542.5 694.20,559.4 694.30,542.2 694.40,563.7 694.50,562.5 694.60,584.0 694.70,605.5 694.80,557.2 694.90,584.4 695.00,601.0 695.10,616.1 695.20,615.0 695.30,617.6 695.40,619.7 695.50,652.1 695.60,636.4 695.70,612.9 695.80,627.4 695.90,618.9 696.00,641.0 696.10,661.0 696.20,639.0 696.30,669.4 696.40,665.1 696.50,669.2 696.60,675.9 696.70,699.7 696.80,671.2 696.90,699.7 697.00,692.8 697.05,699.7 697.05,442.3 697.10,462.1 697.20,461.8 697.30,461.3 697.40,508.3 697.50,516.2 697.60,490.7 697.70,526.8 697.80,536.1 697.90,516.7 698.00,535.0 698.10,553.1 698.20,550.6 698.30,581.5 698.40,574.0 698.50,584.7 698.60,595.6 698.70,618.4 698.80,609.9 698.90,615.4 699.00,619.3 699.10,662.8 699.20,673.3 699.30,661.7 699.40,687.2 699.50,666.7 699.55,699.7 699.55,442.3 699.60,445.3 699.70,460.1 699.80,488.6 699.90,472.4 700.00,498.6 700.10,481.8 700.20,502.7 700.30,512.2 700.40,529.3 700.50,558.0 700.60,551.7 700.70,572.2 700.80,571.0 700.90,590.0 701.00,575.3 701.10,586.5 701.20,616.5 701.30,620.9 701.40,637.9 701.50,638.8 701.60,613.4 701.70,666.5 701.80,699.7 701.90,671.2 702.00,696.8 702.05,699.7 702.05,442.3 702.10,457.2 702.20,469.2 702.30,451.2 702.40,481.7 702.50,460.3 702.60,480.3 702.70,507.4 702.80,498.6 702.90,494.5 703.00,523.4 703.10,545.2 703.20,528.3 703.30,498.9 703.40,552.8 703.50,560.4 703.60,574.5 703.70,544.8 703.80,576.6 703.90,580.6 704.00,581.1 704.10,590.0 704.20,629.9 704.30,599.6 704.40,636.8 704.50,651.2 704.60,640.6 704.70,637.0 704.80,652.6 704.90,670.0 705.00,677.9 705.10,668.5 705.20,685.6 705.30,699.7 705.40,699.7 705.45,699.7 705.45,442.3 705.50,452.6 705.60,461.1 705.70,498.4 705.80,475.1 705.90,470.9 706.00,469.5 706.10,484.4 706.20,515.8 706.30,527.7 706.40,516.1 706.50,548.7 706.60,555.5 706.70,513.5 706.80,585.5 706.90,566.8 707.00,599.7 707.10,575.8 707.20,609.1 707.30,596.0 707.40,599.2 707.50,609.7 707.60,604.8 707.70,606.7 707.80,664.2 707.90,664.9 708.00,640.5 708.10,665.4 708.20,669.3 708.30,683.2 708.40,681.3 708.45,699.7 708.45,442.3 708.50,452.3 708.60,442.3 708.70,468.4 708.80,460.9 708.90,522.8 709.00,537.0 709.10,538.1 709.20,572.8 709.30,585.6 709.40,588.4 709.50,606.7 709.60,577.7 709.70,638.5 709.80,635.0 709.90,661.4 710.00,685.1 710.10,678.1 710.20,680.1 710.25,699.7 710.25,442.3 710.30,442.3 710.40,471.3 710.50,461.3 710.60,486.6 710.70,512.0 710.80,507.9 710.90,544.8 711.00,526.5 711.10,583.1 711.20,594.8 711.30,627.1 711.40,599.4 711.50,631.3 711.60,642.1 711.70,638.1 711.80,636.1 711.90,673.5 712.00,699.7 712.10,673.9 712.15,699.7 712.15,442.3 712.20,478.4 712.30,476.6 712.40,490.3 712.50,500.6 712.60,535.4 712.70,538.2 712.80,563.3 712.90,588.2 713.00,614.0 713.10,627.7 713.20,664.0 713.30,683.0 713.40,682.9 713.45,699.7 713.45,442.3 713.50,442.3 713.60,486.0 713.70,470.7 713.80,472.4 713.90,508.8 714.00,513.7 714.10,506.3 714.20,555.8 714.30,534.8 714.40,546.8 714.50,566.3 714.60,564.6 714.70,583.3 714.80,605.4 714.90,614.1 715.00,651.7 715.10,658.6 715.20,637.3 715.30,660.8 715.40,664.5 715.50,670.3 715.55,699.7 715.55,442.3 715.60,453.9 715.70,442.3 715.80,482.3 715.90,456.1 716.00,507.9 716.10,487.8 716.20,510.6 716.30,537.9 716.40,536.6 716.50,546.7 716.60,561.9 716.70,565.1 716.80,582.7 716.90,582.1 717.00,579.6 717.10,617.8 717.20,636.5 717.30,595.3 717.40,658.1 717.50,676.0 717.60,645.7 717.70,690.4 717.80,680.2 717.90,699.7 717.95,699.7 717.95,442.3 718.00,468.7 718.10,462.6 718.20,504.5 718.30,491.7 718.40,548.4 718.50,529.3 718.60,550.5 718.70,578.6 718.80,614.8 718.90,606.8 719.00,613.5 719.10,628.5 719.20,627.1 719.30,646.1 719.40,689.8 719.50,699.7 719.55,699.7 719.55,442.3 719.60,467.7 719.70,463.8 719.80,471.3 719.90,479.5 720.00,504.5 720.10,497.5 720.20,530.9 720.30,529.3 720.40,520.8 720.50,563.5 720.60,568.9 720.70,608.9 720.80,576.2 720.90,586.7 721.00,608.0 721.10,615.6 721.20,657.1 721.30,635.1 721.40,648.2 721.50,646.1 721.60,689.8 721.70,695.7 721.75,699.7 721.75,442.3 721.80,468.4 721.90,485.9 722.00,470.3 722.10,490.4 722.20,516.5 722.30,510.3 722.40,513.7 722.50,553.9 722.60,551.1 722.70,570.6 722.80,582.4 722.90,584.1 723.00,618.3 723.10,619.5 723.20,666.1 723.30,649.1 723.40,638.3 723.50,657.0 723.60,682.6 723.65,699.7 723.65,442.3 723.70,463.2 723.80,452.6 723.90,472.7 724.00,489.5 724.10,492.3 724.20,503.0 724.30,502.3 724.40,530.2 724.50,567.7 724.60,556.1 724.70,544.3 724.80,574.6 724.90,574.6 725.00,589.1 725.10,609.5 725.20,606.7 725.30,614.9 725.40,625.0 725.50,666.7 725.60,663.2 725.70,673.9 725.80,682.5 725.90,699.7 725.95,699.7 725.95,442.3 726.00,468.2 726.10,467.8 726.20,477.4 726.30,510.0 726.40,540.5 726.50,520.2 726.60,553.0 726.70,563.7 726.80,598.9 726.90,613.2 727.00,627.5 727.10,641.6 727.20,681.2 727.30,684.8 727.40,699.7 727.45,699.7 727.45,442.3 727.50,447.7 727.60,479.9 727.70,449.6 727.80,471.4 727.90,479.5 728.00,489.0 728.10,504.2 728.20,528.5 728.30,536.8 728.40,542.9 728.50,565.1 728.60,577.5 728.70,567.2 728.80,557.7 728.90,594.3 729.00,622.2 729.10,647.1 729.20,657.7 729.30,653.7 729.40,642.9 729.50,665.1 729.60,687.7 729.70,682.8 729.80,694.9 729.85,699.7 729.85,442.3 729.90,442.3 730.00,449.7 730.10,467.8 730.20,495.1 730.30,506.8 730.40,504.2 730.50,520.9 730.60,507.4 730.70,519.1 730.80,565.5 730.90,538.6 731.00,583.7 731.10,579.0 731.20,580.9 731.30,617.3 731.40,612.1 731.50,627.7 731.60,622.9 731.70,650.9 731.80,667.3 731.90,658.1 732.00,673.8 732.10,679.1 732.15,699.7 732.15,442.3 732.20,448.6 732.30,482.5 732.40,471.4 732.50,501.8 732.60,494.1 732.70,547.9 732.80,592.6 732.90,594.5 733.00,604.4 733.10,653.8 733.20,665.5 733.30,671.9 733.40,698.4 733.45,699.7 733.45,442.3 733.50,442.9 733.60,467.6 733.70,442.3 733.80,489.0 733.90,490.3 734.00,515.3 734.10,513.2 734.20,522.3 734.30,544.2 734.40,561.4 734.50,529.0 734.60,570.8 734.70,580.1 734.80,604.9 734.90,573.1 735.00,622.4 735.10,619.6 735.20,629.8 735.30,625.2 735.40,664.9 735.50,657.1 735.60,668.8 735.70,688.7 735.80,699.7 735.85,699.7 735.85,442.3 735.90,466.6 736.00,467.3 736.10,486.4 736.20,489.4 736.30,492.9 736.40,517.4 736.50,527.6 736.60,563.7 736.70,590.5 736.80,579.5 736.90,584.6 737.00,614.8 737.10,639.1 737.20,642.8 737.30,652.5 737.40,656.8 737.50,686.1 737.60,692.0 737.65,699.7 737.65,442.3 737.70,453.9 737.80,492.0 737.90,455.3 738.00,485.5 738.10,463.6 738.20,473.4 738.30,510.1 738.40,516.9 738.50,514.6 738.60,530.6 738.70,522.2 738.80,530.5 738.90,578.7 739.00,596.0 739.10,566.8 739.20,567.7 739.30,599.8 739.40,614.2 739.50,613.3 739.60,633.0 739.70,666.6 739.80,667.3 739.90,663.4 740.00,652.5 740.10,680.6 740.20,683.8 740.30,699.7 740.35,699.7 740.35,442.3 740.40,442.3 740.50,481.9 740.60,461.5 740.70,479.2 740.80,492.7 740.90,506.0 741.00,518.1 741.10,535.7 741.20,537.9 741.30,526.6 741.40,562.6 741.50,602.0 741.60,598.9 741.70,595.2 741.80,610.6 741.90,623.8 742.00,643.4 742.10,658.2 742.20,675.2 742.30,696.5 742.40,681.7 742.45,699.7 742.45,442.3 742.50,442.3 742.60,442.3 742.70,462.7 742.80,489.2 742.90,487.7 743.00,503.6 743.10,548.7 743.20,540.9 743.30,549.8 743.40,585.9 743.50,594.5 743.60,607.5 743.70,603.8 743.80,638.7 743.90,638.4 744.00,680.3 744.10,659.6 744.20,675.3 744.25,699.7 744.25,442.3 744.30,442.3 744.40,456.8 744.50,475.5 744.60,505.1 744.70,483.8 744.80,489.9 744.90,520.1 745.00,534.4 745.10,558.4 745.20,538.8 745.30,578.1 745.40,574.6 745.50,625.0 745.60,607.4 745.70,620.0 745.80,622.7 745.90,628.5 746.00,671.1 746.10,684.6 746.20,678.4 746.30,684.1 746.35,699.7 746.35,442.3 746.40,485.2 746.50,491.0 746.60,473.1 746.70,523.7 746.80,538.2 746.90,557.0 747.00,564.2 747.10,584.1 747.20,614.6 747.30,600.0 747.40,625.2 747.50,660.6 747.60,684.8 747.65,699.7 747.65,442.3 747.70,456.6 747.80,447.1 747.90,485.0 748.00,483.1 748.10,489.1 748.20,496.8 748.30,513.6 748.40,495.4 748.50,531.7 748.60,528.4 748.70,544.0 748.80,565.0 748.90,565.1 749.00,585.4 749.10,605.5 749.20,618.0 749.30,609.1 749.40,635.6 749.50,631.8 749.60,645.0 749.70,650.2 749.80,662.7 749.90,682.6 750.00,679.7 750.10,698.0 750.15,699.7 750.15,442.3 750.20,443.9 750.30,458.3 750.40,473.6 750.50,482.4 750.60,491.4 750.70,494.1 750.80,512.5 750.90,504.8 751.00,516.9 751.10,527.3 751.20,541.8 751.30,525.6 751.40,532.4 751.50,545.3 751.60,570.1 751.70,573.4 751.80,570.3 751.90,579.0 752.00,590.3 752.10,597.2 752.20,598.5 752.30,623.5 752.40,649.6 752.50,636.0 752.60,646.8 752.70,634.4 752.80,667.2 752.90,674.0 753.00,677.8 753.10,699.7 753.15,699.7 753.15,442.3 753.20,453.8 753.30,469.6 753.40,479.4 753.50,462.7 753.60,469.2 753.70,519.8 753.80,501.6 753.90,509.3 754.00,518.8 754.10,520.3 754.20,578.2 754.30,537.0 754.40,577.6 754.50,608.4 754.60,572.0 754.70,590.6 754.80,627.2 754.90,646.1 755.00,628.1 755.10,619.0 755.20,632.5 755.30,665.0 755.40,673.3 755.50,665.7 755.60,689.8 755.70,699.7 755.75,699.7 755.75,442.3 755.80,451.7 755.90,474.0 756.00,503.1 756.10,490.6 756.20,514.2 756.30,502.0 756.40,525.1 756.50,549.2 756.60,572.4 756.70,572.5 756.80,578.8 756.90,599.8 757.00,588.0 757.10,594.4 757.20,620.2 757.30,658.0 757.40,666.2 757.50,694.7 757.60,683.1 757.70,698.4 757.75,699.7 757.75,442.3 757.80,445.3 757.90,468.7 758.00,489.6 758.10,477.0 758.20,500.3 758.30,501.3 758.40,499.1 758.50,536.6 758.60,525.5 758.70,558.2 758.80,567.3 758.90,569.1 759.00,616.0 759.10,597.5 759.20,609.6 759.30,617.7 759.40,623.3 759.50,645.1 759.60,660.0 759.70,663.1 759.80,677.9 759.90,676.1 759.95,699.7 759.95,442.3 760.00,452.7 760.10,445.9 760.20,453.3 760.30,459.3 760.40,481.6 760.50,490.7 760.60,517.0 760.70,507.5 760.80,535.2 760.90,528.0 761.00,538.6 761.10,545.4 761.20,553.7 761.30,555.0 761.40,552.6 761.50,567.6 761.60,589.7 761.70,598.6 761.80,599.9 761.90,600.6 762.00,626.5 762.10,618.6 762.20,611.4 762.30,640.4 762.40,660.5 762.50,642.3 762.60,658.5 762.70,675.4 762.80,684.5 762.90,686.6 763.00,692.8 763.05,699.7 763.05,442.3 763.10,454.1 763.20,446.3 763.30,471.9 763.40,462.1 763.50,472.5 763.60,465.9 763.70,465.0 763.80,459.8 763.90,470.7 764.00,498.2 764.10,487.8 764.20,478.5 764.30,509.8 764.40,503.1 764.50,490.5 764.60,510.4 764.70,526.2 764.80,515.3 764.90,529.6 765.00,523.0 765.10,541.1 765.20,536.7 765.30,546.8 765.40,559.3 765.50,553.1 765.60,518.8 765.70,547.5 765.80,528.5 765.90,577.0 766.00,567.5 766.10,570.2 766.20,589.1 766.30,587.0 766.40,583.6 766.50,570.7 766.60,597.0 766.70,616.3 766.80,595.9 766.90,584.0 767.00,616.4 767.10,618.7 767.20,621.5 767.30,640.6 767.40,643.6 767.50,635.1 767.60,629.6 767.70,637.5 767.80,654.6 767.90,653.5 768.00,641.5 768.10,656.9 768.20,669.2 768.30,655.5 768.40,636.8 768.50,683.7 768.60,694.5 768.70,691.4 768.80,699.7 768.90,699.7 769.00,699.7 769.05,699.7 769.05,442.3 769.10,460.6 769.20,474.5 769.30,487.0 769.40,512.2 769.50,501.2 769.60,523.3 769.70,537.5 769.80,540.5 769.90,563.7 770.00,567.4 770.10,552.8 770.20,608.5 770.30,623.0 770.40,629.5 770.50,631.4 770.60,671.0 770.70,659.4 770.80,672.1 770.90,685.2 771.00,699.7 771.05,699.7 771.05,442.3 771.10,456.4 771.20,467.4 771.30,480.2 771.40,508.5 771.50,502.3 771.60,533.2 771.70,523.9 771.80,570.7 771.90,560.1 772.00,579.5 772.10,580.2 772.20,606.6 772.30,586.8 772.40,629.0 772.50,622.8 772.60,647.3 772.70,661.0 772.80,655.7 772.90,681.8 773.00,699.7 773.05,699.7 773.05,442.3 773.10,450.8 773.20,467.8 773.30,462.1 773.40,477.8 773.50,508.5 773.60,506.2 773.70,504.2 773.80,502.6 773.90,509.9 774.00,549.4 774.10,532.9 774.20,548.6 774.30,555.5 774.40,560.5 774.50,573.9 774.60,585.5 774.70,610.9 774.80,573.2 774.90,604.3 775.00,607.2 775.10,589.9 775.20,609.5 775.30,623.0 775.40,636.4 775.50,658.6 775.60,661.7 775.70,664.9 775.80,659.8 775.90,674.5 776.00,681.9 776.10,691.6 776.15,699.7 776.15,442.3 776.20,446.8 776.30,453.5 776.40,493.8 776.50,499.8 776.60,507.1 776.70,499.1 776.80,499.3 776.90,512.5 777.00,517.2 777.10,534.6 777.20,538.4 777.30,569.2 777.40,553.9 777.50,582.6 777.60,585.4 777.70,595.8 777.80,599.1 777.90,623.4 778.00,633.9 778.10,612.8 778.20,654.0 778.30,634.3 778.40,656.7 778.50,670.1 778.60,676.5 778.70,670.7 778.80,696.2 778.85,699.7 778.85,442.3 778.90,448.7 779.00,452.4 779.10,487.3 779.20,487.4 779.30,500.0 779.40,523.6 779.50,515.1 779.60,549.5 779.70,558.6 779.80,563.8 779.90,585.5 780.00,596.3 780.10,623.7 780.20,611.6 780.30,615.3 780.40,640.0 780.50,663.5 780.60,665.2 780.70,684.4 780.75,699.7 780.75,442.3 780.80,453.6 780.90,463.9 781.00,468.1 781.10,486.5 781.20,508.5 781.30,514.1 781.40,515.3 781.50,540.8 781.60,556.2 781.70,562.8 781.80,600.6 781.90,587.0 782.00,586.3 782.10,618.7 782.20,649.7 782.30,640.9 782.40,657.8 782.50,687.1 782.60,692.3 782.70,689.1 782.75,699.7 782.75,442.3 782.80,442.3 782.90,455.6 783.00,465.5 783.10,466.6 783.20,490.5 783.30,494.4 783.40,500.1 783.50,508.6 783.60,518.2 783.70,523.5 783.80,526.0 783.90,547.9 784.00,550.3 784.10,560.1 784.20,567.6 784.30,562.5 784.40,584.6 784.50,574.9 784.60,599.6 784.70,623.2 784.80,618.3 784.90,632.7 785.00,624.1 785.10,657.5 785.20,654.0 785.30,686.0 785.40,670.4 785.50,694.0 785.60,676.6 785.70,689.4 785.75,699.7 785.75,442.3 785.80,448.8 785.90,456.3 786.00,487.1 786.10,494.3 786.20,513.4 786.30,517.7 786.40,550.7 786.50,535.6 786.60,567.6 786.70,587.4 786.80,574.0 786.90,585.0 787.00,611.9 787.10,664.7 787.20,647.4 787.30,670.8 787.40,685.3 787.50,699.7 787.55,699.7 787.55,442.3 787.60,448.2 787.70,463.5 787.80,459.1 787.90,486.5 788.00,479.2 788.10,491.4 788.20,493.3 788.30,528.2 788.40,527.3 788.50,536.0 788.60,539.8 788.70,552.5 788.80,568.2 788.90,574.2 789.00,576.9 789.10,593.9 789.20,599.5 789.30,624.7 789.40,620.0 789.50,617.7 789.60,627.2 789.70,650.4 789.80,662.9 789.90,664.9 790.00,679.3 790.10,698.2 790.20,689.2 790.25,699.7 790.25,442.3 790.30,445.4 790.40,450.9 790.50,442.7 790.60,478.4 790.70,472.4 790.80,483.8 790.90,484.7 791.00,491.3 791.10,515.1 791.20,535.6 791.30,541.2 791.40,549.4 791.50,533.0 791.60,576.3 791.70,566.7 791.80,590.7 791.90,604.1 792.00,597.0 792.10,614.2 792.20,614.5 792.30,634.2 792.40,627.3 792.50,630.8 792.60,661.1 792.70,659.9 792.80,678.5 792.90,696.9 793.00,699.7 793.05,699.7 793.05,442.3 793.10,442.3 793.20,456.8 793.30,480.7 793.40,476.8 793.50,490.7 793.60,507.9 793.70,515.3 793.80,532.3 793.90,547.2 794.00,548.5 794.10,545.7 794.20,567.3 794.30,583.0 794.40,595.1 794.50,607.4 794.60,611.3 794.70,621.1 794.80,658.8 794.90,675.6 795.00,678.1 795.10,672.4 795.20,682.4 795.25,699.7 795.25,442.3 795.30,443.4 795.40,442.3 795.50,458.7 795.60,455.0 795.70,470.3 795.80,460.7 795.90,486.5 796.00,494.5 796.10,492.9 796.20,485.2 796.30,485.5 796.40,482.6 796.50,497.0 796.60,491.0 796.70,507.1 796.80,510.1 796.90,505.4 797.00,530.3 797.10,526.6 797.20,527.2 797.30,536.5 797.40,538.9 797.50,541.2 797.60,540.1 797.70,558.8 797.80,544.9 797.90,555.3 798.00,552.8 798.10,562.5 798.20,563.6 798.30,577.5 798.40,574.7 798.50,590.5 798.60,579.9 798.70,574.0 798.80,596.9 798.90,592.9 799.00,617.2 799.10,612.1 799.20,603.0 799.30,619.2 799.40,614.9 799.50,612.2 799.60,629.1 799.70,614.2 799.80,648.8 799.90,641.7 800.00,643.0 800.10,642.2 800.20,671.2 800.30,636.9 800.40,655.2 800.50,660.6 800.60,658.0 800.70,670.4 800.80,664.8 800.90,675.9 801.00,684.1 801.10,693.8 801.20,668.2 801.30,699.7 801.40,699.7 801.50,699.7 801.55,699.7 801.55,442.3 801.60,457.3 801.70,442.3 801.80,442.3 801.90,462.7 802.00,480.6 802.10,470.0 802.20,490.8 802.30,469.7 802.40,491.7 802.50,485.6 802.60,486.2 802.70,511.4 802.80,499.1 802.90,533.5 803.00,523.5 803.10,531.9 803.20,536.3 803.30,547.2 803.40,533.9 803.50,561.1 803.60,557.3 803.70,575.3 803.80,555.3 803.90,569.9 804.00,581.9 804.10,592.1 804.20,595.2 804.30,607.0 804.40,624.8 804.50,632.0 804.60,603.3 804.70,640.0 804.80,613.8 804.90,645.9 805.00,639.5 805.10,637.6 805.20,680.3 805.30,680.3 805.40,664.2 805.50,641.4 805.60,699.7 805.70,681.2 805.80,694.3 805.90,694.4 806.00,699.7 806.05,699.7 806.05,442.3 806.10,462.3 806.20,460.1 806.30,465.5 806.40,481.4 806.50,540.4 806.60,507.7 806.70,538.4 806.80,554.6 806.90,546.4 807.00,567.8 807.10,564.1 807.20,615.7 807.30,597.1 807.40,627.3 807.50,629.9 807.60,650.7 807.70,664.5 807.80,687.8 807.90,699.7 808.00,674.3 808.05,699.7 808.05,442.3 808.10,455.7 808.20,449.4 808.30,485.8 808.40,477.2 808.50,503.4 808.60,518.9 808.70,537.6 808.80,531.9 808.90,569.2 809.00,579.6 809.10,561.6 809.20,592.8 809.30,607.1 809.40,640.6 809.50,642.1 809.60,631.8 809.70,665.5 809.80,693.9 809.90,673.9 810.00,699.7 810.05,699.7 810.05,442.3 810.10,444.6 810.20,442.3 810.30,455.5 810.40,484.5 810.50,503.3 810.60,517.1 810.70,514.0 810.80,528.4 810.90,521.5 811.00,549.7 811.10,546.7 811.20,565.9 811.30,561.4 811.40,623.5 811.50,601.8 811.60,626.4 811.70,632.7 811.80,662.2 811.90,647.0 812.00,675.3 812.10,659.1 812.20,660.9 812.30,677.2 812.35,699.7 812.35,442.3 812.40,465.7 812.50,457.0 812.60,451.9 812.70,488.0 812.80,468.9 812.90,476.8 813.00,511.5 813.10,501.8 813.20,514.0 813.30,522.7 813.40,520.6 813.50,543.1 813.60,542.8 813.70,561.2 813.80,574.4 813.90,590.6 814.00,576.8 814.10,601.2 814.20,584.8 814.30,612.3 814.40,631.5 814.50,637.5 814.60,632.8 814.70,638.1 814.80,660.0 814.90,676.2 815.00,672.0 815.10,681.8 815.20,679.4 815.30,699.7 815.35,699.7 815.35,442.3 815.40,444.6 815.50,492.4 815.60,508.2 815.70,508.2 815.80,524.4 815.90,559.6 816.00,578.1 816.10,594.2 816.20,623.0 816.30,635.9 816.40,638.9 816.50,656.1 816.60,691.6 816.65,699.7 816.65,442.3 816.70,447.0 816.80,458.6 816.90,455.4 817.00,500.0 817.10,491.1 817.20,504.7 817.30,519.4 817.40,529.2 817.50,552.2 817.60,550.3 817.70,559.5 817.80,578.5 817.90,575.9 818.00,580.3 818.10,597.5 818.20,618.4 818.30,632.2 818.40,642.0 818.50,667.1 818.60,663.1 818.70,663.6 818.80,688.5 818.90,693.6 818.95,699.7 818.95,442.3 819.00,460.1 819.10,462.6 819.20,471.3 819.30,486.3 819.40,522.2 819.50,518.7 819.60,527.1 819.70,540.6 819.80,543.2 819.90,562.4 820.00,593.8 820.10,589.2 820.20,606.7 820.30,598.4 820.40,614.1 820.50,629.0 820.60,629.7 820.70,654.1 820.80,670.0 820.90,691.1 821.00,681.7 821.05,699.7 821.05,442.3 821.10,448.5 821.20,449.7 821.30,491.0 821.40,460.2 821.50,484.5 821.60,492.5 821.70,514.4 821.80,535.8 821.90,532.0 822.00,547.9 822.10,562.3 822.20,572.3 822.30,570.7 822.40,589.2 822.50,611.9 822.60,604.7 822.70,615.2 822.80,626.4 822.90,648.6 823.00,661.0 823.10,664.0 823.20,659.3 823.30,695.1 823.40,699.7 823.45,699.7 823.45,442.3 823.50,451.7 823.60,469.4 823.70,445.3 823.80,479.5 823.90,471.4 824.00,494.8 824.10,472.9 824.20,491.8 824.30,505.0 824.40,506.6 824.50,516.5 824.60,546.0 824.70,536.5 824.80,547.4 824.90,541.3 825.00,560.8 825.10,581.6 825.20,561.7 825.30,587.2 825.40,603.8 825.50,616.2 825.60,606.2 825.70,634.1 825.80,629.1 825.90,633.7 826.00,664.7 826.10,666.5 826.20,682.9 826.30,666.4 826.40,677.4 826.50,684.7 826.60,694.6 826.65,699.7 826.65,442.3 826.70,442.3 826.80,442.3 826.90,462.3 827.00,482.3 827.10,496.9 827.20,491.7 827.30,540.8 827.40,539.3 827.50,539.2 827.60,576.1 827.70,567.5 827.80,604.8 827.90,609.6 828.00,629.3 828.10,635.7 828.20,675.5 828.30,666.9 828.40,678.7 828.50,695.6 828.55,699.7 828.55,442.3 828.60,442.3 828.70,447.9 828.80,467.2 828.90,462.9 829.00,487.6 829.10,489.2 829.20,491.3 829.30,503.6 829.40,500.5 829.50,522.2 829.60,534.5 829.70,527.8 829.80,542.4 829.90,547.4 830.00,535.9 830.10,561.9 830.20,578.9 830.30,587.2 830.40,605.9 830.50,603.4 830.60,621.6 830.70,612.0 830.80,631.3 830.90,651.5 831.00,643.5 831.10,643.1 831.20,656.3 831.30,667.0 831.40,664.6 831.50,695.3 831.60,694.1 831.65,699.7 831.65,442.3 831.70,448.9 831.80,449.6 831.90,474.2 832.00,459.9 832.10,481.9 832.20,477.5 832.30,481.1 832.40,498.0 832.50,487.5 832.60,524.5 832.70,530.0 832.80,538.9 832.90,542.1 833.00,539.1 833.10,541.2 833.20,560.4 833.30,574.2 833.40,581.5 833.50,601.3 833.60,591.5 833.70,615.7 833.80,597.4 833.90,626.4 834.00,603.6 834.10,653.0 834.20,629.9 834.30,663.2 834.40,657.2 834.50,666.7 834.60,664.1 834.70,661.2 834.80,672.6 834.90,699.7 835.00,687.9 835.05,699.7 835.05,442.3 835.10,463.5 835.20,459.5 835.30,443.1 835.40,475.4 835.50,474.8 835.60,473.1 835.70,491.3 835.80,478.5 835.90,505.8 836.00,482.8 836.10,496.4 836.20,505.0 836.30,497.0 836.40,525.7 836.50,514.8 836.60,521.1 836.70,530.6 836.80,533.3 836.90,545.0 837.00,559.6 837.10,570.1 837.20,549.4 837.30,552.0 837.40,566.4 837.50,573.6 837.60,590.2 837.70,564.8 837.80,590.4 837.90,584.1 838.00,589.7 838.10,610.2 838.20,605.6 838.30,605.2 838.40,619.8 838.50,620.9 838.60,622.1 838.70,657.6 838.80,633.9 838.90,645.1 839.00,649.1 839.10,669.2 839.20,665.7 839.30,667.2 839.40,675.7 839.50,673.9 839.60,686.9 839.70,687.9 839.80,693.0 839.90,676.3 840.00,699.7 840.05,699.7 840.05,442.3 840.10,471.5 840.20,478.8 840.30,468.6 840.40,476.9 840.50,499.5 840.60,512.2 840.70,509.7 840.80,544.8 840.90,530.4 841.00,542.9 841.10,552.6 841.20,587.3 841.30,572.9 841.40,577.5 841.50,600.5 841.60,615.8 841.70,629.8 841.80,630.4 841.90,631.2 842.00,646.5 842.10,654.4 842.20,655.3 842.30,685.7 842.40,699.7 842.50,699.7 842.55,699.7 842.55,442.3 842.60,453.8 842.70,460.2 842.80,467.7 842.90,460.2 843.00,495.9 843.10,496.1 843.20,522.3 843.30,529.1 843.40,535.5 843.50,534.4 843.60,511.8 843.70,544.7 843.80,551.1 843.90,579.6 844.00,577.9 844.10,591.8 844.20,579.0 844.30,600.1 844.40,595.0 844.50,627.6 844.60,623.7 844.70,625.8 844.80,621.9 844.90,627.2 845.00,669.2 845.10,651.4 845.20,677.1 845.30,684.5 845.40,695.0 845.50,698.4 845.55,699.7 845.55,442.3 845.60,475.7 845.70,457.5 845.80,479.1 845.90,480.2 846.00,516.0 846.10,503.6 846.20,516.6 846.30,524.4 846.40,531.0 846.50,530.0 846.60,550.5 846.70,554.6 846.80,578.1 846.90,592.5 847.00,596.9 847.10,607.5 847.20,602.0 847.30,612.3 847.40,619.6 847.50,634.3 847.60,653.7 847.70,671.1 847.80,654.3 847.90,664.5 848.00,699.7 848.10,667.3 848.15,699.7 848.15,442.3 848.20,455.1 848.30,442.3 848.40,471.5 848.50,459.8 848.60,469.2 848.70,465.2 848.80,480.6 848.90,499.1 849.00,476.1 849.10,523.3 849.20,514.1 849.30,536.4 849.40,508.5 849.50,524.6 849.60,537.6 849.70,518.7 849.80,535.9 849.90,555.7 850.00,558.3 850.10,561.1 850.20,570.6 850.30,562.4 850.40,574.9 850.50,585.2 850.60,586.5 850.70,604.9 850.80,594.5 850.90,594.4 851.00,611.7 851.10,628.4 851.20,629.7 851.30,643.4 851.40,626.0 851.50,632.4 851.60,659.8 851.70,657.1 851.80,674.4 851.90,671.4 852.00,686.4 852.10,666.6 852.20,699.7 852.30,681.7 852.35,699.7 852.35,442.3 852.40,454.5 852.50,449.3 852.60,464.6 852.70,479.5 852.80,489.2 852.90,484.2 853.00,486.3 853.10,496.7 853.20,503.7 853.30,522.5 853.40,512.3 853.50,539.0 853.60,545.6 853.70,553.7 853.80,555.6 853.90,589.8 854.00,568.6 854.10,580.0 854.20,583.9 854.30,551.6 854.40,604.8 854.50,632.8 854.60,637.3 854.70,623.1 854.80,644.8 854.90,640.9 855.00,650.5 855.10,668.2 855.20,699.7 855.30,694.5 855.40,698.6 855.50,693.6 855.55,699.7 855.55,442.3 855.60,457.8 855.70,452.0 855.80,442.3 855.90,481.0 856.00,503.5 856.10,511.0 856.20,489.0 856.30,503.8 856.40,474.3 856.50,531.1 856.60,547.6 856.70,531.6 856.80,526.3 856.90,519.8 857.00,523.5 857.10,541.7 857.20,564.8 857.30,577.3 857.40,589.6 857.50,579.5 857.60,592.9 857.70,618.5 857.80,613.3 857.90,632.0 858.00,617.9 858.10,624.4 858.20,628.4 858.30,659.1 858.40,661.9 858.50,664.1 858.60,691.6 858.70,683.1 858.80,686.0 858.90,687.8 859.00,699.7 859.05,699.7 859.05,442.3 859.10,442.3 859.20,453.6 859.30,485.1 859.40,500.2 859.50,507.1 859.60,508.2 859.70,518.0 859.80,531.1 859.90,547.7 860.00,562.1 860.10,596.1 860.20,600.5 860.30,605.8 860.40,613.5 860.50,650.6 860.60,634.7 860.70,642.9 860.80,696.6 860.90,699.7 861.00,699.7 861.05,699.7 861.05,442.3 861.10,462.6 861.20,452.3 861.30,447.5 861.40,453.4 861.50,482.8 861.60,495.3 861.70,470.5 861.80,489.7 861.90,502.0 862.00,521.4 862.10,531.0 862.20,521.0 862.30,537.5 862.40,546.5 862.50,555.2 862.60,550.9 862.70,553.0 862.80,565.4 862.90,579.8 863.00,614.5 863.10,589.8 863.20,604.3 863.30,640.9 863.40,625.8 863.50,640.6 863.60,633.5 863.70,640.3 863.80,638.5 863.90,628.1 864.00,684.9 864.10,655.1 864.20,694.6 864.30,670.8 864.40,690.1 864.50,699.7 864.55,699.7 864.55,442.3 864.60,495.3 864.70,446.3 864.80,445.5 864.90,457.5 865.00,453.1 865.10,444.0 865.20,468.7 865.30,469.9 865.40,480.0 865.50,500.2 865.60,468.4 865.70,477.9 865.80,503.8 865.90,506.7 866.00,494.1 866.10,506.5 866.20,525.9 866.30,527.0 866.40,500.4 866.50,532.7 866.60,533.0 866.70,526.4 866.80,527.8 866.90,530.0 867.00,551.4 867.10,553.9 867.20,553.4 867.30,570.8 867.40,534.0 867.50,569.5 867.60,555.1 867.70,586.0 867.80,588.7 867.90,592.3 868.00,596.6 868.10,613.1 868.20,605.2 868.30,592.9 868.40,586.2 868.50,594.0 868.60,596.7 868.70,592.0 868.80,617.4 868.90,609.8 869.00,611.6 869.10,638.1 869.20,635.9 869.30,628.0 869.40,622.4 869.50,664.1 869.60,631.9 869.70,664.2 869.80,677.6 869.90,679.0 870.00,697.4 870.10,678.6 870.20,679.4 870.30,664.3 870.40,677.9 870.50,671.8 870.60,662.0 870.65,699.7 870.65,442.3 870.70,442.3 870.80,461.3 870.90,475.3 871.00,473.4 871.10,487.0 871.20,486.0 871.30,510.4 871.40,524.2 871.50,508.5 871.60,527.6 871.70,525.8 871.80,535.1 871.90,573.8 872.00,560.6 872.10,575.8 872.20,584.4 872.30,594.1 872.40,624.2 872.50,632.1 872.60,652.0 872.70,665.9 872.80,668.8 872.90,689.7 873.00,662.7 873.10,680.0 873.20,695.3 873.25,699.7 873.25,442.3 873.30,442.3 873.40,484.4 873.50,442.3 873.60,491.8 873.70,482.7 873.80,495.2 873.90,514.7 874.00,506.7 874.10,528.7 874.20,520.9 874.30,529.3 874.40,556.0 874.50,533.1 874.60,559.5 874.70,589.7 874.80,600.8 874.90,589.5 875.00,650.0 875.10,636.4 875.20,627.5 875.30,629.8 875.40,647.4 875.50,657.5 875.60,682.6 875.70,694.3 875.80,661.7 875.90,699.7 875.95,699.7 875.95,442.3 876.00,447.7 876.10,465.9 876.20,453.5 876.30,520.1 876.40,502.1 876.50,525.9 876.60,528.6 876.70,530.7 876.80,565.4 876.90,539.5 877.00,582.2 877.10,572.1 877.20,598.7 877.30,607.9 877.40,608.1 877.50,633.8 877.60,637.3 877.70,658.2 877.80,662.2 877.90,699.7 878.00,699.7 878.05,699.7 878.05,442.3 878.10,442.3 878.20,456.6 878.30,466.8 878.40,480.5 878.50,509.1 878.60,480.4 878.70,486.0 878.80,512.3 878.90,542.6 879.00,548.9 879.10,519.3 879.20,545.4 879.30,546.6 879.40,565.9 879.50,550.6 879.60,570.2 879.70,601.9 879.80,621.7 879.90,610.7 880.00,626.7 880.10,636.2 880.20,602.4 880.30,612.1 880.40,630.3 880.50,646.4 880.60,612.8 880.70,679.4 880.80,671.8 880.90,690.4 881.00,699.7 881.10,675.9 881.15,699.7 881.15,442.3 881.20,451.4 881.30,472.9 881.40,484.4 881.50,480.8 881.60,496.9 881.70,520.0 881.80,520.4 881.90,507.3 882.00,552.5 882.10,543.7 882.20,494.9 882.30,542.1 882.40,569.6 882.50,564.5 882.60,583.5 882.70,592.1 882.80,572.9 882.90,600.0 883.00,599.7 883.10,631.4 883.20,638.9 883.30,626.7 883.40,618.9 883.50,649.5 883.60,678.9 883.70,658.5 883.80,676.8 883.90,699.7 883.95,699.7 883.95,442.3 884.00,458.0 884.10,455.8 884.20,495.6 884.30,482.6 884.40,518.6 884.50,466.9 884.60,496.0 884.70,498.5 884.80,543.8 884.90,513.1 885.00,528.4 885.10,566.1 885.20,532.1 885.30,571.6 885.40,574.2 885.50,579.1 885.60,614.2 885.70,612.5 885.80,617.9 885.90,623.3 886.00,642.0 886.10,629.1 886.20,667.9 886.30,691.9 886.40,667.7 886.50,688.6 886.60,685.1 886.65,699.7 886.65,442.3 886.70,442.3 886.80,442.3 886.90,442.3 887.00,451.0 887.10,453.7 887.20,465.9 887.30,463.3 887.40,455.8 887.50,455.4 887.60,474.5 887.70,498.4 887.80,464.7 887.90,531.5 888.00,507.9 888.10,492.9 888.20,459.9 888.30,487.4 888.40,471.3 888.50,503.6 888.60,549.2 888.70,527.9 888.80,544.4 888.90,530.2 889.00,545.2 889.10,547.1 889.20,526.1 889.30,529.5 889.40,504.6 889.50,558.6 889.60,555.2 889.70,543.6 889.80,561.9 889.90,581.3 890.00,579.4 890.10,618.3 890.20,602.4 890.30,582.0 890.40,589.7 890.50,612.7 890.60,605.2 890.70,539.7 890.80,577.1 890.90,605.9 891.00,640.6 891.10,594.7 891.20,646.4 891.30,683.7 891.40,619.0 891.50,589.7 891.60,680.3 891.70,691.1 891.80,665.6 891.90,638.3 892.00,665.1 892.10,670.7 892.20,680.8 892.30,656.3 892.40,647.3 892.50,681.7 892.60,647.6 892.70,690.7 892.80,678.0 892.90,693.3 893.00,699.7 893.05,699.7 893.05,442.3 893.10,452.5 893.20,510.7 893.30,463.0 893.40,442.3 893.50,447.2 893.60,472.0 893.70,488.9 893.80,538.0 893.90,502.9 894.00,556.0 894.10,523.6 894.20,517.7 894.30,591.3 894.40,569.9 894.50,547.6 894.60,570.8 894.70,587.1 894.80,562.9 894.90,568.0 895.00,622.9 895.10,660.8 895.20,639.9 895.30,633.6 895.40,592.9 895.50,627.7 895.60,676.1 895.70,643.8 895.80,693.4 895.90,699.7 896.00,699.7 896.05,699.7 896.05,442.3 896.10,449.4 896.20,442.3 896.30,454.8 896.40,494.7 896.50,482.5 896.60,544.4 896.70,518.7 896.80,561.1 896.90,525.1 897.00,482.8 897.10,518.3 897.20,568.0 897.30,539.3 897.40,549.9 897.50,584.1 897.60,582.5 897.70,616.6 897.80,562.9 897.90,606.9 898.00,642.6 898.10,661.4 898.20,599.0 898.30,675.5 898.40,656.0 898.50,675.8 898.60,678.8 898.70,669.9 898.80,668.5 898.90,699.7 899.00,699.7 899.05,699.7 899.05,442.3 899.10,442.3 899.20,453.5 899.30,446.1 899.40,508.7 899.50,461.1 899.60,466.1 899.70,529.4 899.80,511.0 899.90,509.2 900.00,522.6 900.10,512.9 900.20,512.7 900.30,523.9 900.40,585.8 900.50,534.7 900.60,555.3 900.70,605.0 900.80,617.3 900.90,589.1 901.00,625.8 901.10,634.5 901.20,654.1 901.30,611.8 901.40,656.2 901.50,628.5 901.60,693.6 901.70,689.7 901.80,675.4 901.90,669.5 902.00,648.9 902.05,699.7 902.05,442.3 902.10,442.3 902.20,454.9 902.30,479.4 902.40,442.3 902.50,452.8 902.60,452.0 902.70,457.4 902.80,459.7 902.90,472.2 903.00,468.0 903.10,470.0 903.20,475.2 903.30,461.1 903.40,476.2 903.50,527.2 903.60,526.7 903.70,517.4 903.80,498.5 903.90,486.9 904.00,485.1 904.10,498.7 904.20,515.2 904.30,548.2 904.40,513.8 904.50,513.5 904.60,552.9 904.70,517.8 904.80,525.4 904.90,558.9 905.00,532.7 905.10,536.8 905.20,564.8 905.30,555.4 905.40,553.6 905.50,566.4 905.60,609.8 905.70,560.6 905.80,609.5 905.90,553.6 906.00,567.9 906.10,552.2 906.20,579.6 906.30,598.8 906.40,592.3 906.50,623.8 906.60,576.4 906.70,589.2 906.80,604.5 906.90,573.6 907.00,647.7 907.10,610.0 907.20,645.3 907.30,667.5 907.40,635.4 907.50,652.4 907.60,592.2 907.70,649.9 907.80,680.9 907.90,597.8 908.00,628.7 908.10,625.1 908.20,641.2 908.30,642.9 908.40,625.5 908.50,629.4 908.60,676.6 908.70,636.8 908.80,699.7 908.90,683.4 909.00,688.7 909.10,688.0 909.20,676.7 909.30,687.0 909.40,653.3 909.50,699.7 909.55,699.7 909.55,442.3 909.60,462.9 909.70,442.3 909.80,442.3 909.90,484.7 910.00,466.9 910.10,475.1 910.20,467.0 910.30,473.4 910.40,508.3 910.50,498.9 910.60,515.0 910.70,487.0 910.80,459.5 910.90,454.5 911.00,471.3 911.10,494.3 911.20,551.8 911.30,501.9 911.40,553.2 911.50,543.8 911.60,538.8 911.70,520.2 911.80,525.3 911.90,566.5 912.00,584.8 912.10,530.3 912.20,543.9 912.30,588.2 912.40,537.1 912.50,583.1 912.60,537.9 912.70,533.8 912.80,514.7 912.90,560.7 913.00,605.3 913.10,520.8 913.20,623.1 913.30,587.1 913.40,607.4 913.50,586.6 913.60,570.4 913.70,567.9 913.80,633.2 913.90,675.4 914.00,587.4 914.10,583.9 914.20,606.1 914.30,590.5 914.40,636.8 914.50,637.3 914.60,676.7 914.70,622.5 914.80,660.0 914.90,627.6 915.00,666.7 915.10,679.5 915.20,699.7 915.30,665.6 915.40,677.1 915.50,657.0 915.60,699.7 915.70,668.2 915.80,696.0 915.90,689.8 916.00,699.7 916.10,699.7 916.20,684.2 916.30,663.3 916.40,699.7 916.50,699.7 916.55,699.7 916.55,442.3 916.60,442.3 916.70,465.3 916.80,442.3 916.90,475.3 917.00,469.9 917.10,456.7 917.20,474.8 917.30,461.7 917.40,461.5 917.50,475.1 917.60,495.7 917.70,539.5 917.80,514.0 917.90,504.8 918.00,538.8 918.10,510.0 918.20,527.2 918.30,533.6 918.40,551.5 918.50,544.6 918.60,544.1 918.70,564.8 918.80,551.6 918.90,600.1 919.00,572.5 919.10,565.8 919.20,625.8 919.30,595.1 919.40,593.4 919.50,616.4 919.60,586.8 919.70,563.1 919.80,579.0 919.90,611.8 920.00,603.5 920.10,579.5 920.20,637.6 920.30,632.3 920.40,628.0 920.50,622.6 920.60,667.6 920.70,644.0 920.80,699.7 920.90,656.7 921.00,686.6 921.10,683.0 921.20,621.0 921.30,693.5 921.40,699.7 921.50,692.8 921.55,699.7 921.55,442.3 921.60,442.3 921.70,462.6 921.80,463.4 921.90,454.2 922.00,463.9 922.10,510.4 922.20,503.5 922.30,479.8 922.40,485.3 922.50,498.9 922.60,474.1 922.70,490.5 922.80,530.3 922.90,507.0 923.00,503.9 923.10,568.1 923.20,551.8 923.30,546.3 923.40,598.2 923.50,525.7 923.60,529.9 923.70,636.8 923.80,600.7 923.90,548.4 924.00,537.5 924.10,579.3 924.20,552.2 924.30,589.8 924.40,603.8 924.50,571.9 924.60,637.8 924.70,640.5 924.80,635.2 924.90,645.3 925.00,675.5 925.10,676.6 925.20,607.4 925.30,660.8 925.40,682.9 925.50,699.7 925.60,699.7 925.70,691.3 925.80,699.7 925.90,668.3 926.00,699.7 926.05,699.7 926.05,442.3 926.10,442.3 926.20,473.4 926.30,461.4 926.40,509.2 926.50,492.1 926.60,490.4 926.70,461.2 926.80,509.8 926.90,456.1 927.00,517.0 927.10,498.5 927.20,494.6 927.30,513.7 927.40,534.0 927.50,540.4 927.60,516.3 927.70,548.7 927.80,485.5 927.90,518.9 928.00,549.5 928.10,580.2 928.20,524.3 928.30,501.9 928.40,582.3 928.50,607.4 928.60,549.1 928.70,524.3 928.80,562.3 928.90,609.2 929.00,600.1 929.10,573.1 929.20,621.8 929.30,592.7 929.40,589.7 929.50,581.6 929.60,640.8 929.70,616.1 929.80,605.8 929.90,631.8 930.00,613.2 930.10,641.5 930.20,658.7 930.30,671.0 930.40,657.7 930.50,657.9 930.60,643.1 930.70,661.0 930.80,688.7 930.90,665.8 931.00,646.5 931.10,697.6 931.20,683.7 931.30,699.7 931.40,656.9 931.50,687.1 931.55,699.7 931.55,442.3 931.60,442.3 931.70,443.1 931.80,442.3 931.90,449.5 932.00,458.5 932.10,442.3 932.20,442.3 932.30,458.4 932.40,455.3 932.50,447.0 932.60,442.9 932.70,442.3 932.80,480.5 932.90,464.5 933.00,487.2 933.10,464.3 933.20,452.5 933.30,442.3 933.40,442.3 933.50,442.3 933.60,462.7 933.70,442.3 933.80,442.3 933.90,465.3 934.00,471.0 934.10,449.9 934.20,484.2 934.30,480.2 934.40,456.7 934.50,467.8 934.60,478.2 934.70,472.5 934.80,476.5 934.90,479.1 935.00,472.0 935.10,508.3 935.20,465.2 935.30,485.6 935.40,486.2 935.50,483.8 935.60,476.1 935.70,444.1 935.80,502.3 935.90,505.6 936.00,495.7 936.10,501.7 936.20,523.3 936.30,501.9 936.40,505.2 936.50,469.8 936.60,481.8 936.70,532.5 936.80,537.0 936.90,468.3 937.00,505.7 937.10,535.7 937.20,512.5 937.30,479.2 937.40,496.5 937.50,468.1 937.60,476.6 937.70,511.5 937.80,489.0 937.90,532.0 938.00,498.2 938.10,501.0 938.20,504.8 938.30,501.7 938.40,473.3 938.50,527.6 938.60,523.5 938.70,511.8 938.80,519.1 938.90,499.9 939.00,513.9 939.10,539.8 939.20,508.0 939.30,522.3 939.40,538.0 939.50,498.6 939.60,528.3 939.70,521.0 939.80,500.8 939.90,525.5 940.00,527.3 940.10,521.7 940.20,508.3 940.30,512.9 940.40,491.4 940.50,525.6 940.60,488.8 940.70,499.6 940.80,496.9 940.90,509.5 941.00,533.5 941.10,514.8 941.20,498.4 941.30,491.1 941.40,521.1 941.50,513.4 941.60,505.5 941.70,498.8 941.80,510.3 941.90,536.1 942.00,534.3 942.10,513.9 942.20,526.5 942.30,474.6 942.40,540.2 942.50,516.9 942.60,532.4 942.70,512.5 942.80,488.4 942.90,558.6 943.00,527.9 943.10,532.4 943.20,515.8 943.30,536.1 943.40,523.2 943.50,545.0 943.60,508.7 943.70,509.8 943.80,538.0 943.90,569.6 944.00,536.6 944.10,533.6 944.20,551.3 944.30,508.1 944.40,563.1 944.50,499.5 944.60,531.5 944.70,523.7 944.80,556.0 944.90,561.5 945.00,532.4 945.10,505.6 945.20,545.7 945.30,517.3 945.40,536.4 945.50,558.6 945.60,536.2 945.70,530.1 945.80,548.7 945.90,535.5 946.00,541.3 946.10,524.2 946.20,556.8 946.30,557.7 946.40,538.6 946.50,582.4 946.60,555.3 946.70,563.6 946.80,564.2 946.90,539.9 947.00,553.6 947.10,561.1 947.20,546.0 947.30,587.3 947.40,553.3 947.50,580.3 947.60,563.4 947.70,543.7 947.80,573.7 947.90,592.6 948.00,606.3 948.10,593.9 948.20,597.5 948.30,605.4 948.40,608.8 948.50,603.0 948.60,606.7 948.70,599.4 948.80,604.5 948.90,574.8 949.00,608.6 949.10,610.2 949.20,602.5 949.30,604.7 949.40,623.2 949.50,628.9 949.60,624.0 949.70,629.7 949.80,601.7 949.90,641.9 950.00,634.2 950.10,627.6 950.20,622.8 950.30,607.8 950.40,642.4 950.50,643.1 950.60,616.2 950.70,620.7 950.80,648.7 950.90,668.3 951.00,642.8 951.10,678.7 951.20,632.4 951.30,645.5 951.40,683.8 951.50,648.0 951.60,683.6 951.70,677.1 951.80,650.6 951.90,696.8 952.00,699.7" fill="none" stroke="#0072bd" stroke-width="1.6" stroke-linejoin="round"/>
<g fill="#383838"><rect x="83.0" y="306.0" width="2" height="10"/>
<rect x="83.0" y="28.0" width="2" height="10"/>
<rect x="192.0" y="306.0" width="2" height="10"/>
<rect x="192.0" y="28.0" width="2" height="10"/>
<rect x="300.0" y="306.0" width="2" height="10"/>
<rect x="300.0" y="28.0" width="2" height="10"/>
<rect x="409.0" y="306.0" width="2" height="10"/>
<rect x="409.0" y="28.0" width="2" height="10"/>
<rect x="517.0" y="306.0" width="2" height="10"/>
<rect x="517.0" y="28.0" width="2" height="10"/>
<rect x="626.0" y="306.0" width="2" height="10"/>
<rect x="626.0" y="28.0" width="2" height="10"/>
<rect x="734.0" y="306.0" width="2" height="10"/>
<rect x="734.0" y="28.0" width="2" height="10"/>
<rect x="843.0" y="306.0" width="2" height="10"/>
<rect x="843.0" y="28.0" width="2" height="10"/>
<rect x="951.0" y="306.0" width="2" height="10"/>
<rect x="951.0" y="28.0" width="2" height="10"/>
<rect x="84.0" y="27.0" width="10" height="2"/>
<rect x="942.0" y="27.0" width="10" height="2"/>
<rect x="84.0" y="85.0" width="10" height="2"/>
<rect x="942.0" y="85.0" width="10" height="2"/>
<rect x="84.0" y="142.0" width="10" height="2"/>
<rect x="942.0" y="142.0" width="10" height="2"/>
<rect x="84.0" y="200.0" width="10" height="2"/>
<rect x="942.0" y="200.0" width="10" height="2"/>
<rect x="84.0" y="257.0" width="10" height="2"/>
<rect x="942.0" y="257.0" width="10" height="2"/>
<rect x="84.0" y="315.0" width="10" height="2"/>
<rect x="942.0" y="315.0" width="10" height="2"/>
<rect x="83.0" y="27.0" width="870.0" height="2"/>
<rect x="83.0" y="315.0" width="870.0" height="2"/>
<rect x="83.0" y="27.0" width="2" height="290.0"/>
<rect x="951.0" y="27.0" width="2" height="290.0"/></g>
<g fill="#383838"><rect x="83.0" y="704.0" width="2" height="10"/>
<rect x="83.0" y="428.0" width="2" height="10"/>
<rect x="192.0" y="704.0" width="2" height="10"/>
<rect x="192.0" y="428.0" width="2" height="10"/>
<rect x="300.0" y="704.0" width="2" height="10"/>
<rect x="300.0" y="428.0" width="2" height="10"/>
<rect x="409.0" y="704.0" width="2" height="10"/>
<rect x="409.0" y="428.0" width="2" height="10"/>
<rect x="517.0" y="704.0" width="2" height="10"/>
<rect x="517.0" y="428.0" width="2" height="10"/>
<rect x="626.0" y="704.0" width="2" height="10"/>
<rect x="626.0" y="428.0" width="2" height="10"/>
<rect x="734.0" y="704.0" width="2" height="10"/>
<rect x="734.0" y="428.0" width="2" height="10"/>
<rect x="843.0" y="704.0" width="2" height="10"/>
<rect x="843.0" y="428.0" width="2" height="10"/>
<rect x="951.0" y="704.0" width="2" height="10"/>
<rect x="951.0" y="428.0" width="2" height="10"/>
<rect x="84.0" y="427.0" width="10" height="2"/>
<rect x="942.0" y="427.0" width="10" height="2"/>
<rect x="84.0" y="499.0" width="10" height="2"/>
<rect x="942.0" y="499.0" width="10" height="2"/>
<rect x="84.0" y="570.0" width="10" height="2"/>
<rect x="942.0" y="570.0" width="10" height="2"/>
<rect x="84.0" y="642.0" width="10" height="2"/>
<rect x="942.0" y="642.0" width="10" height="2"/>
<rect x="84.0" y="713.0" width="10" height="2"/>
<rect x="942.0" y="713.0" width="10" height="2"/>
<rect x="83.0" y="427.0" width="870.0" height="2"/>
<rect x="83.0" y="713.0" width="870.0" height="2"/>
<rect x="83.0" y="427.0" width="2" height="288.0"/>
<rect x="951.0" y="427.0" width="2" height="288.0"/></g>
<g font-family="Liberation Sans, sans-serif" font-size="20" fill="#262626">
<text x="82.5" y="343.5" text-anchor="middle">0</text>
<text x="191.0" y="343.5" text-anchor="middle">3</text>
<text x="299.5" y="343.5" text-anchor="middle">6</text>
<text x="408.0" y="343.5" text-anchor="middle">9</text>
<text x="516.5" y="343.5" text-anchor="middle">12</text>
<text x="625.0" y="343.5" text-anchor="middle">15</text>
<text x="733.5" y="343.5" text-anchor="middle">18</text>
<text x="842.0" y="343.5" text-anchor="middle">21</text>
<text x="950.5" y="343.5" text-anchor="middle">24</text>
<text x="70.5" y="35.4" text-anchor="end">-60</text>
<text x="70.5" y="93.0" text-anchor="end">-65</text>
<text x="70.5" y="150.6" text-anchor="end">-70</text>
<text x="70.5" y="208.2" text-anchor="end">-75</text>
<text x="70.5" y="265.8" text-anchor="end">-80</text>
<text x="70.5" y="323.4" text-anchor="end">-85</text>
<text x="82.5" y="743.0" text-anchor="middle">0</text>
<text x="191.0" y="743.0" text-anchor="middle">3</text>
<text x="299.5" y="743.0" text-anchor="middle">6</text>
<text x="408.0" y="743.0" text-anchor="middle">9</text>
<text x="516.5" y="743.0" text-anchor="middle">12</text>
<text x="625.0" y="743.0" text-anchor="middle">15</text>
<text x="733.5" y="743.0" text-anchor="middle">18</text>
<text x="842.0" y="743.0" text-anchor="middle">21</text>
<text x="950.5" y="743.0" text-anchor="middle">24</text>
<text x="68.9" y="435.4" text-anchor="end">200</text>
<text x="68.9" y="506.9" text-anchor="end">100</text>
<text x="72.1" y="578.4" text-anchor="end">0</text>
<text x="69.9" y="649.9" text-anchor="end">-100</text>
<text x="69.9" y="721.4" text-anchor="end">-200</text>
</g>
<g font-family="Liberation Sans, sans-serif" font-size="22" fill="#262626">
<text x="339.3" y="772" >Time (hours after midnight UTC)</text>
<text transform="translate(29.8,255) rotate(-90)">Amplitude (dB)</text>
<text transform="translate(18,660.3) rotate(-90)">Phase (degrees)</text>
</g>
<text transform="translate(402.6,17) scale(1,1.04)" text-rendering="geometricPrecision" font-family="Liberation Sans, sans-serif" font-size="22" font-weight="bold" fill="#000">VTX320240513.txt</text>
</svg>
</body></html>
